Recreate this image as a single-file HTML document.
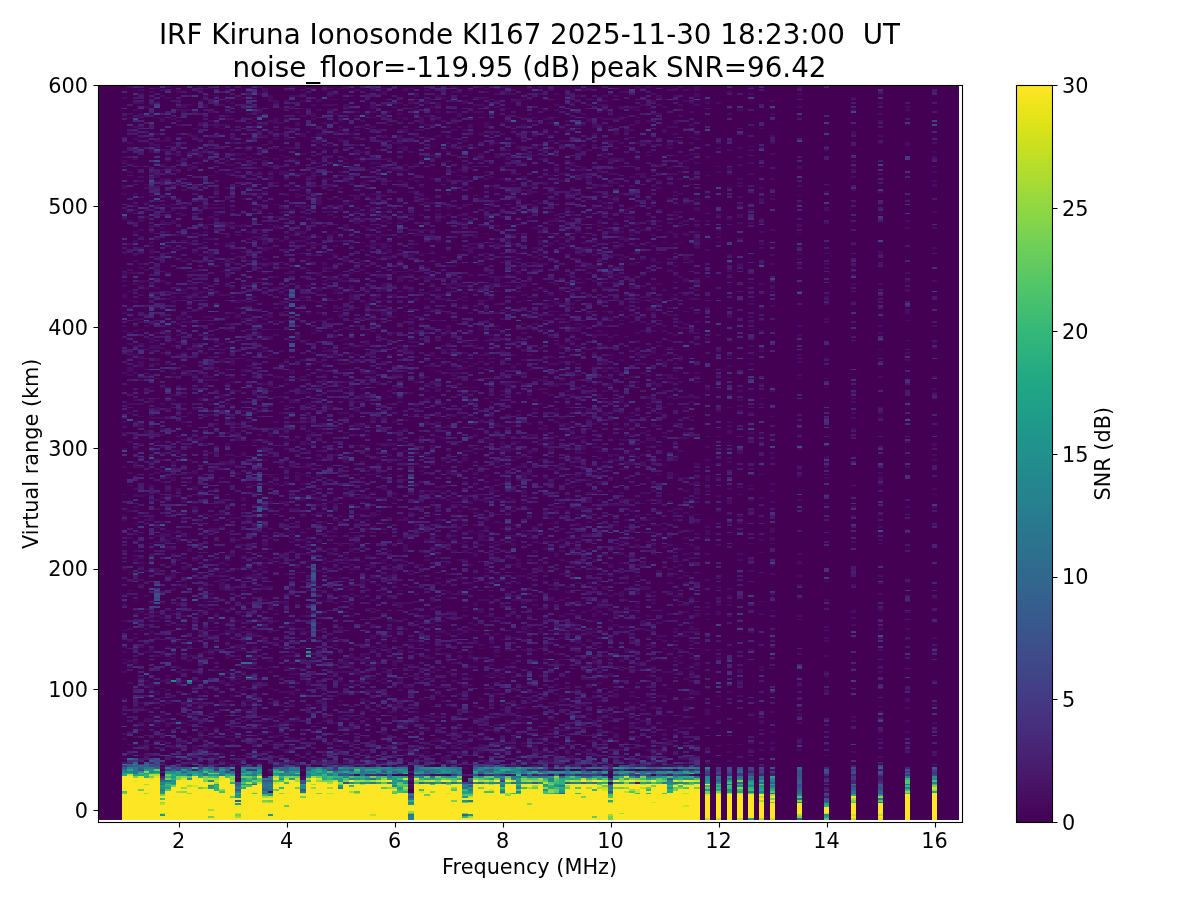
<!DOCTYPE html>
<html lang="en"><head><meta charset="utf-8"><title>IRF Kiruna Ionosonde KI167</title>
<style>html,body{margin:0;padding:0;background:#fff}body{width:1200px;height:900px;overflow:hidden}svg{display:block}text{font-family:"DejaVu Sans","Liberation Sans",sans-serif;fill:#000}.t{font-size:20.83px}.T{font-size:27.78px}</style></head><body>
<svg width="1200" height="900" viewBox="0 0 1200 900">
<defs><clipPath id="c"><rect x="98" y="85" width="864" height="737.5"/></clipPath><linearGradient id="g" x1="0" y1="0" x2="0" y2="1"><stop offset="0.0000" stop-color="#fde725"/><stop offset="0.0208" stop-color="#f1e51d"/><stop offset="0.0417" stop-color="#e5e419"/><stop offset="0.0625" stop-color="#d8e219"/><stop offset="0.0833" stop-color="#c8e020"/><stop offset="0.1042" stop-color="#bade28"/><stop offset="0.1250" stop-color="#addc30"/><stop offset="0.1458" stop-color="#9dd93b"/><stop offset="0.1667" stop-color="#90d743"/><stop offset="0.1875" stop-color="#84d44b"/><stop offset="0.2083" stop-color="#75d054"/><stop offset="0.2292" stop-color="#69cd5b"/><stop offset="0.2500" stop-color="#5ec962"/><stop offset="0.2708" stop-color="#52c569"/><stop offset="0.2917" stop-color="#48c16e"/><stop offset="0.3125" stop-color="#3fbc73"/><stop offset="0.3333" stop-color="#35b779"/><stop offset="0.3542" stop-color="#2eb37c"/><stop offset="0.3750" stop-color="#28ae80"/><stop offset="0.3958" stop-color="#23a983"/><stop offset="0.4167" stop-color="#20a486"/><stop offset="0.4375" stop-color="#1fa088"/><stop offset="0.4583" stop-color="#1f9a8a"/><stop offset="0.4792" stop-color="#1f958b"/><stop offset="0.5000" stop-color="#21918c"/><stop offset="0.5208" stop-color="#228b8d"/><stop offset="0.5417" stop-color="#24868e"/><stop offset="0.5625" stop-color="#26828e"/><stop offset="0.5833" stop-color="#287c8e"/><stop offset="0.6042" stop-color="#2a778e"/><stop offset="0.6250" stop-color="#2c728e"/><stop offset="0.6458" stop-color="#2e6d8e"/><stop offset="0.6667" stop-color="#31688e"/><stop offset="0.6875" stop-color="#33638d"/><stop offset="0.7083" stop-color="#365d8d"/><stop offset="0.7292" stop-color="#38588c"/><stop offset="0.7500" stop-color="#3b528b"/><stop offset="0.7708" stop-color="#3e4c8a"/><stop offset="0.7917" stop-color="#404688"/><stop offset="0.8125" stop-color="#424086"/><stop offset="0.8333" stop-color="#443983"/><stop offset="0.8542" stop-color="#46337f"/><stop offset="0.8750" stop-color="#472d7b"/><stop offset="0.8958" stop-color="#482576"/><stop offset="0.9167" stop-color="#481f70"/><stop offset="0.9375" stop-color="#48186a"/><stop offset="0.9583" stop-color="#471063"/><stop offset="0.9792" stop-color="#46085c"/><stop offset="1.0000" stop-color="#440154"/></linearGradient></defs>
<rect width="1200" height="900" fill="#fff"/>
<g clip-path="url(#c)" shape-rendering="crispEdges">
<rect x="98" y="85" width="860.83" height="734.8" fill="#440154"/>
<g transform="translate(97.65 819.8) scale(5.3993 -1.8123)" fill="none" stroke-width="1">
<path stroke="#470d60" d="M5 33v1m0 10v1m0 2v1m0 13v1m0 4v1m0 14v1m0 4v1m0 1v1m0 3v1m0 2v1m0 8v1m0 4v1m0 8v1m0 1v1m0 17v1m0 8v1m0 17v1m0 1v1m0 11v1m0 14v1m0 9v1m0 8v1m0 3v1m0 1v1m0 26v1m0 12v1m0 9v1m0 2v1m0 6v1m0 8v2m0 4v1m0 2v1m0 2v2m0 10v2m0 17v1m0 13v1m0 2v2m0 12v2m0 1v1m0 22v1m0 9v1m1-363v1m0 4v1m0 6v1m0 26v1m0 8v1m0 2v1m0 10v1m0 6v1m0 20v1m0 4v1m0 4v1m0 18v1m0 14v1m0 13v1m0 6v1m0 16v1m0 15v1m0 4v1m0 15v1m0 1v3m0 4v1m0 1v2m0 4v1m0 5v1m0 13v1m0 3v1m0 4v1m0 9v1m0 1v1m0 13v1m0 10v1m0 1v1m0 4v1m0 21v1m0 15v1m0 5v1m0 7v1m0 1v1m0 14v1m1-364v1m0 3v1m0 15v2m0 9v1m0 13v2m0 12v1m0 1v1m0 10v1m0 1v1m0 4v1m0 11v1m0 10v1m0 1v1m0 2v1m0 8v1m0 5v1m0 8v1m0 5v2m0 2v1m0 6v1m0 4v1m0 1v2m0 6v1m0 6v1m0 7v1m0 9v1m0 1v1m0 14v1m0 9v1m0 4v1m0 2v1m0 4v1m0 2v1m0 2v2m0 8v1m0 9v1m0 5v1m0 6v1m0 2v1m0 7v1m0 4v1m0 11v1m0 1v1m0 6v1m0 18v1m0 10v1m0 3v1m0 2v1m0 8v1m0 3v1m1-361v1m0 4v1m0 8v1m0 3v1m0 7v1m0 2v1m0 30v1m0 8v1m0 3v1m0 5v1m0 14v1m0 2v1m0 6v1m0 1v1m0 2v1m0 22v1m0 10v1m0 15v1m0 12v1m0 9v2m0 3v1m0 6v1m0 12v1m0 7v3m0 1v2m0 6v1m0 7v1m0 3v1m0 1v1m0 12v1m0 4v1m0 1v2m0 6v1m0 1v1m0 5v1m0 2v1m0 5v1m0 3v1m0 4v2m0 11v1m0 8v1m0 1v1m0 5v1m0 9v1m0 5v1m0 5v1m0 5v2m0 5v1m0 4v1m0 1v1m1-368v1m0 2v1m0 2v2m0 11v2m0 4v1m0 13v1m0 1v1m0 15v1m0 12v1m0 1v1m0 5v1m0 2v1m0 6v1m0 7v1m0 5v1m0 27v1m0 13v1m0 33v2m0 17v1m0 3v1m0 9v1m0 7v1m0 17v1m0 20v1m0 3v1m0 5v1m0 28v1m0 3v1m0 3v1m0 7v1m0 1v1m0 42v1m1-353v1m0 12v2m0 1v1m0 9v1m0 3v1m0 1v3m0 16v3m0 8v1m0 7v1m0 1v1m0 1v1m0 3v1m0 23v1m0 2v1m0 5v1m0 12v2m0 9v1m0 6v2m0 12v1m0 2v1m0 2v1m0 1v1m0 10v2m0 3v1m0 1v1m0 6v2m0 6v1m0 6v1m0 5v1m0 6v1m0 1v2m0 1v1m0 1v1m0 7v1m0 21v1m0 16v3m0 1v1m0 7v1m0 1v2m0 28v1m0 11v2m0 2v2m0 15v1m0 4v1m0 6v1m1-359v1m0 2v1m0 4v1m0 1v1m0 3v1m0 11v2m0 3v1m0 15v1m0 8v2m0 8v1m0 2v1m0 1v1m0 21v3m0 14v1m0 2v1m0 4v1m0 9v1m0 4v1m0 3v1m0 10v1m0 1v1m0 14v1m0 4v1m0 7v1m0 4v2m0 15v1m0 7v1m0 1v2m0 5v2m0 6v1m0 5v1m0 7v1m0 10v1m0 2v1m0 7v1m0 5v1m0 9v1m0 17v1m0 2v1m0 7v1m0 2v1m0 1v2m0 6v1m0 7v3m0 1v1m0 3v1m0 8v1m0 15v1m1-376v1m0 2v1m0 7v1m0 3v1m0 2v1m0 8v1m0 1v1m0 5v1m0 3v1m0 4v1m0 3v1m0 14v1m0 19v1m0 7v1m0 33v1m0 2v2m0 6v1m0 12v1m0 8v1m0 5v1m0 5v1m0 3v1m0 2v1m0 6v1m0 2v1m0 5v1m0 7v1m0 8v1m0 18v1m0 2v1m0 8v1m0 7v1m0 19v1m0 9v1m0 15v1m0 2v1m0 2v2m0 2v1m0 18v2m0 4v1m0 2v1m0 7v1m0 4v1m0 10v2m0 12v1m0 2v1m1-352v3m0 1v1m0 8v2m0 2v1m0 2v1m0 4v2m0 1v1m0 8v1m0 6v1m0 3v1m0 4v1m0 2v1m0 7v1m0 18v1m0 14v2m0 2v2m0 1v2m0 1v1m0 10v1m0 7v1m0 2v1m0 2v1m0 3v2m0 32v1m0 3v1m0 6v1m0 4v1m0 12v1m0 4v1m0 1v1m0 4v1m0 3v2m0 3v1m0 14v1m0 2v1m0 4v1m0 5v1m0 22v1m0 4v1m0 5v1m0 2v1m0 4v1m0 9v1m0 2v1m0 2v2m0 2v1m0 1v1m0 3v1m0 4v3m0 21v1m0 5v1m1-375v1m0 8v2m0 46v1m0 1v1m0 2v1m0 4v1m0 15v1m0 1v1m0 10v2m0 5v4m0 3v1m0 5v1m0 2v1m0 5v1m0 2v1m0 19v1m0 8v2m0 5v1m0 1v2m0 2v1m0 30v1m0 2v1m0 9v1m0 1v1m0 14v1m0 2v2m0 5v1m0 13v2m0 1v1m0 21v1m0 4v1m0 13v2m0 5v1m0 21v2m0 7v1m0 3v1m0 1v1m0 12v1m1-352v1m0 3v1m0 2v1m0 11v1m0 3v1m0 15v1m0 6v1m0 1v2m0 10v1m0 2v1m0 8v1m0 6v1m0 3v2m0 23v1m0 10v2m0 3v1m0 9v1m0 11v2m0 19v2m0 19v1m0 1v1m0 10v1m0 2v1m0 3v1m0 12v1m0 6v1m0 3v1m0 2v1m0 2v1m0 2v2m0 8v1m0 3v1m0 2v1m0 20v1m0 7v1m0 19v1m0 8v1m0 1v1m0 3v1m0 5v1m0 3v1m0 2v1m0 7v1m0 4v1m0 1v1m0 5v1m0 1v1m0 1v1m0 5v2m1-374v2m0 5v1m0 5v1m0 6v1m0 1v1m0 1v1m0 9v1m0 12v1m0 11v1m0 1v1m0 3v1m0 10v1m0 1v1m0 4v1m0 4v1m0 4v1m0 5v2m0 8v2m0 4v1m0 11v1m0 8v1m0 3v1m0 5v2m0 13v1m0 4v1m0 3v1m0 9v1m0 9v1m0 9v1m0 3v1m0 11v1m0 1v1m0 2v1m0 3v1m0 2v1m0 7v1m0 4v1m0 3v1m0 1v1m0 1v1m0 1v1m0 7v1m0 1v1m0 1v1m0 15v1m0 10v1m0 2v1m0 10v1m0 4v1m0 8v1m0 12v1m0 2v1m0 12v1m0 13v2m0 1v2m0 10v1m1-376v1m0 1v1m0 1v1m0 10v1m0 6v1m0 1v1m0 9v1m0 2v1m0 1v1m0 12v1m0 4v2m0 1v1m0 4v1m0 2v1m0 27v1m0 12v1m0 8v2m0 4v1m0 31v1m0 4v1m0 6v1m0 6v1m0 11v1m0 6v1m0 20v2m0 13v1m0 13v1m0 5v1m0 6v1m0 1v1m0 5v1m0 3v1m0 2v1m0 6v1m0 7v2m0 39v2m0 1v1m0 6v1m0 8v2m0 12v1m0 2v1m0 10v1m1-374v1m0 5v3m0 13v1m0 6v1m0 9v1m0 1v1m0 2v1m0 5v1m0 7v1m0 3v1m0 3v1m0 1v1m0 7v1m0 1v1m0 22v1m0 3v1m0 5v1m0 25v1m0 1v2m0 1v1m0 7v2m0 7v2m0 16v1m0 16v1m0 15v2m0 1v1m0 13v2m0 1v1m0 2v1m0 14v1m0 7v1m0 1v1m0 1v1m0 2v1m0 6v2m0 9v1m0 19v1m0 13v1m0 11v1m0 8v1m0 7v2m0 3v1m0 8v1m1-347v2m0 2v1m0 6v1m0 1v1m0 5v3m0 10v1m0 3v1m0 8v1m0 12v2m0 8v1m0 1v1m0 13v1m0 6v1m0 8v1m0 5v1m0 12v1m0 14v1m0 2v1m0 7v1m0 4v1m0 14v2m0 15v1m0 4v2m0 10v1m0 7v1m0 5v1m0 2v1m0 14v1m0 5v1m0 1v1m0 4v1m0 1v2m0 7v1m0 11v1m0 5v1m0 11v1m0 4v2m0 2v1m0 2v1m0 7v1m0 12v1m0 2v1m0 1v2m0 6v1m0 8v1m0 11v1m0 5v1m0 1v1m1-367v2m0 2v1m0 6v2m0 12v1m0 6v1m0 2v1m0 15v1m0 2v1m0 7v1m0 4v1m0 9v1m0 1v2m0 1v1m0 6v1m0 14v1m0 13v1m0 39v1m0 2v1m0 2v1m0 4v1m0 2v1m0 12v1m0 10v1m0 4v2m0 1v1m0 1v2m0 11v1m0 9v1m0 7v1m0 1v1m0 13v1m0 3v1m0 3v1m0 12v1m0 3v1m0 3v1m0 3v1m0 2v2m0 9v1m0 10v1m0 14v1m0 4v1m0 23v2m0 4v1m0 3v1m1-370v1m0 2v1m0 1v3m0 3v1m0 12v1m0 32v1m0 1v1m0 5v1m0 1v1m0 7v1m0 6v1m0 5v1m0 1v1m0 1v1m0 2v1m0 4v1m0 3v1m0 4v1m0 16v1m0 6v1m0 19v1m0 5v1m0 8v1m0 20v1m0 5v1m0 1v1m0 10v1m0 1v1m0 3v1m0 1v1m0 4v1m0 4v1m0 3v1m0 2v1m0 5v1m0 3v1m0 27v1m0 4v4m0 6v1m0 11v1m0 4v1m0 1v1m0 15v1m0 11v1m0 2v1m0 2v1m0 2v1m0 6v1m0 1v1m0 4v1m1-362v1m0 4v2m0 14v1m0 6v1m0 15v1m0 8v1m0 13v1m0 2v1m0 6v1m0 3v1m0 2v1m0 7v1m0 12v1m0 2v1m0 21v2m0 2v1m0 8v1m0 6v1m0 2v1m0 10v1m0 1v1m0 6v1m0 8v1m0 6v1m0 3v1m0 1v1m0 1v1m0 15v1m0 6v1m0 9v1m0 3v1m0 26v1m0 35v1m0 3v1m0 2v1m0 3v1m0 5v1m0 3v2m0 1v1m0 6v1m0 4v1m0 5v1m0 7v1m0 5v3m0 2v1m0 11v1m0 5v1m1-374v1m0 3v1m0 2v2m0 23v2m0 1v1m0 7v2m0 2v1m0 2v1m0 19v1m0 13v1m0 10v4m0 1v1m0 3v1m0 1v1m0 2v1m0 19v1m0 6v2m0 4v1m0 1v1m0 11v1m0 8v1m0 35v2m0 17v2m0 3v1m0 4v1m0 12v1m0 13v1m0 12v1m0 4v1m0 18v1m0 7v1m0 2v1m0 1v1m0 41v1m0 1v1m0 10v1m1-366v1m0 1v1m0 12v1m0 1v1m0 2v1m0 4v1m0 7v2m0 8v1m0 2v1m0 5v1m0 7v2m0 5v1m0 6v2m0 3v1m0 1v1m0 3v1m0 11v1m0 7v1m0 5v1m0 2v1m0 14v1m0 6v1m0 7v1m0 22v2m0 3v1m0 5v1m0 5v1m0 5v2m0 8v1m0 10v1m0 2v1m0 16v1m0 2v1m0 6v1m0 2v1m0 3v1m0 11v1m0 4v1m0 4v1m0 1v2m0 6v1m0 7v1m0 3v2m0 4v3m0 12v1m0 5v1m0 7v1m0 4v1m0 1v1m0 19v1m0 2v1m0 1v1m0 1v1m0 5v1m0 5v1m1-366v1m0 3v1m0 1v2m0 1v1m0 1v1m0 1v1m0 1v1m0 5v1m0 6v1m0 2v1m0 5v1m0 1v1m0 17v1m0 8v1m0 2v1m0 1v1m0 8v1m0 8v3m0 8v1m0 7v2m0 6v1m0 1v1m0 10v1m0 1v1m0 7v1m0 13v1m0 4v2m0 1v1m0 2v1m0 12v2m0 1v1m0 1v1m0 2v1m0 3v1m0 14v1m0 2v1m0 6v4m0 14v1m0 2v1m0 6v1m0 5v1m0 2v1m0 4v1m0 9v1m0 13v1m0 9v1m0 8v1m0 7v1m0 11v1m0 1v1m0 2v1m0 7v1m0 3v1m0 1v1m0 1v1m0 2v1m0 5v1m0 6v1m0 1v1m1-373v1m0 1v1m0 4v3m0 13v1m0 23v1m0 4v1m0 1v1m0 1v1m0 10v1m0 2v1m0 1v2m0 8v1m0 3v1m0 3v1m0 6v1m0 17v1m0 12v1m0 2v1m0 11v1m0 21v1m0 1v2m0 3v1m0 4v1m0 8v2m0 2v1m0 4v1m0 17v1m0 22v1m0 17v2m0 3v1m0 2v2m0 16v1m0 6v1m0 11v1m0 4v1m0 21v1m0 4v1m0 4v1m0 4v1m0 1v2m0 29v1m1-354v1m0 1v1m0 7v1m0 5v1m0 1v1m0 2v1m0 5v1m0 4v1m0 4v1m0 3v1m0 7v1m0 1v2m0 1v1m0 2v1m0 1v1m0 6v1m0 3v1m0 3v1m0 11v1m0 2v1m0 5v1m0 2v1m0 2v1m0 3v1m0 1v1m0 19v1m0 4v2m0 8v1m0 14v2m0 3v1m0 4v1m0 13v1m0 17v1m0 3v2m0 5v1m0 9v1m0 11v1m0 3v1m0 13v2m0 13v1m0 3v1m0 13v2m0 5v1m0 7v1m0 21v1m0 2v1m0 2v1m0 2v1m0 13v1m0 4v1m0 5v1m0 6v1m1-351v1m0 2v1m0 1v1m0 2v1m0 1v2m0 17v2m0 2v2m0 13v1m0 1v1m0 2v1m0 7v1m0 2v1m0 8v1m0 5v1m0 3v1m0 5v1m0 5v1m0 1v1m0 10v1m0 1v2m0 18v1m0 6v1m0 4v1m0 17v2m0 2v1m0 5v1m0 14v1m0 7v1m0 1v1m0 2v1m0 24v1m0 4v1m0 1v1m0 2v1m0 7v1m0 11v1m0 3v1m0 7v1m0 3v1m0 25v1m0 11v1m0 2v1m0 3v1m0 1v1m0 3v1m0 2v1m0 2v1m0 2v1m0 4v1m0 4v1m0 4v1m0 1v1m1-373v1m0 1v1m0 1v1m0 7v2m0 19v1m0 4v1m0 3v1m0 3v1m0 9v1m0 3v2m0 3v2m0 5v2m0 2v1m0 7v1m0 2v1m0 8v1m0 3v1m0 3v3m0 15v1m0 6v2m0 1v1m0 11v1m0 6v1m0 15v1m0 3v1m0 7v2m0 14v1m0 2v1m0 6v1m0 3v1m0 6v1m0 4v1m0 1v1m0 10v1m0 1v1m0 3v1m0 4v3m0 11v1m0 7v1m0 24v1m0 1v1m0 13v1m0 3v1m0 14v1m0 7v1m0 2v1m0 3v1m0 13v1m0 1v1m0 2v1m0 7v1m1-368v1m0 15v1m0 2v1m0 16v1m0 5v1m0 3v1m0 5v2m0 31v1m0 16v2m0 3v1m0 8v1m0 45v1m0 10v1m0 7v1m0 15v1m0 2v1m0 2v1m0 11v1m0 12v1m0 2v1m0 2v1m0 1v2m0 4v1m0 6v1m0 17v1m0 3v1m0 3v2m0 2v1m0 1v1m0 7v2m0 1v1m0 1v1m0 10v1m0 1v1m0 3v1m0 2v1m0 11v1m0 1v1m0 4v1m0 3v2m0 7v1m0 5v1m0 4v1m0 1v1m0 9v1m0 3v2m1-383v1m0 10v1m0 2v1m0 9v1m0 6v1m0 2v1m0 17v1m0 7v1m0 13v1m0 1v1m0 6v1m0 2v1m0 11v1m0 5v2m0 3v1m0 4v1m0 1v1m0 1v1m0 2v1m0 2v1m0 3v3m0 4v1m0 2v1m0 5v1m0 17v1m0 12v1m0 6v1m0 3v1m0 30v1m0 4v1m0 12v1m0 7v1m0 6v1m0 2v1m0 1v1m0 22v1m0 3v1m0 3v1m0 4v2m0 1v3m0 1v1m0 17v1m0 6v1m0 16v1m0 1v1m0 6v1m0 4v1m0 5v1m0 5v1m0 11v3m1-389v1m0 9v2m0 14v1m0 6v1m0 7v1m0 7v1m0 7v1m0 8v1m0 2v1m0 2v1m0 6v1m0 8v2m0 3v1m0 8v2m0 1v1m0 7v1m0 14v1m0 5v1m0 5v1m0 4v1m0 10v1m0 3v1m0 1v1m0 6v1m0 4v2m0 9v1m0 2v1m0 4v1m0 2v3m0 14v1m0 7v1m0 2v1m0 14v1m0 1v1m0 8v2m0 3v1m0 6v2m0 27v2m0 7v1m0 2v1m0 9v1m0 24v2m0 2v1m0 15v2m0 3v1m0 6v1m0 10v4m1-368v1m0 9v1m0 2v2m0 5v1m0 3v1m0 14v1m0 25v1m0 11v1m0 3v1m0 1v1m0 3v1m0 27v1m0 9v1m0 27v1m0 2v1m0 1v1m0 24v2m0 2v1m0 13v1m0 10v1m0 9v1m0 12v1m0 2v1m0 4v1m0 6v1m0 10v1m0 5v1m0 5v1m0 1v1m0 12v1m0 5v2m0 4v1m0 6v1m0 11v1m0 9v1m0 2v1m0 5v1m0 4v1m0 4v1m0 3v3m0 8v2m1-363v1m0 3v1m0 3v1m0 3v1m0 4v1m0 1v1m0 1v1m0 7v1m0 6v1m0 18v1m0 5v1m0 2v1m0 20v2m0 18v1m0 1v1m0 2v1m0 1v1m0 24v1m0 3v1m0 20v1m0 15v1m0 11v1m0 5v1m0 2v1m0 10v1m0 3v1m0 2v1m0 6v1m0 20v1m0 4v2m0 4v1m0 5v1m0 7v1m0 14v1m0 12v1m0 2v1m0 1v1m0 18v2m0 8v1m0 2v1m0 8v1m0 5v1m0 7v1m1-355v1m0 14v2m0 15v1m0 4v1m0 2v1m0 5v1m0 5v1m0 4v1m0 10v2m0 7v1m0 2v2m0 4v1m0 10v1m0 6v1m0 2v1m0 1v1m0 10v1m0 2v1m0 12v2m0 9v2m0 2v1m0 3v1m0 10v1m0 3v1m0 4v1m0 1v1m0 2v1m0 3v1m0 5v1m0 6v1m0 4v1m0 1v2m0 6v1m0 2v1m0 21v1m0 7v1m0 5v1m0 2v1m0 8v1m0 2v1m0 9v1m0 5v1m0 2v1m0 20v2m0 4v1m0 2v1m0 2v2m0 2v1m0 4v1m0 4v1m0 4v2m0 5v1m0 3v1m0 9v1m0 5v1m1-364v2m0 3v1m0 7v1m0 1v1m0 8v1m0 5v2m0 7v1m0 1v1m0 1v1m0 3v1m0 3v1m0 1v1m0 1v1m0 11v1m0 20v2m0 19v1m0 4v1m0 1v1m0 1v1m0 1v1m0 11v1m0 6v1m0 1v1m0 13v1m0 1v1m0 12v1m0 9v1m0 10v2m0 14v2m0 32v1m0 20v1m0 15v1m0 1v1m0 2v1m0 9v1m0 3v1m0 13v1m0 9v1m0 3v1m0 5v1m0 9v1m0 12v1m0 5v1m0 2v1m0 1v1m1-372v1m0 2v1m0 17v1m0 1v1m0 23v1m0 17v1m0 1v1m0 4v1m0 14v1m0 15v1m0 2v1m0 22v1m0 8v1m0 6v1m0 8v3m0 1v1m0 18v1m0 8v1m0 10v1m0 12v1m0 15v1m0 5v3m0 19v1m0 8v1m0 15v1m0 6v1m0 4v1m0 2v1m0 15v1m0 1v1m0 1v1m0 6v1m0 1v1m0 4v1m0 1v1m0 7v1m0 11v2m0 5v1m0 8v1m0 5v1m1-384v2m0 3v1m0 12v1m0 28v1m0 8v1m0 4v1m0 11v1m0 7v1m0 1v1m0 6v1m0 33v1m0 7v1m0 12v1m0 8v1m0 2v1m0 5v1m0 4v1m0 3v1m0 4v1m0 7v2m0 7v2m0 2v1m0 14v2m0 1v1m0 5v1m0 8v1m0 9v1m0 16v1m0 5v1m0 1v1m0 30v1m0 1v1m0 1v2m0 7v1m0 4v2m0 9v1m0 7v1m0 10v1m0 9v2m0 9v1m0 3v1m0 3v1m0 3v1m0 1v1m1-370v1m0 3v1m0 36v3m0 6v1m0 15v2m0 2v1m0 2v1m0 7v1m0 18v1m0 8v1m0 3v1m0 13v1m0 13v1m0 14v1m0 4v1m0 1v1m0 6v1m0 3v1m0 3v2m0 1v1m0 4v1m0 1v1m0 1v1m0 2v1m0 2v1m0 5v1m0 6v1m0 2v1m0 4v1m0 13v1m0 14v1m0 7v1m0 6v1m0 8v1m0 3v1m0 1v1m0 7v2m0 1v2m0 16v1m0 6v1m0 6v1m0 1v1m0 24v1m0 12v1m0 4v1m1-368v1m0 10v1m0 17v1m0 26v1m0 27v1m0 13v1m0 36v1m0 15v1m0 6v1m0 18v1m0 3v1m0 1v1m0 4v1m0 32v1m0 5v1m0 10v1m0 1v1m0 15v1m0 24v1m0 4v2m0 10v1m0 1v2m0 4v1m0 6v1m0 6v1m0 2v2m0 1v2m0 5v1m0 7v1m0 9v1m0 4v1m0 1v2m0 4v1m0 8v1m1-372v2m0 12v1m0 4v1m0 1v1m0 8v1m0 1v1m0 8v1m0 1v1m0 12v1m0 4v1m0 6v1m0 7v1m0 4v1m0 6v1m0 3v1m0 12v1m0 10v1m0 1v1m0 2v2m0 13v2m0 3v1m0 2v2m0 6v1m0 4v2m0 2v1m0 4v1m0 1v2m0 1v1m0 6v1m0 4v1m0 2v1m0 8v1m0 3v1m0 15v1m0 4v1m0 22v1m0 3v1m0 5v1m0 6v2m0 6v2m0 15v1m0 3v1m0 6v1m0 10v5m0 5v1m0 5v1m0 6v1m0 7v1m0 2v2m0 2v2m0 12v1m0 4v2m1-362v1m0 5v1m0 11v1m0 2v1m0 7v1m0 29v1m0 24v1m0 5v1m0 4v1m0 7v1m0 1v1m0 1v2m0 12v1m0 6v1m0 4v1m0 2v2m0 10v1m0 14v1m0 13v1m0 7v1m0 7v1m0 11v2m0 2v1m0 1v1m0 3v1m0 3v1m0 2v1m0 1v1m0 14v1m0 2v1m0 3v1m0 1v1m0 12v1m0 5v2m0 1v2m0 19v1m0 7v1m0 9v1m0 3v1m0 3v1m0 1v1m0 13v1m0 5v1m0 2v1m0 5v1m0 9v1m0 7v1m0 1v1m1-350v1m0 2v1m0 3v1m0 16v1m0 2v1m0 1v1m0 6v1m0 6v2m0 21v1m0 2v1m0 8v1m0 4v1m0 7v2m0 1v1m0 6v1m0 1v2m0 15v1m0 18v1m0 31v1m0 1v1m0 27v1m0 1v2m0 11v1m0 4v1m0 10v1m0 5v1m0 2v1m0 1v2m0 2v1m0 1v1m0 4v1m0 2v1m0 5v1m0 3v1m0 10v1m0 1v1m0 1v1m0 4v1m0 4v1m0 1v1m0 3v1m0 12v1m0 4v1m0 15v1m0 1v1m0 1v1m0 2v1m0 2v1m0 1v1m0 1v1m0 1v1m1-374v1m0 4v1m0 1v1m0 2v1m0 6v1m0 5v1m0 14v1m0 12v1m0 1v1m0 12v1m0 7v1m0 5v1m0 8v1m0 19v1m0 2v1m0 5v1m0 7v1m0 1v1m0 2v1m0 3v1m0 4v1m0 2v2m0 2v1m0 23v1m0 2v1m0 10v1m0 37v1m0 1v2m0 9v2m0 14v2m0 2v1m0 3v1m0 1v1m0 5v1m0 7v1m0 4v1m0 4v1m0 2v1m0 4v1m0 7v1m0 5v1m0 11v1m0 25v1m0 2v1m0 9v1m0 2v1m0 1v1m0 2v1m0 2v1m1-363v1m0 1v1m0 9v2m0 3v2m0 6v1m0 1v1m0 3v1m0 6v1m0 4v1m0 1v1m0 2v1m0 11v1m0 5v3m0 8v1m0 4v1m0 2v1m0 9v1m0 7v1m0 9v2m0 11v1m0 2v1m0 23v1m0 32v1m0 12v1m0 1v1m0 11v1m0 12v1m0 12v2m0 1v1m0 1v1m0 14v2m0 1v1m0 18v1m0 1v1m0 14v2m0 4v1m0 5v1m0 8v1m0 16v2m0 4v1m0 1v1m0 2v1m0 17v1m0 1v1m1-374v1m0 2v1m0 33v1m0 4v1m0 6v1m0 3v3m0 1v1m0 24v1m0 7v1m0 3v1m0 1v1m0 2v1m0 9v1m0 1v2m0 1v1m0 31v2m0 2v1m0 14v2m0 12v1m0 1v1m0 7v1m0 2v1m0 7v1m0 8v1m0 6v1m0 2v1m0 8v1m0 1v1m0 2v1m0 5v1m0 25v1m0 1v1m0 8v2m0 16v3m0 10v2m0 13v2m0 3v1m0 2v1m0 1v1m0 5v1m0 8v1m0 1v1m0 11v2m0 2v1m0 5v2m1-375v1m0 10v2m0 6v3m0 4v1m0 18v1m0 5v1m0 1v3m0 3v3m0 20v1m0 3v1m0 1v2m0 4v1m0 1v2m0 8v1m0 1v1m0 1v1m0 7v2m0 1v2m0 2v1m0 29v1m0 4v1m0 32v1m0 7v1m0 4v2m0 1v1m0 14v1m0 2v1m0 3v1m0 6v1m0 6v1m0 5v1m0 5v3m0 3v2m0 6v1m0 14v1m0 1v1m0 4v1m0 7v1m0 2v1m0 6v1m0 9v1m0 3v1m0 20v1m0 1v1m0 20v1m0 5v1m1-382v1m0 4v1m0 1v2m0 11v1m0 7v1m0 2v1m0 20v1m0 3v2m0 1v1m0 5v1m0 33v1m0 14v1m0 5v1m0 2v1m0 5v1m0 2v1m0 6v1m0 1v1m0 2v1m0 8v1m0 3v1m0 5v1m0 18v1m0 5v1m0 4v2m0 6v2m0 3v1m0 21v1m0 3v1m0 15v1m0 9v1m0 13v1m0 1v1m0 5v1m0 1v1m0 2v1m0 11v1m0 7v2m0 1v1m0 2v1m0 1v1m0 4v3m0 15v1m0 3v1m0 3v2m0 2v1m0 2v1m0 4v1m0 7v1m0 1v1m0 11v1m1-372v1m0 1v1m0 3v1m0 15v1m0 2v1m0 8v2m0 8v1m0 3v1m0 7v1m0 2v2m0 15v1m0 14v1m0 7v3m0 9v1m0 20v1m0 7v1m0 3v1m0 1v3m0 4v1m0 12v1m0 7v1m0 9v1m0 1v1m0 12v1m0 1v3m0 2v1m0 2v1m0 5v1m0 6v1m0 7v1m0 14v2m0 7v1m0 17v1m0 2v1m0 1v1m0 5v1m0 3v1m0 4v1m0 3v1m0 3v1m0 12v1m0 5v2m0 11v1m0 1v1m0 2v1m0 13v1m0 2v1m0 19v1m1-373v1m0 2v1m0 1v1m0 6v1m0 9v1m0 7v1m0 1v1m0 5v1m0 5v1m0 3v1m0 3v1m0 1v1m0 3v1m0 3v1m0 1v1m0 6v1m0 5v1m0 5v1m0 10v1m0 4v1m0 7v1m0 4v1m0 14v1m0 2v1m0 1v1m0 5v1m0 6v1m0 13v1m0 1v1m0 6v1m0 1v1m0 1v1m0 6v1m0 18v1m0 2v1m0 7v1m0 3v1m0 10v1m0 4v3m0 14v2m0 2v2m0 5v1m0 1v1m0 1v1m0 6v1m0 14v1m0 4v1m0 3v2m0 7v1m0 8v1m0 8v1m0 5v1m0 30v1m0 10v1m1-372v2m0 8v1m0 2v1m0 8v1m0 5v1m0 12v2m0 5v1m0 6v2m0 1v1m0 5v1m0 1v1m0 4v2m0 5v1m0 3v1m0 2v1m0 1v1m0 4v1m0 8v1m0 2v1m0 5v2m0 20v1m0 5v3m0 7v1m0 2v1m0 9v1m0 2v1m0 22v1m0 3v3m0 21v1m0 1v2m0 8v1m0 2v1m0 9v1m0 2v1m0 1v1m0 1v1m0 1v1m0 7v3m0 21v1m0 5v3m0 3v1m0 12v1m0 1v1m0 3v2m0 2v1m0 13v1m0 2v1m0 19v1m0 4v1m0 2v1m0 1v3m0 7v1m1-372v1m0 22v1m0 4v1m0 11v1m0 4v1m0 9v1m0 42v1m0 3v1m0 10v1m0 23v1m0 1v1m0 6v1m0 13v1m0 3v2m0 2v1m0 7v1m0 8v1m0 23v2m0 23v1m0 1v1m0 3v1m0 1v1m0 2v1m0 3v1m0 5v1m0 1v1m0 3v1m0 6v1m0 9v1m0 7v1m0 2v2m0 4v1m0 17v2m0 8v1m0 2v1m0 4v1m0 6v1m0 10v1m0 19v1m0 2v1m1-363v1m0 5v2m0 19v1m0 6v1m0 1v1m0 3v1m0 13v2m0 1v1m0 1v1m0 23v1m0 1v1m0 1v1m0 6v1m0 5v1m0 1v1m0 14v1m0 1v1m0 13v1m0 2v1m0 4v2m0 23v1m0 13v2m0 9v1m0 15v1m0 3v1m0 25v3m0 2v1m0 2v1m0 5v1m0 1v2m0 3v1m0 10v1m0 2v1m0 1v3m0 4v1m0 7v1m0 2v1m0 1v1m0 1v1m0 13v1m0 7v1m0 4v1m0 6v1m0 2v1m0 1v2m0 10v1m0 5v1m0 5v2m0 1v1m0 1v1m1-368v1m0 20v1m0 8v1m0 9v1m0 2v1m0 6v1m0 3v3m0 8v1m0 2v1m0 2v2m0 11v1m0 3v1m0 6v2m0 3v1m0 1v1m0 5v1m0 1v1m0 3v1m0 13v1m0 30v1m0 3v1m0 4v2m0 7v1m0 13v1m0 3v1m0 2v1m0 19v1m0 6v1m0 3v1m0 9v1m0 3v1m0 4v1m0 2v1m0 19v2m0 2v2m0 1v1m0 5v1m0 2v1m0 3v1m0 6v1m0 7v1m0 7v1m0 6v1m0 4v1m0 11v1m0 6v1m0 6v1m0 14v1m1-374v1m0 3v1m0 1v1m0 2v1m0 13v2m0 2v1m0 2v2m0 9v1m0 11v3m0 2v1m0 9v1m0 8v2m0 8v1m0 10v1m0 4v1m0 1v2m0 3v1m0 9v1m0 6v1m0 17v1m0 1v2m0 26v1m0 11v1m0 7v1m0 9v1m0 7v1m0 4v1m0 17v1m0 8v1m0 2v2m0 6v2m0 4v1m0 6v2m0 8v1m0 25v1m0 20v1m0 14v1m0 19v1m1-350v1m0 8v1m0 7v1m0 1v1m0 7v1m0 4v2m0 14v2m0 1v1m0 21v3m0 6v1m0 26v2m0 10v1m0 32v1m0 11v1m0 3v1m0 15v1m0 1v1m0 12v1m0 13v1m0 1v1m0 24v1m0 10v3m0 2v1m0 2v1m0 2v1m0 2v1m0 2v1m0 6v1m0 7v1m0 1v1m0 17v1m0 2v1m0 5v1m0 11v1m0 2v1m0 1v3m0 2v1m0 6v1m0 1v1m0 5v1m1-364v1m0 2v2m0 1v1m0 12v2m0 8v1m0 11v2m0 10v1m0 19v1m0 13v1m0 20v1m0 7v4m0 3v1m0 9v2m0 20v1m0 7v1m0 3v1m0 3v1m0 4v1m0 6v1m0 4v1m0 17v1m0 8v1m0 2v1m0 7v1m0 1v1m0 19v1m0 2v1m0 10v1m0 7v1m0 19v1m0 7v1m0 2v1m0 17v1m0 6v1m0 2v1m0 7v3m0 7v2m0 5v2m0 6v1m0 7v2m1-387v2m0 2v1m0 1v1m0 11v1m0 3v1m0 13v1m0 19v1m0 5v1m0 2v1m0 2v1m0 2v1m0 5v1m0 1v1m0 1v1m0 16v1m0 3v1m0 8v1m0 6v1m0 1v1m0 19v1m0 5v1m0 5v1m0 9v2m0 4v1m0 13v1m0 22v1m0 12v1m0 15v1m0 6v1m0 2v1m0 1v1m0 1v1m0 4v2m0 1v1m0 2v1m0 1v1m0 7v1m0 4v2m0 4v1m0 2v1m0 2v1m0 6v2m0 3v1m0 9v1m0 7v1m0 12v1m0 6v1m0 5v1m0 8v1m0 26v2m0 6v1m1-368v2m0 1v1m0 6v1m0 2v1m0 9v1m0 1v2m0 15v2m0 11v1m0 6v1m0 10v1m0 3v1m0 10v1m0 3v1m0 11v1m0 16v1m0 2v1m0 1v1m0 5v1m0 7v1m0 8v1m0 23v1m0 16v1m0 1v1m0 12v1m0 13v1m0 5v1m0 1v1m0 4v2m0 16v2m0 19v1m0 9v1m0 4v2m0 1v1m0 16v1m0 9v1m0 8v1m0 15v1m0 2v1m0 8v1m0 1v1m0 1v1m0 3v1m0 1v2m1-371v1m0 5v1m0 3v1m0 10v1m0 3v1m0 10v1m0 9v1m0 5v1m0 13v1m0 6v1m0 4v1m0 2v1m0 8v1m0 13v1m0 5v1m0 6v1m0 24v1m0 2v1m0 4v1m0 9v1m0 1v1m0 1v2m0 5v1m0 2v1m0 5v1m0 11v1m0 20v1m0 29v1m0 1v1m0 1v1m0 12v1m0 8v1m0 2v1m0 8v1m0 10v1m0 2v1m0 3v1m0 3v1m0 7v1m0 3v1m0 3v1m0 5v1m0 7v1m0 2v1m0 13v1m0 3v4m1-359v1m0 5v1m0 1v1m0 3v1m0 7v1m0 4v2m0 15v1m0 7v1m0 3v1m0 5v2m0 6v1m0 6v1m0 5v1m0 1v1m0 19v1m0 10v1m0 10v1m0 26v1m0 19v1m0 16v2m0 2v1m0 8v2m0 3v1m0 3v1m0 3v1m0 5v1m0 19v1m0 5v1m0 3v1m0 2v1m0 3v1m0 2v1m0 7v2m0 4v1m0 2v1m0 4v1m0 9v1m0 2v1m0 5v1m0 8v1m0 1v1m0 22v1m0 9v2m0 6v1m0 4v1m0 6v2m0 5v1m1-379v1m0 5v1m0 1v1m0 10v1m0 12v1m0 5v1m0 11v1m0 2v1m0 3v1m0 1v1m0 5v1m0 16v1m0 1v1m0 2v1m0 4v1m0 3v2m0 26v1m0 1v1m0 3v1m0 1v1m0 18v1m0 1v1m0 1v3m0 14v1m0 1v1m0 3v1m0 2v2m0 26v1m0 6v1m0 7v1m0 1v1m0 5v2m0 23v1m0 4v1m0 4v1m0 3v1m0 2v2m0 13v1m0 8v1m0 2v1m0 14v1m0 12v1m0 17v1m0 11v1m0 1v1m0 1v1m0 5v1m0 11v1m1-382v1m0 18v2m0 5v1m0 5v1m0 12v1m0 3v1m0 8v1m0 10v2m0 6v1m0 1v1m0 3v1m0 4v1m0 2v1m0 1v1m0 12v1m0 2v1m0 8v1m0 1v1m0 1v1m0 2v2m0 2v2m0 1v1m0 8v1m0 5v1m0 5v1m0 3v1m0 1v1m0 27v1m0 3v2m0 1v2m0 2v2m0 12v2m0 3v1m0 1v1m0 3v1m0 17v1m0 9v1m0 11v1m0 1v1m0 3v1m0 25v1m0 10v2m0 1v2m0 1v1m0 2v1m0 37v1m0 8v1m0 3v1m0 1v1m0 1v2m0 3v1m1-376v1m0 7v3m0 6v2m0 22v1m0 2v1m0 4v1m0 2v1m0 14v1m0 2v1m0 1v1m0 6v2m0 4v1m0 2v1m0 16v1m0 9v1m0 13v1m0 29v2m0 10v1m0 2v1m0 11v1m0 18v1m0 21v1m0 2v1m0 3v2m0 1v1m0 5v1m0 2v1m0 16v1m0 1v1m0 20v1m0 21v1m0 21v1m0 30v1m0 12v1m1-370v1m0 3v2m0 2v1m0 3v1m0 5v1m0 25v1m0 7v1m0 5v1m0 1v1m0 1v1m0 10v1m0 11v1m0 7v1m0 2v1m0 4v1m0 1v1m0 2v1m0 5v1m0 8v1m0 1v1m0 2v1m0 1v1m0 18v1m0 14v2m0 6v1m0 3v1m0 10v1m0 1v2m0 3v1m0 24v1m0 1v1m0 8v1m0 1v1m0 2v1m0 5v2m0 1v2m0 6v1m0 7v1m0 3v1m0 1v3m0 9v1m0 8v1m0 18v1m0 3v2m0 6v1m0 6v2m0 5v1m0 3v1m0 4v1m0 2v1m0 1v1m0 3v1m0 4v1m1-347v1m0 2v2m0 1v1m0 2v1m0 2v2m0 4v1m0 16v1m0 4v1m0 2v1m0 6v1m0 17v1m0 7v1m0 1v1m0 9v1m0 23v1m0 3v1m0 1v1m0 1v1m0 16v1m0 1v1m0 1v1m0 13v1m0 30v2m0 21v2m0 1v1m0 5v1m0 3v1m0 5v1m0 10v1m0 2v1m0 16v1m0 2v1m0 6v1m0 41v1m0 9v1m0 12v1m0 4v1m0 4v1m0 3v1m0 1v1m0 3v1m0 5v1m0 4v1m0 2v1m1-369v2m0 4v1m0 4v1m0 8v1m0 2v1m0 6v1m0 2v1m0 19v2m0 1v1m0 9v1m0 1v1m0 19v3m0 6v1m0 9v1m0 8v1m0 7v2m0 3v2m0 3v1m0 2v1m0 1v1m0 15v1m0 3v1m0 10v1m0 18v1m0 12v1m0 4v1m0 2v1m0 1v2m0 3v1m0 2v1m0 25v1m0 4v1m0 6v2m0 2v1m0 24v1m0 9v1m0 21v1m0 2v1m0 12v1m0 10v1m0 5v2m0 11v1m1-374v1m0 3v1m0 5v1m0 1v1m0 1v1m0 30v2m0 3v1m0 18v1m0 5v2m0 7v1m0 2v1m0 1v1m0 23v1m0 1v1m0 3v2m0 2v1m0 1v1m0 10v1m0 12v2m0 7v1m0 11v2m0 3v1m0 17v2m0 15v1m0 10v1m0 2v1m0 1v1m0 2v1m0 5v1m0 6v1m0 12v1m0 2v1m0 1v1m0 1v1m0 3v1m0 19v1m0 6v1m0 5v1m0 1v1m0 3v1m0 4v2m0 9v1m0 2v1m0 1v1m0 2v1m0 3v1m0 12v1m0 5v1m0 14v2m0 2v1m1-361v1m0 7v1m0 2v1m0 5v1m0 2v1m0 14v1m0 2v1m0 6v1m0 4v2m0 1v1m0 12v1m0 2v1m0 18v1m0 2v1m0 9v1m0 8v1m0 9v1m0 11v1m0 2v2m0 27v1m0 1v1m0 12v1m0 11v1m0 5v1m0 13v1m0 11v1m0 5v1m0 10v1m0 13v1m0 6v1m0 11v4m0 1v1m0 14v1m0 15v1m0 10v1m0 19v1m0 2v2m0 18v1m1-365v1m0 6v1m0 9v1m0 28v1m0 2v1m0 9v2m0 8v1m0 2v1m0 4v1m0 2v2m0 25v2m0 4v1m0 6v1m0 3v1m0 6v1m0 6v1m0 2v1m0 1v1m0 6v1m0 2v1m0 10v1m0 8v2m0 2v1m0 2v1m0 2v1m0 16v1m0 3v1m0 8v1m0 8v2m0 3v1m0 17v1m0 8v1m0 3v1m0 13v1m0 4v1m0 1v1m0 3v2m0 3v1m0 38v1m0 4v1m0 19v1m0 3v1m0 3v1m1-375v1m0 12v1m0 2v2m0 2v1m0 1v1m0 3v1m0 2v1m0 3v1m0 8v1m0 22v1m0 4v1m0 1v1m0 17v3m0 4v1m0 29v1m0 2v4m0 1v1m0 7v1m0 8v1m0 17v1m0 9v1m0 14v2m0 22v1m0 5v1m0 2v1m0 1v1m0 1v1m0 13v1m0 1v1m0 12v1m0 7v1m0 12v1m0 20v1m0 14v1m0 17v1m0 3v1m0 1v2m0 10v1m0 11v1m0 3v1m0 3v1m0 5v1m1-373v1m0 21v1m0 2v1m0 2v1m0 18v1m0 32v1m0 8v1m0 8v1m0 5v1m0 1v1m0 15v1m0 1v1m0 3v2m0 3v1m0 9v2m0 9v1m0 2v1m0 10v1m0 7v1m0 47v2m0 9v1m0 1v1m0 5v1m0 5v1m0 4v1m0 13v1m0 1v1m0 6v2m0 12v1m0 3v1m0 3v2m0 4v1m0 10v1m0 4v1m0 3v1m0 24v3m0 13v1m0 2v1m0 1v1m1-355v1m0 14v1m0 2v1m0 1v1m0 3v1m0 6v1m0 4v1m0 9v1m0 1v2m0 2v1m0 7v1m0 2v1m0 2v1m0 7v1m0 4v1m0 7v1m0 6v1m0 1v1m0 6v1m0 28v3m0 11v1m0 10v1m0 2v1m0 1v1m0 10v1m0 5v1m0 1v1m0 4v1m0 13v1m0 2v1m0 11v2m0 1v1m0 2v1m0 5v1m0 10v2m0 4v3m0 3v1m0 2v1m0 33v1m0 1v1m0 1v1m0 8v1m0 4v1m0 17v1m0 5v1m0 9v1m1-352v1m0 10v1m0 3v1m0 3v1m0 12v1m0 1v1m0 7v1m0 1v1m0 8v1m0 1v2m0 8v1m0 8v1m0 8v1m0 11v1m0 2v1m0 15v1m0 1v1m0 10v1m0 11v1m0 4v1m0 5v1m0 9v1m0 13v1m0 2v1m0 2v2m0 13v1m0 27v1m0 4v2m0 5v1m0 6v1m0 4v1m0 6v1m0 5v3m0 16v2m0 2v1m0 6v1m0 13v1m0 6v1m0 1v1m0 14v3m0 5v1m0 19v1m0 2v1m0 3v1m0 2v1m1-367v1m0 1v1m0 2v1m0 3v1m0 11v1m0 1v1m0 2v1m0 12v1m0 3v1m0 1v2m0 15v1m0 11v1m0 5v2m0 3v1m0 11v1m0 17v1m0 7v1m0 2v1m0 4v1m0 2v1m0 4v1m0 2v1m0 5v1m0 4v1m0 8v1m0 1v1m0 1v2m0 2v2m0 2v1m0 5v1m0 4v1m0 11v1m0 1v1m0 3v1m0 2v2m0 3v1m0 4v1m0 4v1m0 9v1m0 7v1m0 4v1m0 12v1m0 4v1m0 10v1m0 21v1m0 11v1m0 8v1m0 6v1m0 17v1m0 5v1m0 7v1m0 11v2m1-382v1m0 4v1m0 8v1m0 1v1m0 7v1m0 3v2m0 3v2m0 29v1m0 4v1m0 7v1m0 11v1m0 14v1m0 15v1m0 3v1m0 10v1m0 9v1m0 7v1m0 9v2m0 5v1m0 4v1m0 3v2m0 6v1m0 3v1m0 7v1m0 10v1m0 4v2m0 10v1m0 28v1m0 13v1m0 5v1m0 18v2m0 7v1m0 15v1m0 1v1m0 5v1m0 7v2m0 2v2m0 3v1m0 6v1m0 8v1m0 2v1m0 3v1m0 7v2m0 2v1m1-365v1m0 2v3m0 4v1m0 3v1m0 2v1m0 4v1m0 1v2m0 1v1m0 3v1m0 6v2m0 1v1m0 4v1m0 13v1m0 12v1m0 2v1m0 4v1m0 1v1m0 12v1m0 3v1m0 4v1m0 5v2m0 1v1m0 1v1m0 3v1m0 1v1m0 7v1m0 1v1m0 3v1m0 4v1m0 16v1m0 1v1m0 3v1m0 3v1m0 2v1m0 5v1m0 27v1m0 3v2m0 5v1m0 6v1m0 15v1m0 8v1m0 14v1m0 4v1m0 1v1m0 6v1m0 4v1m0 19v1m0 7v1m0 1v1m0 3v1m0 3v1m0 12v1m0 22v1m0 3v1m0 1v1m1-372v1m0 6v1m0 8v1m0 7v2m0 2v1m0 3v1m0 19v1m0 16v1m0 10v1m0 9v1m0 4v1m0 3v1m0 3v1m0 4v3m0 1v1m0 12v1m0 30v1m0 6v1m0 4v2m0 7v1m0 1v1m0 7v1m0 4v1m0 1v1m0 15v1m0 3v1m0 5v1m0 8v1m0 4v2m0 3v1m0 14v1m0 8v1m0 6v1m0 3v1m0 17v1m0 15v1m0 2v1m0 13v1m0 9v1m0 3v2m0 5v1m0 18v2m1-366v1m0 2v1m0 4v1m0 1v1m0 10v1m0 2v1m0 4v2m0 10v1m0 5v1m0 13v1m0 5v1m0 3v1m0 1v2m0 12v2m0 13v1m0 3v1m0 18v1m0 1v1m0 14v1m0 5v2m0 6v4m0 2v3m0 3v1m0 3v1m0 35v1m0 4v1m0 7v1m0 4v2m0 8v1m0 1v1m0 2v1m0 3v1m0 8v1m0 2v1m0 4v2m0 8v2m0 7v1m0 8v1m0 5v1m0 5v1m0 4v1m0 7v1m0 6v1m0 7v1m0 12v1m0 5v1m0 1v1m0 13v1m1-369v1m0 1v2m0 6v1m0 24v1m0 1v1m0 7v1m0 1v1m0 15v1m0 8v1m0 2v1m0 1v1m0 3v1m0 1v1m0 3v1m0 18v1m0 7v1m0 11v1m0 1v1m0 8v1m0 4v1m0 5v1m0 12v2m0 1v1m0 5v1m0 2v2m0 8v1m0 5v1m0 13v1m0 1v2m0 1v1m0 10v1m0 7v1m0 14v1m0 16v1m0 8v1m0 1v1m0 2v1m0 4v1m0 24v1m0 2v1m0 9v3m0 1v1m0 17v1m0 3v1m0 7v1m0 9v1m0 2v1m0 4v1m0 5v1m1-367v1m0 1v2m0 3v1m0 16v1m0 8v1m0 13v1m0 8v1m0 24v1m0 2v1m0 1v1m0 10v1m0 2v1m0 9v2m0 4v1m0 7v1m0 41v1m0 7v2m0 13v1m0 4v1m0 11v1m0 29v1m0 14v1m0 3v1m0 10v1m0 2v2m0 2v1m0 4v1m0 10v1m0 7v1m0 3v1m0 2v1m0 4v1m0 2v1m0 16v1m0 3v2m0 5v1m0 7v1m0 1v1m1-359v1m0 6v2m0 8v1m0 32v1m0 23v1m0 1v1m0 10v1m0 21v2m0 12v1m0 10v1m0 30v1m0 3v1m0 8v1m0 1v1m0 5v2m0 1v1m0 10v1m0 7v1m0 4v1m0 17v1m0 9v1m0 5v1m0 29v1m0 2v1m0 1v1m0 3v1m0 1v3m0 1v1m0 3v1m0 14v1m0 23v1m0 7v1m0 19v1m0 7v1m0 3v1m1-372v1m0 3v1m0 7v1m0 1v1m0 18v1m0 11v1m0 12v1m0 3v2m0 14v1m0 4v1m0 19v1m0 5v1m0 6v1m0 5v1m0 2v1m0 8v1m0 2v1m0 13v1m0 3v1m0 1v1m0 5v1m0 8v1m0 3v1m0 5v1m0 1v1m0 17v1m0 1v1m0 3v2m0 6v1m0 20v1m0 7v1m0 4v2m0 7v1m0 13v1m0 38v1m0 4v2m0 3v1m0 13v1m0 6v1m0 1v1m0 7v1m0 4v1m0 5v1m1-374v1m0 2v1m0 4v2m0 8v1m0 2v1m0 3v1m0 5v1m0 8v1m0 18v1m0 18v1m0 18v2m0 4v1m0 1v1m0 18v1m0 1v1m0 2v1m0 9v1m0 2v1m0 4v1m0 7v1m0 6v1m0 6v1m0 9v2m0 2v2m0 25v1m0 4v1m0 11v1m0 3v1m0 10v1m0 3v1m0 4v1m0 2v1m0 1v1m0 2v1m0 2v1m0 2v1m0 18v1m0 8v1m0 10v1m0 1v1m0 4v1m0 6v1m0 3v1m0 8v1m0 18v1m0 9v1m0 1v1m0 15v1m0 2v1m1-376v1m0 4v2m0 2v1m0 2v1m0 6v1m0 4v1m0 8v2m0 4v1m0 4v1m0 11v2m0 3v1m0 11v1m0 22v3m0 3v1m0 12v2m0 16v2m0 5v1m0 1v1m0 15v1m0 3v1m0 1v1m0 24v1m0 4v1m0 1v1m0 12v2m0 10v1m0 2v1m0 7v1m0 5v1m0 11v1m0 3v2m0 9v1m0 7v1m0 15v1m0 2v1m0 7v2m0 1v1m0 8v1m0 1v1m0 3v1m0 8v1m0 1v1m0 7v1m0 1v1m0 17v1m0 3v1m0 2v1m0 5v1m1-377v1m0 2v1m0 1v2m0 9v1m0 8v1m0 15v2m0 1v1m0 16v1m0 2v1m0 11v1m0 1v1m0 3v1m0 5v1m0 8v1m0 13v1m0 7v1m0 4v1m0 2v1m0 2v1m0 5v1m0 6v1m0 4v1m0 1v2m0 14v1m0 3v1m0 23v1m0 2v1m0 11v1m0 6v1m0 1v1m0 9v1m0 7v2m0 14v1m0 1v1m0 5v1m0 7v1m0 24v1m0 3v1m0 4v1m0 25v1m0 3v1m0 15v1m0 1v1m0 6v1m1-348v1m0 1v1m0 1v1m0 3v1m0 4v1m0 1v1m0 2v1m0 19v2m0 4v1m0 17v1m0 6v1m0 9v1m0 8v1m0 2v1m0 2v1m0 6v1m0 6v1m0 12v1m0 14v1m0 6v1m0 23v1m0 3v1m0 1v1m0 6v1m0 1v1m0 1v1m0 4v1m0 3v1m0 1v1m0 1v1m0 2v1m0 1v1m0 18v1m0 7v1m0 8v1m0 1v1m0 8v1m0 11v1m0 4v1m0 15v1m0 1v1m0 1v1m0 4v1m0 10v2m0 4v1m0 20v1m0 10v1m0 4v2m0 4v1m0 13v1m0 2v1m1-369v2m0 5v1m0 21v1m0 25v1m0 5v1m0 6v1m0 1v3m0 1v1m0 4v1m0 4v1m0 9v1m0 6v1m0 13v1m0 33v1m0 4v1m0 10v1m0 4v1m0 5v1m0 3v1m0 2v1m0 16v1m0 3v1m0 5v1m0 7v1m0 10v1m0 3v1m0 1v2m0 4v2m0 5v1m0 1v1m0 5v1m0 3v1m0 1v1m0 3v1m0 1v1m0 12v1m0 15v1m0 1v1m0 1v1m0 9v1m0 2v1m0 6v1m0 5v2m0 20v1m0 6v1m0 4v1m1-358v1m0 23v2m0 2v1m0 4v1m0 13v1m0 2v1m0 3v1m0 2v1m0 1v2m0 5v1m0 14v1m0 10v1m0 7v1m0 1v1m0 2v1m0 6v1m0 4v1m0 6v2m0 4v1m0 2v2m0 11v1m0 1v1m0 2v2m0 6v2m0 1v1m0 1v2m0 6v2m0 5v1m0 7v1m0 5v1m0 5v1m0 4v1m0 2v1m0 5v1m0 9v1m0 3v1m0 3v3m0 1v1m0 18v1m0 5v1m0 6v1m0 3v1m0 4v1m0 9v1m0 2v1m0 18v1m0 7v1m0 3v1m0 10v3m0 25v1m0 1v1m1-363v1m0 12v1m0 12v1m0 13v1m0 4v1m0 13v1m0 17v1m0 3v1m0 7v1m0 15v1m0 1v1m0 12v1m0 3v1m0 9v2m0 18v1m0 10v1m0 1v3m0 2v1m0 14v1m0 32v1m0 14v1m0 23v1m0 10v1m0 3v1m0 1v1m0 1v1m0 7v1m0 7v1m0 12v1m0 9v3m0 1v2m0 6v1m0 4v2m0 10v1m0 5v1m0 12v1m1-376v1m0 2v1m0 6v1m0 5v1m0 11v1m0 2v1m0 3v1m0 3v1m0 6v1m0 3v1m0 7v1m0 4v1m0 3v1m0 3v2m0 2v2m0 11v1m0 14v1m0 5v1m0 12v1m0 7v1m0 6v1m0 4v1m0 5v2m0 3v1m0 6v1m0 27v1m0 4v1m0 1v1m0 2v2m0 8v1m0 2v1m0 2v1m0 37v1m0 8v1m0 9v1m0 2v1m0 2v2m0 9v1m0 2v1m0 23v1m0 7v1m0 1v2m0 1v1m0 13v1m0 6v1m0 8v2m0 7v1m0 7v2m0 1v1m1-379v1m0 4v1m0 6v1m0 3v1m0 3v1m0 6v1m0 13v1m0 1v1m0 6v1m0 8v2m0 2v1m0 5v1m0 4v1m0 1v1m0 1v1m0 3v1m0 2v2m0 2v2m0 10v1m0 2v1m0 6v2m0 3v1m0 10v1m0 10v1m0 5v1m0 8v1m0 5v1m0 1v1m0 16v1m0 1v1m0 10v1m0 13v1m0 4v1m0 2v1m0 16v1m0 2v1m0 5v2m0 29v1m0 6v2m0 5v1m0 2v1m0 3v2m0 8v1m0 8v1m0 1v1m0 6v1m0 1v2m0 21v2m0 5v1m0 3v2m0 13v1m1-369v1m0 4v1m0 13v1m0 6v2m0 8v1m0 1v1m0 7v1m0 7v1m0 1v1m0 2v1m0 6v1m0 14v1m0 3v2m0 1v1m0 1v2m0 8v1m0 1v2m0 11v1m0 27v1m0 3v1m0 8v2m0 4v1m0 2v1m0 4v1m0 3v1m0 1v1m0 10v1m0 2v1m0 2v1m0 4v1m0 4v3m0 9v1m0 7v1m0 6v1m0 1v1m0 5v1m0 1v1m0 2v1m0 14v1m0 6v1m0 10v1m0 3v1m0 3v1m0 13v1m0 1v2m0 10v1m0 2v1m0 4v2m0 6v2m0 5v1m0 2v1m0 2v1m0 12v1m0 3v1m0 2v1m0 3v1m1-371v1m0 15v1m0 1v1m0 10v1m0 5v1m0 9v1m0 20v1m0 12v1m0 13v1m0 1v1m0 4v1m0 2v2m0 6v1m0 27v1m0 10v1m0 22v1m0 25v2m0 11v1m0 2v1m0 4v1m0 2v1m0 1v1m0 1v2m0 8v1m0 5v1m0 4v1m0 4v1m0 2v1m0 5v1m0 6v1m0 6v2m0 5v1m0 4v1m0 7v1m0 1v1m0 3v1m0 6v1m0 3v1m0 2v1m0 3v1m0 5v1m0 14v1m0 1v1m0 6v1m0 1v1m0 9v1m0 4v1m0 2v1m0 1v1m0 2v1m1-373v1m0 8v1m0 11v1m0 5v1m0 1v1m0 1v1m0 20v2m0 4v1m0 4v1m0 9v1m0 5v1m0 2v2m0 4v2m0 6v1m0 7v1m0 2v1m0 4v2m0 7v1m0 11v1m0 12v2m0 6v1m0 5v1m0 4v1m0 5v1m0 1v2m0 18v1m0 9v1m0 8v2m0 2v2m0 9v1m0 1v1m0 7v1m0 1v1m0 9v1m0 2v1m0 13v1m0 2v1m0 3v1m0 2v2m0 6v1m0 2v1m0 3v1m0 5v1m0 6v1m0 2v1m0 3v1m0 3v1m0 6v1m0 1v1m0 4v1m0 6v2m0 8v2m0 7v1m0 3v1m0 3v1m0 9v1m1-356v3m0 2v1m0 10v2m0 4v3m0 1v1m0 12v1m0 8v1m0 13v1m0 4v2m0 1v1m0 8v1m0 5v1m0 15v1m0 2v2m0 11v1m0 10v1m0 21v1m0 2v1m0 2v1m0 16v1m0 7v1m0 20v1m0 1v1m0 17v1m0 19v1m0 8v1m0 1v1m0 1v1m0 10v1m0 3v1m0 7v2m0 4v1m0 11v1m0 1v1m0 7v1m0 4v1m0 2v1m0 4v1m0 5v1m0 3v1m0 3v2m0 6v1m0 12v1m1-368v1m0 2v1m0 2v1m0 43v1m0 1v1m0 2v2m0 31v1m0 2v3m0 11v1m0 3v1m0 4v2m0 5v1m0 19v1m0 2v1m0 3v1m0 12v1m0 15v1m0 5v1m0 8v1m0 5v2m0 14v1m0 6v1m0 19v1m0 1v1m0 4v1m0 5v1m0 12v1m0 4v2m0 3v1m0 1v1m0 4v2m0 2v2m0 2v1m0 1v1m0 12v1m0 5v1m0 14v1m0 2v2m0 8v1m0 12v1m0 6v1m0 7v1m1-371v1m0 10v1m0 14v1m0 3v1m0 10v1m0 5v1m0 13v3m0 11v1m0 6v1m0 3v1m0 3v1m0 4v1m0 3v1m0 3v1m0 10v1m0 5v1m0 1v1m0 7v1m0 3v1m0 7v1m0 19v1m0 2v2m0 11v1m0 2v1m0 4v1m0 3v1m0 7v1m0 9v1m0 26v1m0 10v1m0 4v1m0 6v1m0 20v1m0 8v2m0 11v1m0 3v1m0 7v1m0 34v2m0 6v1m0 13v1m1-375v1m0 4v1m0 6v1m0 10v3m0 7v1m0 7v1m0 1v1m0 22v1m0 4v1m0 2v1m0 26v1m0 15v1m0 13v2m0 10v1m0 5v1m0 19v2m0 3v1m0 1v1m0 8v1m0 3v1m0 2v1m0 2v1m0 1v1m0 13v1m0 1v1m0 3v1m0 29v1m0 3v1m0 1v1m0 7v1m0 1v1m0 2v2m0 11v1m0 5v1m0 9v1m0 1v1m0 3v1m0 2v2m0 4v1m0 11v1m0 4v1m0 25v1m0 2v1m0 8v2m1-355v1m0 3v1m0 1v1m0 7v1m0 7v1m0 2v1m0 7v1m0 2v1m0 6v1m0 2v2m0 24v1m0 2v1m0 2v1m0 1v1m0 4v2m0 8v1m0 2v1m0 2v1m0 9v2m0 2v1m0 9v1m0 2v1m0 7v1m0 23v2m0 6v1m0 17v1m0 1v1m0 13v1m0 9v1m0 4v2m0 1v2m0 2v2m0 3v1m0 16v1m0 1v1m0 24v1m0 3v1m0 6v1m0 2v1m0 1v2m0 8v1m0 6v1m0 10v1m0 1v1m0 5v1m0 1v1m0 6v1m0 10v2m0 1v1m0 3v1m0 1v1m0 10v1m1-378v1m0 6v2m0 14v1m0 3v1m0 5v1m0 44v1m0 2v2m0 17v2m0 11v2m0 16v1m0 3v1m0 2v1m0 8v1m0 5v1m0 9v1m0 5v2m0 3v1m0 6v1m0 4v1m0 32v1m0 4v1m0 4v1m0 12v1m0 4v1m0 2v1m0 8v1m0 1v1m0 5v1m0 5v1m0 8v1m0 15v1m0 28v3m0 16v1m0 20v1m0 8v1m1-377v1m0 1v1m0 3v1m0 4v1m0 13v1m0 12v1m0 2v1m0 10v1m0 3v1m0 12v1m0 3v1m0 11v1m0 11v1m0 2v2m0 2v1m0 21v1m0 11v1m0 10v1m0 3v1m0 7v1m0 9v1m0 4v1m0 1v1m0 3v2m0 3v1m0 14v1m0 2v2m0 11v1m0 10v1m0 11v1m0 4v1m0 7v2m0 5v1m0 13v1m0 27v1m0 2v1m0 8v1m0 10v1m0 12v1m0 1v1m0 4v1m0 11v1m0 6v1m0 4v1m0 6v1m1-376v2m0 4v2m0 9v1m0 10v1m0 3v2m0 19v1m0 1v1m0 10v2m0 8v1m0 13v1m0 1v1m0 1v1m0 1v1m0 20v1m0 2v1m0 1v1m0 10v1m0 3v1m0 14v1m0 3v1m0 11v1m0 11v2m0 6v2m0 7v1m0 4v1m0 1v1m0 6v2m0 12v1m0 2v2m0 10v1m0 2v1m0 6v1m0 1v1m0 3v1m0 1v1m0 4v1m0 15v2m0 6v1m0 5v1m0 3v1m0 11v1m0 2v1m0 7v2m0 6v1m0 14v1m0 1v1m0 14v1m0 2v1m0 3v1m0 3v1m1-372v1m0 1v1m0 5v2m0 1v1m0 19v1m0 7v1m0 7v3m0 20v1m0 1v1m0 6v1m0 27v2m0 18v1m0 5v1m0 5v1m0 1v1m0 3v3m0 13v1m0 7v1m0 7v1m0 10v1m0 6v1m0 4v1m0 1v1m0 7v2m0 20v1m0 1v1m0 20v1m0 1v2m0 7v1m0 11v1m0 4v1m0 12v1m0 1v1m0 2v1m0 5v1m0 11v1m0 3v1m0 2v1m0 5v1m0 27v1m0 4v1m0 3v2m1-371v1m0 7v1m0 2v2m0 4v2m0 1v1m0 7v1m0 10v1m0 12v1m0 6v1m0 5v1m0 3v1m0 2v1m0 7v1m0 40v1m0 9v1m0 34v1m0 17v1m0 7v1m0 5v1m0 8v1m0 6v1m0 1v1m0 5v2m0 3v1m0 12v1m0 2v1m0 19v1m0 25v1m0 43v1m0 16v2m0 12v1m1-365v1m0 12v2m0 7v1m0 20v1m0 8v1m0 31v1m0 11v1m0 4v1m0 3v1m0 3v1m0 5v1m0 2v1m0 3v1m0 4v1m0 1v1m0 11v1m0 4v1m0 3v1m0 9v3m0 8v1m0 28v1m0 3v1m0 7v1m0 1v3m0 14v1m0 3v1m0 3v1m0 9v1m0 3v1m0 19v2m0 5v1m0 14v1m0 4v1m0 12v1m0 7v1m0 3v1m0 1v1m0 2v1m0 10v1m0 1v2m0 8v1m0 19v1m0 2v1m1-359v1m0 4v1m0 27v1m0 6v1m0 1v1m0 4v1m0 3v1m0 4v1m0 1v1m0 17v1m0 11v1m0 3v1m0 3v2m0 20v1m0 3v1m0 1v1m0 18v1m0 7v2m0 4v1m0 3v1m0 9v1m0 13v1m0 14v1m0 3v1m0 4v1m0 2v1m0 7v1m0 10v1m0 10v1m0 10v1m0 4v1m0 1v1m0 1v1m0 7v1m0 3v3m0 7v1m0 1v1m0 1v1m0 8v1m0 1v1m0 9v1m0 9v1m0 7v1m0 1v1m0 1v1m0 3v1m0 1v2m0 13v1m0 2v2m1-371v1m0 16v1m0 3v1m0 2v1m0 23v1m0 4v1m0 3v1m0 2v1m0 7v1m0 11v1m0 4v1m0 4v1m0 9v1m0 6v1m0 1v1m0 6v1m0 9v1m0 11v1m0 16v1m0 14v1m0 6v1m0 6v1m0 15v1m0 7v1m0 11v1m0 1v1m0 15v1m0 2v1m0 15v1m0 8v1m0 18v1m0 8v1m0 1v1m0 5v1m0 3v1m0 5v1m0 7v1m0 3v1m0 3v1m0 12v1m0 13v1m0 5v1m0 9v1m1-376v1m0 3v1m0 16v1m0 10v2m0 3v1m0 10v1m0 5v1m0 17v1m0 1v1m0 6v1m0 3v1m0 3v1m0 11v1m0 3v1m0 1v1m0 9v1m0 5v1m0 2v1m0 13v1m0 4v1m0 2v1m0 3v1m0 6v1m0 21v1m0 2v1m0 1v1m0 11v1m0 5v1m0 37v1m0 1v1m0 6v1m0 8v1m0 7v2m0 10v2m0 11v2m0 6v1m0 9v1m0 18v2m0 2v1m0 2v1m0 14v1m0 14v1m0 5v1m1-379v1m0 31v1m0 9v1m0 2v3m0 4v1m0 2v1m0 1v1m0 7v1m0 1v1m0 4v1m0 1v1m0 4v1m0 1v2m0 1v1m0 10v1m0 2v1m0 5v1m0 15v1m0 2v1m0 3v1m0 7v1m0 3v1m0 3v1m0 17v1m0 25v1m0 4v1m0 3v1m0 1v1m0 7v1m0 2v2m0 33v1m0 1v1m0 11v1m0 4v1m0 3v1m0 15v2m0 30v1m0 10v1m0 13v1m0 2v1m0 5v1m0 2v1m0 6v1m0 6v1m0 4v1m1-356v1m0 12v1m0 15v2m0 12v1m0 1v2m0 2v1m0 4v1m0 8v1m0 1v1m0 6v2m0 30v1m0 2v1m0 1v2m0 6v1m0 6v1m0 3v1m0 6v1m0 1v1m0 1v4m0 2v2m0 1v1m0 3v1m0 3v1m0 35v2m0 7v1m0 2v1m0 1v1m0 18v1m0 2v1m0 1v1m0 3v1m0 4v1m0 7v1m0 4v1m0 2v1m0 2v1m0 16v2m0 2v2m0 3v1m0 2v1m0 2v1m0 5v2m0 4v1m0 10v1m0 8v1m0 4v1m0 7v1m0 2v1m0 15v1m0 4v2m0 1v3m2-374v1m0 6v2m0 18v3m0 11v1m0 20v1m0 16v1m0 2v1m0 3v1m0 1v1m0 12v1m0 9v1m0 3v1m0 8v1m0 1v3m0 1v1m0 12v1m0 6v1m0 1v1m0 3v3m0 8v1m0 6v1m0 5v1m0 25v2m0 26v1m0 16v1m0 16v1m0 14v1m0 15v1m0 24v1m0 9v1m0 29v1m0 9v1m2-376v1m0 9v1m0 13v1m0 13v1m0 20v1m0 3v1m0 19v2m0 3v2m0 1v1m0 6v1m0 4v1m0 17v1m0 18v1m0 7v1m0 9v1m0 22v1m0 13v1m0 19v1m0 12v1m0 8v1m0 50v1m0 2v1m0 1v1m0 1v1m0 7v1m0 23v1m0 2v1m0 9v1m0 2v1m0 21v1m2-364v1m0 4v1m0 3v1m0 28v1m0 41v1m0 5v1m0 1v1m0 2v1m0 3v1m0 40v1m0 5v3m0 5v1m0 14v1m0 1v1m0 13v2m0 2v1m0 1v1m0 7v1m0 6v1m0 8v1m0 6v1m0 5v1m0 20v2m0 21v1m0 1v2m0 7v1m0 19v1m0 16v1m0 7v1m0 1v2m0 9v1m0 19v1m0 2v1m0 8v1m2-361v1m0 11v1m0 14v1m0 5v1m0 1v1m0 4v2m0 27v1m0 25v1m0 6v1m0 2v1m0 16v2m0 2v1m0 11v1m0 3v1m0 18v2m0 21v1m0 2v1m0 2v1m0 4v1m0 49v1m0 18v2m0 13v1m0 8v1m0 2v2m0 4v1m0 4v1m0 5v1m0 1v1m0 1v1m0 7v1m0 3v1m0 4v1m0 20v1m2-360v1m0 5v1m0 3v1m0 15v1m0 34v1m0 9v1m0 33v1m0 5v1m0 8v1m0 17v1m0 5v1m0 5v1m0 1v1m0 8v1m0 15v1m0 3v1m0 10v1m0 26v1m0 2v1m0 6v1m0 8v1m0 3v1m0 2v1m0 6v1m0 1v1m0 9v1m0 32v1m0 6v1m0 19v1m0 5v1m0 6v1m0 1v1m0 28v1m0 3v1m2-376v1m0 8v1m0 10v1m0 3v2m0 27v1m0 1v1m0 28v1m0 6v1m0 26v1m0 6v1m0 22v1m0 12v1m0 17v1m0 20v1m0 2v1m0 7v1m0 17v1m0 1v1m0 8v1m0 5v1m0 6v1m0 12v1m0 10v1m0 8v1m0 1v1m0 6v1m0 4v1m0 1v1m0 9v2m0 5v1m0 32v1m2-355v1m0 10v2m0 2v1m0 5v1m0 10v1m0 23v1m0 4v1m0 6v1m0 19v1m0 8v1m0 10v1m0 4v1m0 11v1m0 1v2m0 2v3m0 14v1m0 5v1m0 3v1m0 13v1m0 2v1m0 19v1m0 13v1m0 46v1m0 9v2m0 11v1m0 4v1m0 13v1m0 16v1m0 1v1m0 8v1m0 13v1m0 5v1m0 3v1m0 11v1m0 2v1m0 3v1m5-359v1m0 3v1m0 1v1m0 8v1m0 4v1m0 1v1m0 14v1m0 15v1m0 18v1m0 1v1m0 9v1m0 6v1m0 4v1m0 6v2m0 3v1m0 29v1m0 12v2m0 2v1m0 10v1m0 1v1m0 5v1m0 30v1m0 1v1m0 6v1m0 3v1m0 10v1m0 4v1m0 33v1m0 2v1m0 2v1m0 10v1m0 3v2m0 15v1m0 4v1m0 9v2m0 32v1m0 6v1m0 3v1m5-390v1m0 4v1m0 2v1m0 11v1m0 5v1m0 28v2m0 7v1m0 1v1m0 8v1m0 7v1m0 1v1m0 5v1m0 14v1m0 9v1m0 42v1m0 4v1m0 8v1m0 5v2m0 1v1m0 1v2m0 37v1m0 4v1m0 10v1m0 19v1m0 1v1m0 7v1m0 3v1m0 15v1m0 1v1m0 5v1m0 16v1m0 6v2m0 8v1m0 22v1m0 1v1m5-335v1m0 16v1m0 1v1m0 26v1m0 23v1m0 3v1m0 2v2m0 13v1m0 23v1m0 13v1m0 4v1m0 42v1m0 5v1m0 2v1m0 5v1m0 4v1m0 49v1m0 9v1m0 4v1m0 1v1m0 2v1m0 12v1m0 28v1m0 6v1m0 3v1m0 1v1m0 2v1m0 14v2m0 11v1m0 6v1m5-365v1m0 9v1m0 3v1m0 10v1m0 2v1m0 18v1m0 1v1m0 9v1m0 10v2m0 9v2m0 7v1m0 5v1m0 3v1m0 17v1m0 1v1m0 6v1m0 23v1m0 1v2m0 2v1m0 29v1m0 2v1m0 2v1m0 16v1m0 14v1m0 8v1m0 3v1m0 22v1m0 10v1m0 6v1m0 4v1m0 15v1m0 11v1m0 9v1m0 16v1m0 3v1m0 7v1m0 3v1m0 5v1m0 4v1m5-363v1m0 1v1m0 7v1m0 5v1m0 6v1m0 3v2m0 4v1m0 27v1m0 5v1m0 8v1m0 57v1m0 21v1m0 13v1m0 44v1m0 3v1m0 6v1m0 10v1m0 3v3m0 9v2m0 4v1m0 3v1m0 24v1m0 3v1m0 41v2m0 17v1m0 1v1m5-358v1m0 12v1m0 3v1m0 9v1m0 12v1m0 15v1m0 1v1m0 5v1m0 21v1m0 39v1m0 9v1m0 6v1m0 2v1m0 15v1m0 2v1m0 4v2m0 27v1m0 1v1m0 6v1m0 15v1m0 2v1m0 8v1m0 24v1m0 17v1m0 10v1m0 8v1m0 13v2m0 1v1m0 4v1m0 7v1m0 2v1m0 4v1"/>
<path stroke="#481a6c" d="M5 31v1m0 3v1m0 22v1m0 1v1m0 1v1m0 36v1m0 2v1m0 26v1m0 3v1m0 5v1m0 4v1m0 3v1m0 2v1m0 3v1m0 15v1m0 3v1m0 36v1m0 3v1m0 4v1m0 6v1m0 1v1m0 9v1m0 11v1m0 4v1m0 8v1m0 7v1m0 27v1m0 12v1m0 16v1m0 4v1m0 22v1m0 7v1m0 7v1m0 12v1m1-336v1m0 1v1m0 3v1m0 21v1m0 11v1m0 4v1m0 9v1m0 14v1m0 7v1m0 24v1m0 2v1m0 52v1m0 13v1m0 6v1m0 7v1m0 8v1m0 6v2m0 15v1m0 37v2m0 40v1m0 5v1m0 3v1m0 3v2m0 7v1m0 1v1m0 13v1m1-344v1m0 3v2m0 2v2m0 2v4m0 4v1m0 18v1m0 2v2m0 14v2m0 11v1m0 1v1m0 8v2m0 31v1m0 3v1m0 3v1m0 20v1m0 4v1m0 4v1m0 6v2m0 3v1m0 5v1m0 1v1m0 7v1m0 3v1m0 12v1m0 37v1m0 1v1m0 1v1m0 19v1m0 1v2m0 11v3m0 4v1m0 5v1m0 9v1m0 1v1m0 16v1m0 8v1m0 9v1m0 7v1m0 1v1m1-366v1m0 11v1m0 6v1m0 7v1m0 7v1m0 6v1m0 1v1m0 1v1m0 3v1m0 12v1m0 1v1m0 7v1m0 3v1m0 17v1m0 9v1m0 6v1m0 2v1m0 9v1m0 5v1m0 8v1m0 8v4m0 13v1m0 31v1m0 12v1m0 14v1m0 1v1m0 5v1m0 10v2m0 13v1m0 7v1m0 11v1m0 6v1m0 36v2m0 8v2m0 5v1m0 2v1m0 9v1m0 8v1m0 1v2m0 4v1m1-372v2m0 1v1m0 2v2m0 5v1m0 16v1m0 4v1m0 4v1m0 23v1m0 13v1m0 18v1m0 32v1m0 3v1m0 1v1m0 23v1m0 3v1m0 32v1m0 6v1m0 6v1m0 3v1m0 10v1m0 6v1m0 7v1m0 3v1m0 4v1m0 22v1m0 32v1m0 30v1m0 3v1m0 4v1m0 4v1m0 3v1m1-354v2m0 8v2m0 2v1m0 40v1m0 4v1m0 10v2m0 1v1m0 2v1m0 25v1m0 3v1m0 2v1m0 9v1m0 2v1m0 8v1m0 10v1m0 1v3m0 5v1m0 1v1m0 10v1m0 8v1m0 1v3m0 11v1m0 1v1m0 3v1m0 3v1m0 13v1m0 2v2m0 19v1m0 10v2m0 3v1m0 9v1m0 9v1m0 7v1m0 10v1m0 6v1m0 7v1m0 2v2m0 4v2m0 2v1m0 1v1m0 17v1m0 4v2m0 4v1m0 6v1m0 1v1m0 5v1m1-369v1m0 3v1m0 21v1m0 2v1m0 1v1m0 15v1m0 19v1m0 3v1m0 28v1m0 12v1m0 13v1m0 1v1m0 22v1m0 10v1m0 12v2m0 12v1m0 6v1m0 25v1m0 5v1m0 1v1m0 8v1m0 12v1m0 1v1m0 7v1m0 1v1m0 1v2m0 1v2m0 2v1m0 3v1m0 7v1m0 1v1m0 3v1m0 5v2m0 11v1m0 1v1m0 7v3m0 16v1m0 19v1m0 4v1m1-375v1m0 18v1m0 1v1m0 1v1m0 4v1m0 37v1m0 6v1m0 2v1m0 10v2m0 10v1m0 9v1m0 1v1m0 2v1m0 3v1m0 1v1m0 1v1m0 5v2m0 4v1m0 8v1m0 9v1m0 8v1m0 5v1m0 31v1m0 12v1m0 7v1m0 18v1m0 5v1m0 5v1m0 5v1m0 2v1m0 3v1m0 10v1m0 5v2m0 1v2m0 8v1m0 2v1m0 10v2m0 2v1m0 1v1m0 1v2m0 5v2m0 4v1m0 3v1m0 28v1m1-357v2m0 5v1m0 1v1m0 26v1m0 5v1m0 14v1m0 20v1m0 4v1m0 22v1m0 27v1m0 4v1m0 3v1m0 5v2m0 2v1m0 5v1m0 9v1m0 5v1m0 12v1m0 3v1m0 5v1m0 20v1m0 12v1m0 12v1m0 4v1m0 5v1m0 1v1m0 4v1m0 15v1m0 3v1m0 11v1m0 18v1m0 2v1m0 17v1m0 2v1m0 18v1m0 11v1m1-369v1m0 14v1m0 3v1m0 14v1m0 15v1m0 6v1m0 2v1m0 4v2m0 3v1m0 3v1m0 10v1m0 21v1m0 3v1m0 4v1m0 17v1m0 21v2m0 1v1m0 9v1m0 1v1m0 21v1m0 1v1m0 18v1m0 34v1m0 6v1m0 2v1m0 11v1m0 13v1m0 2v1m0 14v1m0 1v1m0 2v1m0 6v1m0 6v1m0 12v1m0 18v1m0 7v1m1-356v1m0 1v1m0 26v1m0 4v1m0 36v1m0 9v1m0 6v1m0 28v1m0 19v1m0 1v1m0 9v1m0 2v1m0 14v1m0 2v1m0 8v1m0 5v1m0 2v1m0 4v1m0 3v1m0 5v1m0 4v1m0 10v1m0 43v1m0 4v1m0 14v1m0 2v2m0 5v1m0 2v1m0 2v1m0 9v1m0 7v1m0 2v1m0 4v1m0 1v1m0 2v2m0 3v1m0 10v1m0 8v1m0 1v1m1-366v1m0 5v1m0 3v1m0 13v1m0 6v1m0 14v2m0 1v1m0 6v1m0 9v1m0 15v1m0 3v1m0 12v2m0 7v1m0 15v1m0 3v1m0 4v1m0 19v1m0 1v1m0 2v1m0 1v1m0 10v1m0 2v1m0 14v1m0 3v1m0 8v1m0 19v1m0 10v1m0 12v1m0 6v1m0 24v1m0 3v1m0 37v1m0 10v1m0 8v1m0 9v1m0 17v1m1-371v1m0 25v2m0 3v1m0 31v1m0 6v2m0 13v1m0 23v1m0 20v1m0 4v1m0 11v1m0 28v1m0 2v1m0 8v1m0 27v1m0 7v1m0 3v1m0 6v1m0 10v1m0 6v1m0 3v1m0 4v1m0 3v1m0 2v1m0 38v2m0 10v1m0 13v1m0 1v1m0 15v1m0 15v1m1-366v2m0 1v1m0 5v2m0 11v1m0 1v1m0 5v1m0 1v1m0 10v2m0 2v1m0 7v1m0 16v1m0 2v1m0 5v1m0 28v1m0 30v1m0 3v1m0 17v1m0 13v2m0 14v1m0 1v1m0 7v1m0 1v1m0 4v1m0 10v2m0 4v1m0 12v1m0 6v1m0 4v1m0 2v1m0 3v1m0 4v1m0 1v1m0 7v1m0 5v1m0 4v1m0 3v1m0 17v1m0 3v1m0 3v2m0 3v1m0 5v1m0 1v1m0 12v1m0 13v1m0 12v2m1-370v1m0 5v1m0 6v1m0 5v2m0 6v1m0 6v1m0 4v1m0 11v2m0 1v1m0 2v1m0 26v1m0 3v1m0 3v1m0 4v1m0 1v1m0 5v1m0 1v1m0 3v1m0 1v1m0 3v2m0 12v1m0 9v2m0 2v1m0 5v1m0 1v1m0 33v1m0 7v1m0 7v1m0 8v2m0 2v1m0 1v1m0 9v1m0 4v1m0 4v1m0 25v1m0 1v1m0 2v1m0 1v1m0 1v2m0 6v1m0 6v1m0 13v1m0 17v1m0 11v1m0 7v1m0 5v1m0 2v1m0 5v1m0 11v1m0 1v1m1-375v1m0 16v1m0 7v1m0 2v1m0 6v1m0 1v1m0 21v1m0 10v1m0 1v1m0 4v1m0 6v2m0 14v2m0 2v1m0 13v1m0 4v2m0 1v1m0 12v1m0 34v1m0 2v1m0 7v1m0 7v1m0 9v1m0 13v1m0 1v1m0 17v1m0 4v2m0 13v1m0 11v1m0 1v1m0 7v1m0 1v1m0 7v1m0 7v1m0 10v1m0 3v1m0 10v1m0 15v1m0 2v1m0 10v1m0 1v1m0 1v1m0 1v1m0 2v1m0 5v2m0 6v1m1-376v2m0 32v1m0 7v1m0 9v1m0 6v1m0 2v1m0 11v1m0 30v1m0 21v1m0 1v1m0 10v1m0 3v1m0 6v1m0 7v1m0 2v1m0 3v1m0 20v2m0 6v1m0 23v1m0 1v2m0 12v1m0 3v1m0 5v1m0 13v1m0 2v1m0 1v1m0 6v1m0 26v1m0 14v1m0 20v1m0 9v1m0 2v1m0 13v1m0 3v3m0 6v1m1-372v1m0 7v1m0 29v1m0 12v1m0 1v1m0 6v1m0 7v1m0 2v1m0 7v1m0 5v1m0 12v1m0 8v1m0 3v1m0 9v2m0 9v1m0 2v1m0 5v2m0 2v1m0 15v1m0 1v1m0 3v2m0 3v1m0 8v1m0 5v1m0 6v1m0 4v1m0 2v2m0 10v1m0 7v1m0 8v1m0 10v1m0 8v1m0 6v1m0 3v1m0 9v1m0 3v1m0 7v1m0 2v1m0 4v1m0 2v1m0 2v1m0 3v1m0 3v1m0 5v2m0 5v1m0 13v1m0 3v2m0 5v1m0 12v1m0 3v1m1-350v1m0 14v1m0 2v1m0 29v1m0 40v1m0 35v1m0 4v1m0 10v1m0 6v1m0 2v1m0 15v1m0 12v1m0 1v1m0 18v1m0 12v1m0 63v1m0 4v2m0 11v1m0 16v1m0 3v1m0 1v1m0 5v2m0 16v1m0 12v1m0 3v1m1-349v1m0 16v1m0 19v1m0 2v1m0 22v1m0 6v1m0 1v1m0 2v1m0 4v1m0 7v1m0 25v2m0 3v1m0 2v1m0 6v1m0 36v1m0 21v1m0 2v1m0 22v1m0 7v1m0 6v1m0 8v1m0 4v1m0 4v1m0 2v1m0 7v1m0 6v1m0 19v1m0 21v2m0 37v1m1-378v1m0 1v1m0 21v1m0 25v1m0 1v1m0 10v1m0 9v1m0 4v1m0 4v2m0 12v1m0 22v2m0 5v1m0 2v1m0 1v1m0 4v1m0 17v3m0 7v1m0 4v1m0 20v1m0 2v1m0 1v1m0 4v1m0 7v1m0 19v2m0 15v1m0 20v1m0 9v1m0 2v1m0 1v1m0 2v1m0 2v1m0 2v1m0 7v1m0 2v1m0 4v1m0 3v1m0 4v1m0 3v1m0 1v2m0 15v2m0 8v1m0 1v1m0 11v1m0 9v1m1-368v1m0 19v1m0 1v1m0 1v1m0 1v1m0 39v1m0 1v2m0 11v1m0 3v2m0 3v1m0 4v1m0 28v1m0 23v1m0 12v1m0 16v2m0 3v1m0 37v1m0 3v1m0 45v1m0 1v1m0 8v1m0 8v1m0 26v1m0 3v1m0 1v1m0 4v1m0 10v1m0 6v1m0 1v1m0 2v1m0 8v1m0 4v1m0 4v1m1-372v1m0 1v1m0 2v1m0 11v1m0 5v1m0 6v2m0 8v1m0 6v1m0 3v1m0 21v1m0 1v1m0 3v1m0 13v1m0 1v2m0 14v1m0 10v1m0 4v2m0 1v2m0 2v1m0 1v1m0 3v1m0 18v1m0 1v1m0 14v1m0 4v1m0 1v2m0 1v1m0 3v1m0 6v1m0 4v1m0 9v1m0 10v1m0 12v1m0 4v1m0 11v1m0 3v1m0 19v1m0 40v1m0 7v1m0 26v1m0 7v1m1-353v1m0 7v1m0 21v1m0 6v1m0 3v1m0 17v2m0 11v1m0 36v1m0 31v1m0 16v1m0 29v1m0 7v1m0 8v1m0 18v2m0 2v1m0 2v1m0 2v1m0 14v2m0 1v1m0 16v1m0 2v1m0 12v1m0 17v1m0 2v1m0 4v1m0 2v1m0 4v1m0 1v1m0 16v1m0 5v1m0 13v1m0 2v1m1-368v1m0 1v1m0 1v1m0 2v2m0 5v1m0 3v1m0 3v4m0 2v1m0 3v2m0 4v1m0 5v1m0 12v1m0 16v1m0 4v1m0 4v1m0 1v1m0 14v1m0 6v1m0 11v1m0 5v2m0 4v1m0 15v1m0 2v1m0 27v2m0 18v2m0 7v1m0 4v1m0 5v1m0 5v1m0 5v1m0 3v1m0 20v1m0 10v3m0 7v1m0 5v1m0 4v2m0 4v1m0 5v1m0 7v1m0 2v1m0 5v1m0 1v1m0 3v1m0 2v1m0 12v1m0 4v1m0 1v1m0 6v1m0 3v1m1-358v1m0 15v1m0 1v1m0 1v1m0 9v1m0 7v2m0 14v1m0 2v1m0 7v1m0 7v1m0 10v1m0 1v1m0 4v1m0 1v1m0 5v1m0 4v1m0 18v2m0 13v1m0 40v1m0 6v1m0 2v1m0 14v1m0 2v1m0 3v1m0 3v1m0 5v1m0 13v1m0 9v1m0 2v1m0 11v1m0 7v1m0 30v1m0 3v1m0 16v1m0 21v2m0 4v1m0 6v1m1-350v2m0 30v1m0 16v1m0 6v1m0 1v1m0 6v1m0 2v1m0 3v1m0 18v1m0 2v1m0 17v1m0 1v1m0 5v1m0 9v2m0 16v1m0 2v1m0 7v1m0 1v2m0 3v1m0 5v1m0 11v1m0 10v1m0 14v1m0 2v1m0 4v1m0 9v1m0 19v2m0 1v1m0 2v1m0 9v1m0 13v1m0 1v1m0 1v1m0 5v1m0 1v1m0 4v1m0 3v1m0 19v2m0 13v1m0 7v1m1-354v1m0 1v1m0 1v1m0 1v1m0 5v1m0 1v1m0 5v1m0 3v1m0 10v1m0 22v1m0 7v1m0 11v1m0 1v1m0 4v1m0 10v1m0 3v1m0 42v1m0 7v1m0 3v1m0 15v1m0 1v1m0 10v1m0 9v1m0 14v2m0 3v1m0 33v1m0 9v1m0 1v1m0 3v1m0 3v1m0 30v2m0 2v1m0 14v3m0 4v1m0 3v1m0 9v1m0 8v1m1-351v1m0 4v1m0 5v1m0 10v1m0 13v1m0 18v1m0 11v1m0 3v1m0 3v1m0 31v1m0 7v1m0 9v1m0 3v1m0 9v1m0 1v1m0 8v1m0 7v1m0 9v1m0 2v3m0 3v1m0 31v1m0 34v1m0 10v1m0 3v1m0 3v1m0 23v1m0 13v1m0 18v1m0 9v2m0 16v1m0 4v1m0 11v1m1-366v1m0 1v1m0 3v1m0 4v1m0 7v1m0 10v1m0 17v1m0 67v1m0 10v2m0 3v3m0 3v1m0 6v1m0 9v1m0 12v1m0 8v1m0 8v1m0 58v1m0 3v1m0 12v1m0 1v1m0 13v1m0 6v1m0 11v1m0 11v1m0 6v1m1-315v1m0 5v1m0 3v1m0 3v1m0 36v1m0 5v1m0 12v1m0 14v1m0 3v1m0 22v2m0 1v1m0 15v1m0 2v1m0 7v1m0 17v2m0 5v1m0 7v1m0 3v1m0 3v1m0 4v1m0 1v1m0 2v1m0 1v1m0 5v2m0 18v1m0 12v1m0 4v2m0 6v1m0 1v1m0 4v1m0 8v1m0 11v1m0 4v1m0 9v1m0 2v1m0 4v1m0 1v1m0 3v1m0 1v1m0 11v1m0 13v1m0 13v3m0 1v1m0 6v1m0 2v1m1-361v2m0 5v1m0 23v1m0 34v1m0 5v1m0 4v1m0 15v1m0 1v1m0 4v1m0 1v1m0 9v1m0 3v1m0 13v1m0 1v1m0 6v1m0 24v1m0 7v2m0 10v1m0 6v1m0 1v1m0 11v1m0 18v1m0 8v1m0 30v1m0 3v1m0 2v1m0 2v1m0 2v1m0 16v1m0 4v1m0 3v1m0 12v1m0 7v1m0 2v1m0 22v1m0 6v1m0 3v1m0 2v1m0 9v1m1-377v3m0 23v1m0 15v1m0 3v1m0 7v1m0 4v1m0 2v1m0 2v1m0 15v1m0 7v1m0 21v1m0 3v3m0 7v1m0 6v1m0 2v1m0 5v1m0 5v1m0 17v1m0 1v1m0 4v1m0 1v1m0 7v1m0 23v3m0 13v2m0 19v1m0 3v1m0 16v2m0 20v2m0 5v1m0 15v1m0 27v1m0 3v1m0 1v2m0 6v1m0 14v1m1-362v1m0 9v1m0 4v1m0 4v1m0 22v1m0 1v1m0 6v3m0 13v1m0 6v1m0 18v1m0 2v1m0 4v1m0 13v1m0 7v1m0 18v1m0 4v1m0 19v1m0 12v1m0 3v1m0 6v3m0 3v1m0 9v1m0 14v1m0 6v1m0 9v1m0 8v1m0 6v3m0 6v1m0 4v1m0 7v1m0 3v1m0 18v1m0 8v1m0 54v1m1-364v1m0 4v2m0 16v3m0 1v1m0 16v1m0 4v3m0 21v1m0 2v1m0 5v1m0 7v1m0 5v1m0 1v1m0 14v1m0 1v1m0 1v1m0 1v1m0 39v1m0 6v1m0 6v2m0 13v1m0 29v1m0 31v1m0 1v1m0 1v1m0 7v2m0 11v1m0 2v1m0 10v3m0 3v1m0 4v1m0 5v2m0 2v1m0 2v1m0 3v1m0 5v1m0 1v1m0 2v1m0 24v1m0 1v1m0 9v1m0 1v1m1-370v1m0 4v1m0 2v1m0 1v1m0 33v1m0 1v2m0 7v1m0 1v1m0 2v1m0 30v1m0 17v1m0 3v1m0 20v1m0 3v1m0 4v1m0 1v1m0 13v1m0 12v1m0 5v1m0 6v1m0 1v1m0 4v1m0 1v1m0 1v1m0 6v1m0 8v1m0 7v1m0 6v2m0 9v1m0 1v1m0 15v1m0 7v1m0 2v1m0 4v2m0 7v1m0 6v1m0 4v1m0 1v1m0 5v1m0 9v1m0 3v1m0 1v1m0 3v1m0 3v1m0 14v1m0 1v1m0 21v1m0 6v1m1-376v2m0 12v1m0 4v1m0 15v1m0 6v1m0 3v1m0 13v2m0 12v1m0 6v1m0 14v1m0 1v1m0 28v1m0 2v1m0 1v1m0 1v1m0 17v1m0 26v1m0 15v1m0 6v1m0 1v1m0 2v1m0 1v1m0 1v1m0 2v1m0 18v1m0 5v1m0 19v1m0 21v1m0 48v1m0 6v1m0 13v2m0 4v1m1-359v1m0 3v1m0 1v1m0 1v1m0 8v1m0 9v1m0 5v3m0 4v1m0 1v1m0 1v2m0 2v1m0 8v1m0 3v1m0 9v1m0 2v1m0 1v1m0 8v1m0 10v1m0 22v1m0 7v1m0 3v2m0 17v1m0 5v2m0 1v1m0 14v1m0 1v1m0 2v1m0 6v1m0 1v2m0 6v2m0 1v1m0 6v1m0 2v1m0 5v1m0 5v1m0 2v1m0 18v3m0 14v1m0 5v1m0 6v1m0 10v1m0 5v1m0 9v1m0 18v1m0 2v1m0 12v2m0 6v1m0 7v1m0 6v1m0 15v1m1-374v1m0 1v1m0 8v2m0 10v2m0 11v1m0 1v1m0 8v1m0 17v1m0 6v1m0 12v1m0 4v1m0 1v1m0 5v1m0 13v1m0 11v1m0 13v1m0 18v1m0 10v4m0 3v1m0 7v1m0 22v1m0 2v1m0 7v1m0 15v1m0 9v1m0 12v1m0 33v2m0 16v1m0 11v1m0 6v1m0 4v1m0 2v1m0 7v1m0 26v1m1-363v1m0 4v2m0 28v1m0 2v1m0 2v2m0 4v1m0 14v1m0 2v1m0 3v1m0 19v1m0 2v1m0 9v1m0 2v1m0 2v1m0 2v1m0 2v1m0 7v1m0 5v1m0 4v2m0 3v1m0 31v1m0 1v1m0 8v1m0 7v1m0 5v1m0 2v1m0 3v2m0 4v1m0 1v1m0 8v1m0 3v1m0 7v1m0 34v1m0 5v1m0 17v1m0 14v1m0 24v2m0 8v1m0 5v1m0 6v1m1-362v1m0 5v1m0 9v1m0 30v2m0 5v1m0 2v1m0 4v2m0 5v1m0 3v1m0 13v1m0 20v1m0 4v1m0 19v1m0 10v1m0 9v2m0 6v2m0 14v1m0 1v1m0 5v1m0 13v1m0 5v1m0 4v1m0 4v1m0 23v1m0 16v1m0 2v1m0 15v1m0 31v1m0 16v1m0 5v1m0 3v1m0 20v1m1-356v1m0 10v2m0 3v1m0 2v1m0 4v1m0 1v1m0 1v1m0 11v2m0 26v1m0 4v1m0 18v1m0 9v1m0 5v1m0 12v1m0 3v1m0 6v1m0 26v1m0 1v1m0 1v1m0 4v1m0 19v1m0 15v1m0 9v1m0 29v2m0 1v1m0 2v1m0 1v2m0 6v1m0 18v1m0 8v1m0 5v1m0 26v2m0 19v2m0 3v1m0 9v1m1-356v1m0 4v1m0 1v1m0 12v1m0 3v1m0 1v1m0 33v1m0 35v1m0 13v1m0 14v1m0 1v1m0 12v1m0 6v2m0 20v1m0 9v1m0 4v1m0 4v1m0 5v3m0 1v1m0 8v1m0 1v1m0 4v1m0 3v1m0 17v1m0 11v2m0 1v1m0 6v1m0 5v1m0 8v1m0 3v1m0 32v1m0 5v1m0 3v1m0 4v2m0 11v1m1-339v1m0 4v1m0 5v1m0 1v1m0 9v1m0 5v1m0 6v1m0 3v1m0 7v1m0 5v1m0 7v1m0 16v1m0 15v1m0 19v1m0 5v1m0 2v1m0 2v2m0 20v2m0 5v1m0 5v1m0 35v2m0 15v1m0 3v1m0 7v1m0 14v1m0 1v1m0 8v3m0 12v1m0 9v2m0 33v1m0 7v1m0 3v1m0 7v1m0 8v1m0 5v1m1-354v1m0 8v1m0 3v1m0 11v1m0 4v1m0 16v1m0 11v1m0 6v2m0 13v1m0 8v1m0 5v1m0 3v1m0 5v1m0 14v1m0 11v1m0 4v2m0 17v1m0 1v1m0 4v1m0 8v2m0 2v1m0 4v1m0 6v1m0 23v1m0 4v1m0 15v1m0 6v3m0 13v1m0 5v1m0 37v1m0 3v1m0 1v1m0 8v1m0 13v1m0 15v1m0 25v1m0 2v1m1-370v1m0 5v1m0 19v2m0 7v1m0 4v1m0 2v1m0 19v1m0 20v1m0 3v1m0 2v1m0 11v1m0 5v1m0 22v1m0 4v1m0 4v1m0 4v1m0 7v1m0 9v1m0 13v1m0 2v1m0 15v1m0 6v1m0 3v1m0 11v1m0 19v1m0 5v1m0 12v1m0 9v1m0 5v1m0 10v1m0 8v1m0 6v1m0 9v1m0 1v1m0 13v1m0 2v2m0 14v1m0 3v1m0 9v3m1-366v1m0 8v1m0 16v1m0 6v2m0 10v1m0 2v1m0 9v1m0 13v1m0 3v1m0 23v1m0 21v1m0 1v1m0 14v1m0 25v2m0 18v1m0 4v1m0 4v1m0 8v1m0 2v1m0 1v1m0 6v1m0 2v1m0 1v1m0 1v2m0 22v1m0 12v1m0 2v1m0 8v2m0 7v1m0 3v1m0 8v1m0 1v2m0 4v1m0 17v1m0 9v2m0 8v2m0 3v2m0 14v1m0 3v1m0 3v1m0 1v1m1-358v1m0 14v1m0 16v1m0 9v2m0 2v1m0 7v1m0 8v1m0 3v1m0 7v1m0 17v1m0 4v1m0 4v2m0 30v1m0 8v2m0 8v1m0 1v1m0 10v1m0 6v1m0 5v1m0 2v1m0 13v1m0 5v1m0 2v1m0 3v1m0 7v1m0 14v1m0 1v1m0 5v1m0 1v1m0 8v1m0 4v1m0 22v1m0 4v1m0 8v2m0 9v1m0 2v1m0 3v1m0 3v1m0 9v1m0 2v1m0 6v1m0 7v1m1-369v1m0 6v1m0 5v1m0 1v1m0 21v1m0 8v2m0 11v1m0 4v1m0 4v1m0 7v1m0 11v1m0 18v1m0 3v1m0 1v2m0 6v1m0 16v1m0 24v1m0 3v1m0 13v1m0 7v3m0 3v1m0 4v1m0 1v2m0 22v1m0 9v1m0 3v1m0 4v1m0 3v1m0 18v1m0 6v1m0 3v1m0 27v1m0 8v1m0 2v1m0 5v1m0 1v2m0 7v1m0 18v1m0 3v1m0 1v2m0 1v1m0 5v1m1-367v1m0 5v1m0 3v2m0 4v2m0 10v1m0 22v1m0 1v1m0 18v1m0 3v1m0 1v1m0 7v1m0 7v1m0 8v1m0 12v1m0 19v1m0 6v1m0 5v2m0 1v1m0 5v1m0 2v1m0 3v1m0 3v1m0 27v1m0 14v1m0 2v1m0 23v1m0 9v1m0 1v1m0 10v1m0 1v1m0 1v1m0 3v1m0 3v1m0 15v1m0 11v2m0 13v2m0 15v1m0 6v3m0 1v1m0 10v2m0 8v1m1-362v2m0 4v1m0 4v1m0 14v1m0 17v1m0 16v1m0 2v1m0 19v1m0 3v2m0 4v1m0 3v1m0 1v1m0 4v1m0 3v1m0 7v1m0 4v1m0 5v1m0 11v1m0 23v1m0 5v1m0 8v1m0 10v1m0 4v1m0 5v1m0 3v1m0 3v2m0 2v2m0 11v1m0 44v1m0 4v1m0 11v1m0 23v1m0 12v1m0 1v2m0 22v1m0 9v1m0 3v1m0 3v1m1-375v1m0 8v1m0 2v2m0 9v1m0 9v1m0 1v2m0 9v1m0 11v1m0 15v1m0 2v1m0 2v1m0 5v1m0 8v1m0 7v1m0 5v3m0 2v1m0 1v1m0 26v1m0 3v1m0 7v1m0 1v2m0 1v1m0 6v1m0 3v1m0 8v1m0 2v2m0 4v1m0 14v1m0 4v2m0 1v1m0 2v1m0 2v1m0 5v1m0 4v1m0 9v1m0 3v2m0 11v1m0 5v1m0 15v1m0 4v1m0 12v1m0 29v1m0 4v1m0 4v1m0 8v1m0 9v1m0 12v2m1-357v1m0 4v1m0 5v1m0 3v1m0 2v1m0 17v1m0 1v1m0 1v2m0 26v1m0 18v1m0 12v1m0 13v1m0 1v1m0 24v1m0 12v1m0 17v1m0 10v1m0 9v1m0 21v1m0 1v1m0 7v1m0 6v1m0 13v1m0 4v1m0 5v1m0 10v3m0 13v1m0 22v2m0 24v1m0 6v1m1-364v1m0 2v1m0 3v1m0 11v1m0 9v1m0 10v1m0 1v1m0 1v1m0 1v1m0 2v2m0 1v1m0 2v1m0 9v1m0 7v1m0 2v1m0 3v1m0 1v1m0 5v1m0 5v1m0 27v1m0 14v1m0 10v2m0 6v2m0 16v2m0 12v1m0 18v1m0 15v1m0 5v1m0 8v1m0 16v1m0 6v1m0 11v1m0 5v1m0 9v1m0 7v1m0 1v1m0 11v1m0 3v2m0 23v1m0 13v2m0 8v1m0 7v1m1-363v1m0 2v1m0 1v1m0 4v1m0 2v1m0 7v1m0 2v2m0 19v1m0 1v1m0 2v1m0 3v1m0 9v1m0 12v1m0 8v1m0 3v1m0 18v1m0 19v1m0 12v1m0 11v1m0 11v1m0 5v1m0 2v1m0 17v1m0 1v1m0 3v1m0 47v1m0 3v1m0 16v1m0 3v1m0 6v1m0 2v1m0 16v1m0 11v1m0 1v1m0 1v2m0 7v2m0 4v1m0 17v1m0 6v1m0 9v1m1-364v1m0 1v1m0 7v1m0 5v1m0 3v1m0 25v1m0 2v1m0 4v1m0 3v1m0 10v2m0 3v1m0 5v1m0 3v1m0 11v2m0 7v2m0 9v1m0 9v1m0 2v1m0 8v2m0 4v2m0 3v1m0 4v1m0 11v1m0 6v1m0 2v1m0 2v1m0 2v1m0 10v1m0 4v1m0 7v1m0 5v1m0 1v1m0 10v1m0 7v1m0 3v1m0 19v1m0 2v1m0 10v1m0 1v1m0 18v1m0 17v1m0 1v1m0 5v1m0 3v1m0 36v1m1-360v1m0 1v1m0 4v1m0 2v1m0 7v1m0 6v1m0 19v1m0 15v1m0 6v2m0 23v1m0 1v1m0 6v1m0 10v1m0 1v1m0 5v1m0 5v3m0 5v1m0 10v2m0 11v1m0 7v1m0 23v1m0 15v1m0 13v1m0 2v1m0 6v1m0 1v2m0 1v1m0 2v1m0 10v1m0 14v1m0 3v1m0 17v1m0 8v2m0 6v1m0 29v1m0 5v1m0 19v1m0 5v1m0 1v1m0 3v1m1-370v1m0 5v1m0 24v3m0 7v1m0 45v1m0 6v1m0 11v1m0 7v1m0 5v1m0 6v1m0 10v1m0 16v2m0 7v1m0 4v1m0 3v2m0 2v1m0 3v1m0 1v1m0 19v1m0 2v1m0 9v1m0 18v2m0 3v1m0 4v1m0 4v1m0 8v1m0 13v1m0 3v1m0 7v2m0 2v1m0 2v1m0 33v1m0 1v2m0 1v1m0 19v1m0 1v1m0 8v1m0 2v1m1-370v1m0 8v1m0 7v2m0 2v1m0 10v1m0 6v1m0 7v2m0 11v1m0 4v3m0 24v1m0 12v1m0 22v1m0 2v1m0 7v1m0 1v1m0 15v1m0 25v1m0 9v1m0 4v1m0 1v1m0 7v2m0 9v1m0 3v1m0 9v1m0 1v1m0 2v1m0 10v2m0 1v1m0 4v1m0 3v1m0 5v1m0 6v2m0 13v1m0 11v1m0 10v2m0 7v1m0 12v2m0 20v1m0 5v1m0 4v1m0 3v1m1-347v1m0 21v2m0 4v1m0 28v1m0 10v1m0 1v1m0 15v1m0 1v1m0 6v1m0 13v1m0 11v1m0 2v1m0 18v1m0 14v1m0 1v1m0 29v1m0 10v1m0 10v1m0 6v1m0 4v1m0 2v1m0 14v1m0 4v1m0 35v2m0 9v1m0 11v1m0 16v1m0 21v2m1-372v1m0 31v1m0 47v1m0 1v1m0 28v1m0 1v1m0 4v1m0 1v1m0 4v1m0 4v1m0 16v1m0 2v1m0 2v1m0 3v1m0 8v1m0 2v2m0 2v1m0 3v1m0 14v1m0 12v1m0 15v1m0 8v1m0 18v1m0 9v1m0 10v1m0 16v1m0 38v2m0 17v1m0 13v1m0 1v1m0 3v1m1-353v1m0 1v1m0 15v1m0 17v1m0 13v2m0 2v2m0 1v1m0 8v2m0 1v1m0 8v1m0 6v1m0 5v1m0 11v1m0 13v2m0 9v1m0 6v2m0 9v1m0 17v1m0 1v1m0 15v1m0 1v1m0 4v1m0 5v1m0 3v1m0 6v1m0 6v1m0 8v2m0 11v1m0 4v1m0 8v1m0 2v2m0 2v1m0 20v1m0 8v1m0 7v1m0 2v1m0 9v2m0 8v1m0 4v1m0 4v2m0 12v1m0 7v1m0 4v2m1-361v1m0 1v1m0 1v1m0 1v2m0 3v1m0 7v1m0 1v1m0 14v1m0 10v1m0 18v1m0 5v1m0 85v1m0 10v1m0 15v1m0 1v1m0 7v1m0 5v1m0 3v1m0 21v1m0 6v1m0 25v1m0 9v1m0 1v1m0 12v1m0 3v2m0 7v1m0 10v1m0 3v1m0 12v1m0 4v1m0 2v1m0 1v1m0 9v1m0 16v1m1-379v1m0 5v1m0 4v2m0 6v1m0 16v1m0 5v1m0 2v2m0 6v1m0 2v1m0 25v1m0 13v1m0 3v1m0 5v1m0 26v2m0 3v1m0 4v1m0 4v1m0 3v1m0 5v1m0 9v1m0 8v1m0 22v1m0 3v1m0 3v1m0 2v1m0 6v3m0 1v1m0 14v1m0 2v1m0 9v1m0 26v1m0 14v1m0 5v1m0 3v1m0 4v1m0 2v1m0 12v1m0 10v3m0 2v1m0 1v1m0 5v1m0 18v1m0 1v1m1-363v1m0 4v1m0 8v1m0 1v1m0 1v1m0 23v1m0 24v1m0 25v1m0 23v1m0 30v1m0 14v1m0 16v2m0 4v1m0 14v1m0 2v1m0 26v1m0 13v1m0 46v1m0 1v1m0 5v1m0 8v1m0 12v1m0 9v1m0 9v1m0 5v1m0 7v1m0 4v2m1-356v1m0 1v1m0 6v1m0 6v1m0 8v1m0 25v1m0 15v1m0 28v1m0 2v2m0 15v1m0 17v1m0 5v1m0 7v1m0 4v1m0 6v1m0 6v1m0 24v1m0 2v1m0 3v1m0 27v1m0 24v1m0 34v1m0 19v1m0 15v1m0 43v1m1-373v1m0 5v2m0 12v1m0 1v2m0 52v1m0 17v1m0 15v1m0 20v2m0 14v1m0 2v1m0 9v1m0 16v1m0 15v1m0 34v1m0 13v1m0 4v1m0 4v1m0 1v1m0 5v1m0 7v1m0 10v1m0 3v1m0 1v1m0 18v1m0 4v1m0 20v1m0 2v1m0 7v1m0 13v1m0 13v1m1-371v1m0 7v2m0 4v1m0 3v1m0 2v2m0 1v1m0 16v1m0 16v1m0 12v1m0 31v1m0 5v2m0 17v1m0 6v1m0 3v1m0 6v1m0 15v1m0 1v1m0 14v1m0 2v2m0 4v1m0 2v1m0 3v1m0 5v1m0 18v1m0 12v1m0 6v1m0 2v1m0 7v1m0 6v1m0 3v1m0 2v1m0 6v2m0 7v1m0 20v1m0 1v1m0 8v1m0 1v1m0 8v1m0 7v1m0 15v1m0 13v1m0 2v1m1-366v1m0 5v1m0 4v1m0 8v1m0 4v1m0 1v1m0 2v1m0 1v1m0 2v1m0 5v1m0 14v1m0 11v1m0 4v1m0 8v1m0 5v2m0 5v1m0 19v1m0 1v1m0 9v1m0 9v2m0 4v1m0 2v1m0 1v2m0 16v1m0 19v1m0 1v2m0 2v2m0 1v1m0 7v1m0 1v2m0 1v1m0 3v1m0 10v1m0 24v1m0 21v1m0 1v1m0 1v1m0 12v1m0 22v1m0 14v2m0 4v1m0 10v1m0 5v1m0 1v1m0 15v1m0 6v1m1-364v2m0 32v1m0 33v1m0 11v1m0 9v1m0 10v3m0 2v1m0 1v1m0 18v1m0 15v1m0 9v1m0 3v1m0 14v1m0 30v1m0 25v1m0 24v1m0 14v1m0 4v1m0 9v1m0 8v1m0 10v1m0 3v1m0 29v1m0 15v1m1-355v1m0 2v2m0 11v1m0 9v1m0 1v1m0 8v1m0 25v1m0 3v1m0 10v1m0 12v1m0 5v1m0 9v1m0 5v1m0 40v1m0 9v1m0 4v1m0 15v1m0 1v1m0 2v1m0 13v2m0 4v2m0 4v1m0 7v1m0 18v1m0 22v1m0 4v1m0 3v1m0 18v2m0 22v1m0 6v2m0 1v1m0 19v1m0 1v1m0 8v2m1-369v1m0 8v1m0 6v1m0 9v4m0 1v1m0 19v1m0 10v1m0 4v1m0 3v1m0 7v1m0 6v1m0 3v2m0 5v1m0 3v1m0 1v1m0 3v1m0 4v1m0 7v1m0 2v1m0 4v1m0 1v1m0 11v1m0 5v1m0 2v1m0 1v1m0 4v2m0 23v1m0 4v2m0 4v2m0 2v1m0 1v1m0 1v1m0 1v1m0 3v1m0 3v1m0 1v1m0 5v1m0 3v1m0 6v1m0 20v1m0 2v1m0 7v1m0 8v1m0 2v1m0 8v1m0 16v1m0 4v1m0 8v1m0 9v1m0 3v1m0 4v1m0 4v1m0 9v1m0 22v1m1-382v1m0 4v1m0 3v1m0 5v1m0 2v1m0 15v1m0 13v1m0 20v1m0 3v1m0 16v1m0 10v1m0 18v1m0 30v1m0 6v2m0 23v1m0 2v1m0 8v1m0 10v1m0 10v1m0 5v1m0 48v2m0 15v2m0 20v1m0 1v1m0 8v3m0 8v2m0 3v2m0 1v1m0 13v1m0 1v1m0 6v1m0 1v1m0 6v1m1-369v1m0 4v1m0 26v1m0 6v1m0 2v1m0 1v2m0 5v1m0 6v1m0 15v1m0 8v1m0 10v1m0 37v1m0 9v1m0 48v1m0 14v1m0 27v1m0 7v1m0 8v1m0 10v1m0 1v1m0 4v1m0 3v1m0 4v1m0 1v1m0 6v1m0 11v1m0 9v1m0 2v1m0 4v3m0 12v2m0 15v1m0 3v1m0 4v1m0 6v2m0 5v1m0 3v1m1-342v2m0 1v1m0 14v1m0 15v1m0 15v1m0 6v1m0 4v1m0 23v1m0 2v1m0 11v1m0 6v1m0 5v1m0 22v1m0 8v1m0 8v2m0 23v1m0 1v1m0 18v1m0 5v1m0 9v2m0 14v1m0 8v1m0 9v1m0 3v1m0 2v1m0 25v1m0 3v1m0 13v1m0 1v3m0 2v1m0 2v2m0 3v1m0 3v1m1-354v1m0 7v1m0 7v1m0 17v1m0 2v2m0 16v1m0 4v2m0 12v1m0 6v1m0 5v2m0 2v1m0 2v1m0 5v1m0 17v1m0 7v1m0 7v1m0 24v1m0 7v1m0 9v1m0 29v1m0 9v1m0 8v1m0 1v1m0 4v1m0 5v1m0 5v1m0 19v1m0 6v1m0 5v1m0 18v1m0 8v1m0 16v1m0 8v2m0 1v1m0 1v1m0 15v1m0 11v1m0 1v1m0 3v1m1-381v1m0 4v1m0 8v1m0 10v1m0 5v1m0 1v1m0 10v1m0 18v1m0 19v1m0 21v1m0 2v1m0 5v1m0 2v1m0 13v1m0 3v2m0 14v1m0 13v1m0 4v2m0 8v1m0 3v1m0 1v1m0 13v1m0 16v1m0 9v1m0 1v1m0 7v1m0 8v1m0 10v1m0 13v1m0 6v1m0 2v1m0 7v1m0 19v1m0 16v2m0 26v1m0 4v1m0 9v1m0 5v2m1-371v1m0 13v1m0 18v1m0 2v1m0 2v1m0 24v1m0 12v1m0 29v1m0 5v1m0 13v1m0 4v1m0 20v1m0 35v1m0 33v1m0 24v1m0 14v1m0 9v1m0 20v1m0 26v1m0 2v1m0 12v1m0 1v1m0 14v1m0 5v1m0 11v1m0 2v1m1-374v1m0 6v1m0 1v1m0 1v1m0 7v1m0 1v1m0 14v1m0 5v1m0 2v1m0 2v1m0 13v1m0 11v1m0 2v1m0 7v1m0 6v1m0 5v2m0 2v1m0 6v1m0 11v1m0 14v2m0 10v1m0 8v1m0 8v1m0 7v1m0 16v2m0 19v1m0 9v2m0 19v1m0 6v1m0 15v1m0 13v1m0 12v2m0 7v1m0 13v1m0 7v1m0 7v1m0 3v1m0 11v1m0 19v2m1-374v1m0 2v1m0 15v1m0 12v1m0 1v1m0 7v2m0 1v1m0 2v1m0 4v1m0 3v1m0 6v1m0 4v1m0 2v1m0 8v1m0 63v1m0 9v1m0 1v1m0 1v1m0 9v1m0 2v1m0 4v1m0 4v1m0 2v1m0 6v1m0 3v1m0 15v2m0 5v1m0 19v1m0 22v1m0 5v1m0 1v2m0 3v1m0 19v1m0 13v2m0 1v1m0 7v1m0 21v1m0 6v1m0 9v1m0 9v1m0 5v2m1-367v1m0 2v1m0 29v1m0 5v1m0 6v2m0 13v1m0 6v2m0 9v2m0 1v1m0 8v1m0 8v1m0 1v1m0 12v1m0 5v1m0 16v1m0 3v1m0 24v1m0 5v1m0 10v1m0 7v1m0 16v1m0 16v1m0 1v1m0 9v1m0 30v1m0 37v2m0 6v1m0 4v1m0 2v1m0 11v1m0 5v1m1-347v1m0 25v2m0 2v1m0 8v1m0 6v2m0 10v1m0 3v1m0 9v1m0 3v1m0 72v3m0 8v1m0 2v1m0 2v1m0 1v1m0 3v3m0 1v1m0 7v1m0 4v1m0 12v1m0 21v1m0 16v1m0 23v1m0 7v1m0 8v1m0 16v1m0 1v1m0 11v1m0 23v2m0 10v1m0 7v1m1-354v1m0 3v1m0 9v1m0 1v1m0 4v1m0 1v1m0 2v1m0 11v1m0 12v1m0 1v1m0 9v3m0 1v1m0 3v2m0 9v1m0 31v1m0 1v1m0 12v2m0 11v2m0 4v1m0 1v1m0 11v1m0 32v1m0 7v1m0 5v1m0 1v1m0 2v2m0 5v2m0 5v1m0 3v2m0 7v1m0 1v1m0 1v1m0 1v2m0 7v1m0 9v1m0 7v1m0 7v1m0 8v2m0 10v1m0 2v1m0 1v2m0 9v1m0 2v1m0 23v1m0 16v1m1-372v2m0 2v1m0 9v1m0 6v1m0 2v1m0 4v1m0 11v1m0 12v1m0 1v1m0 7v1m0 31v1m0 13v1m0 1v1m0 4v1m0 5v1m0 2v1m0 2v1m0 1v1m0 1v1m0 2v1m0 6v1m0 1v1m0 1v1m0 13v1m0 4v1m0 1v1m0 15v1m0 5v1m0 4v1m0 2v1m0 5v1m0 6v1m0 5v1m0 12v1m0 2v1m0 8v1m0 17v1m0 2v1m0 6v1m0 9v1m0 10v2m0 4v1m0 13v1m0 2v1m0 3v1m0 22v2m0 8v1m0 7v1m0 5v1m0 2v4m1-369v1m0 23v2m0 3v1m0 7v1m0 3v1m0 13v1m0 2v1m0 2v1m0 13v1m0 4v1m0 7v1m0 25v1m0 2v1m0 3v1m0 5v1m0 14v1m0 6v1m0 5v1m0 3v1m0 2v1m0 4v1m0 5v1m0 27v1m0 4v1m0 47v1m0 6v1m0 2v1m0 15v2m0 11v1m0 3v1m0 3v1m0 4v1m0 6v1m0 7v1m0 1v1m0 4v1m0 3v4m0 13v1m0 1v1m0 6v1m0 5v1m1-367v1m0 15v1m0 5v1m0 11v1m0 13v2m0 9v1m0 12v1m0 19v1m0 6v1m0 11v1m0 3v1m0 8v1m0 1v1m0 2v1m0 8v1m0 6v1m0 11v1m0 5v2m0 1v2m0 10v1m0 2v1m0 1v2m0 8v1m0 9v1m0 1v2m0 2v1m0 2v1m0 3v1m0 21v1m0 6v1m0 14v1m0 12v1m0 2v1m0 7v1m0 3v1m0 2v1m0 6v1m0 12v1m0 1v1m0 23v2m0 8v1m0 6v1m0 2v1m0 11v1m1-364v1m0 1v1m0 7v1m0 4v1m0 8v2m0 2v1m0 9v1m0 9v1m0 20v1m0 3v1m0 11v2m0 1v2m0 7v2m0 3v1m0 1v1m0 3v1m0 8v1m0 2v1m0 10v1m0 3v1m0 5v1m0 6v2m0 3v1m0 1v1m0 25v3m0 16v1m0 5v1m0 16v1m0 3v1m0 7v1m0 8v1m0 3v1m0 4v1m0 16v1m0 19v1m0 24v1m0 2v1m0 1v1m0 35v1m0 4v1m1-367v1m0 3v2m0 9v1m0 5v2m0 13v1m0 14v1m0 6v1m0 7v1m0 27v1m0 1v1m0 5v1m0 8v1m0 14v1m0 15v1m0 18v1m0 2v1m0 13v1m0 2v1m0 1v1m0 6v1m0 1v1m0 3v1m0 8v1m0 9v4m0 6v1m0 23v1m0 10v2m0 23v1m0 5v1m0 15v1m0 11v1m0 8v2m0 9v1m0 3v1m0 2v1m0 6v1m0 8v1m0 5v1m0 2v1m1-365v1m0 5v1m0 4v1m0 2v1m0 28v1m0 2v1m0 1v1m0 4v1m0 5v1m0 2v1m0 17v1m0 6v1m0 7v1m0 1v1m0 13v1m0 9v1m0 6v1m0 6v1m0 7v1m0 7v1m0 19v1m0 2v1m0 13v1m0 14v1m0 3v1m0 5v1m0 3v1m0 18v1m0 9v1m0 4v1m0 5v1m0 6v1m0 5v1m0 8v1m0 7v1m0 20v1m0 8v1m0 26v1m0 9v1m0 3v1m0 1v1m1-364v1m0 7v1m0 2v1m0 9v2m0 2v1m0 5v2m0 4v1m0 5v2m0 12v1m0 20v1m0 4v1m0 2v1m0 19v1m0 4v1m0 3v1m0 13v1m0 4v1m0 3v1m0 12v1m0 5v1m0 1v2m0 7v1m0 3v1m0 7v1m0 4v1m0 9v1m0 22v1m0 2v1m0 18v1m0 9v1m0 2v1m0 3v1m0 3v1m0 1v1m0 11v1m0 6v1m0 6v1m0 7v1m0 2v1m0 9v2m0 2v1m0 7v1m0 1v1m0 10v1m0 13v1m0 7v2m0 10v1m1-376v2m0 7v1m0 5v1m0 16v1m0 6v1m0 1v1m0 15v1m0 8v1m0 3v1m0 18v1m0 31v1m0 10v2m0 25v1m0 20v1m0 11v2m0 1v1m0 4v1m0 7v1m0 7v1m0 3v1m0 2v1m0 7v1m0 11v1m0 2v1m0 4v1m0 8v1m0 1v1m0 9v1m0 8v1m0 15v1m0 10v1m0 6v1m0 7v1m0 7v1m0 1v1m0 9v1m0 16v1m1-363v1m0 5v1m0 4v1m0 16v1m0 17v1m0 1v1m0 15v1m0 10v2m0 7v1m0 2v1m0 37v1m0 1v1m0 9v1m0 1v1m0 7v1m0 29v1m0 8v1m0 11v1m0 8v1m0 1v1m0 4v1m0 17v2m0 11v1m0 4v1m0 8v1m0 1v2m0 5v1m0 8v1m0 11v1m0 11v1m0 4v2m0 7v1m0 10v1m0 9v1m0 16v1m0 4v1m0 17v1m1-370v1m0 5v1m0 14v1m0 3v1m0 16v1m0 26v1m0 2v1m0 7v1m0 6v1m0 8v1m0 2v1m0 2v1m0 1v1m0 10v1m0 1v1m0 23v1m0 2v1m0 19v1m0 1v1m0 6v1m0 17v1m0 19v1m0 11v1m0 4v1m0 21v2m0 10v1m0 4v1m0 33v1m0 2v1m0 10v1m0 5v1m0 26v1m0 4v1m0 4v1m1-366v1m0 36v1m0 10v2m0 6v1m0 4v2m0 26v1m0 10v1m0 5v1m0 3v1m0 3v1m0 29v1m0 2v3m0 5v1m0 5v1m0 13v1m0 15v1m0 24v1m0 4v1m0 12v1m0 25v1m0 10v2m0 27v1m0 6v1m0 10v1m0 6v1m0 9v1m0 5v1m0 2v1m0 3v1m0 2v1m0 2v1m0 11v1m0 4v1m1-368v1m0 2v1m0 6v1m0 3v1m0 7v1m0 2v1m0 4v2m0 18v2m0 4v1m0 9v1m0 4v1m0 12v1m0 21v2m0 6v1m0 1v1m0 2v1m0 4v1m0 4v1m0 1v1m0 10v1m0 12v1m0 2v1m0 25v1m0 34v1m0 7v1m0 24v1m0 1v1m0 1v1m0 9v2m0 18v1m0 16v1m0 10v1m0 14v1m0 15v1m0 11v1m0 11v1m1-381v1m0 8v1m0 2v2m0 6v2m0 8v1m0 4v1m0 11v1m0 21v1m0 1v1m0 4v2m0 7v1m0 9v1m0 4v1m0 5v1m0 2v1m0 44v1m0 3v1m0 12v1m0 17v1m0 8v1m0 1v1m0 2v1m0 2v1m0 11v1m0 14v1m0 21v3m0 4v1m0 6v1m0 3v1m0 5v1m0 7v1m0 5v1m0 6v1m0 3v1m0 16v1m0 1v2m0 14v1m0 35v1m0 1v1m1-368v1m0 9v1m0 6v1m0 10v1m0 4v1m0 21v2m0 20v1m0 24v1m0 6v1m0 2v1m0 7v1m0 34v1m0 9v1m0 25v1m0 10v2m0 2v1m0 18v1m0 54v1m0 6v1m0 11v1m0 11v1m0 8v1m0 21v1m0 1v1m0 14v1m0 7v1m1-364v1m0 18v2m0 3v1m0 10v1m0 3v1m0 2v1m0 10v1m0 16v1m0 5v1m0 10v1m0 8v1m0 17v1m0 9v1m0 9v1m0 43v1m0 9v1m0 39v1m0 6v1m0 1v1m0 17v2m0 4v1m0 18v1m0 3v1m0 6v1m0 11v1m0 24v1m0 31v3m0 4v1m1-375v1m0 3v2m0 5v1m0 3v1m0 5v1m0 2v1m0 13v1m0 5v1m0 1v2m0 4v1m0 1v1m0 1v1m0 4v2m0 13v1m0 3v1m0 7v1m0 32v1m0 3v1m0 5v1m0 11v1m0 5v1m0 9v1m0 5v1m0 3v1m0 2v1m0 5v1m0 19v1m0 4v1m0 1v1m0 16v2m0 26v2m0 3v1m0 10v1m0 4v1m0 30v1m0 2v1m0 12v1m0 7v1m0 1v1m0 4v2m0 7v1m0 15v1m0 9v1m1-369v1m0 21v1m0 3v1m0 7v1m0 20v1m0 9v1m0 18v2m0 2v1m0 62v1m0 1v1m0 3v2m0 6v1m0 2v2m0 5v2m0 4v1m0 6v1m0 4v1m0 6v2m0 6v1m0 7v1m0 9v1m0 19v1m0 1v1m0 13v1m0 14v1m0 9v2m0 5v1m0 29v1m0 4v1m0 3v1m0 11v1m0 2v1m1-349v1m0 3v1m0 2v1m0 7v1m0 1v1m0 29v1m0 50v1m0 13v1m0 1v2m0 20v1m0 3v1m0 5v1m0 37v1m0 10v2m0 11v1m0 14v1m0 14v1m0 13v1m0 34v2m1-292v1m0 2v1m0 2v1m0 10v1m0 49v1m0 17v1m0 14v1m0 10v1m0 26v1m0 25v1m0 9v2m0 2v1m0 11v1m0 21v1m0 16v1m0 52v1m0 8v1m0 17v1m0 17v1m0 11v1m0 26v1m1-362v1m0 6v2m0 5v1m0 5v1m0 28v1m0 6v1m0 10v1m0 4v1m0 7v1m0 35v1m0 1v1m0 19v1m0 39v1m0 16v2m0 11v1m0 2v1m0 2v1m0 19v1m0 8v1m0 1v1m0 1v1m0 10v1m0 5v1m0 2v1m0 4v1m0 10v1m0 27v1m0 54v1m0 1v1m1-350v1m0 31v1m0 11v1m0 14v1m0 6v1m0 5v1m0 3v1m0 33v1m0 6v1m0 1v1m0 14v1m0 4v1m0 28v1m0 1v1m0 1v1m0 8v1m0 24v1m0 8v1m0 20v1m0 47v1m0 29v1m0 5v1m0 16v1m0 5v1m0 7v1m1-369v1m0 2v1m0 7v1m0 2v1m0 1v2m0 7v1m0 35v1m0 26v1m0 23v1m0 15v1m0 15v1m0 45v1m0 3v1m0 3v1m0 16v1m0 43v1m0 16v1m0 3v1m0 16v1m0 13v1m0 42v1m1-354v1m0 1v1m0 8v1m0 1v1m0 4v1m0 27v1m0 1v1m0 3v1m0 26v2m0 8v1m0 9v1m0 9v1m0 22v3m0 5v1m0 3v1m0 1v1m0 33v2m0 29v1m0 19v1m0 5v1m0 1v1m0 18v1m0 2v1m0 8v1m0 8v1m0 12v1m0 16v1m0 11v1m0 32v1m0 9v1m0 8v1m1-377v1m0 4v1m0 10v1m0 33v1m0 8v1m0 8v1m0 4v1m0 12v1m0 1v1m0 2v1m0 8v2m0 5v1m0 3v2m0 13v1m0 9v1m0 23v1m0 4v1m0 17v1m0 38v2m0 9v1m0 3v1m0 22v1m0 6v2m0 3v1m0 15v2m0 2v2m0 5v1m0 10v1m0 8v1m0 7v2m0 26v1m0 20v1m2-360v1m0 3v1m0 15v1m0 15v1m0 3v1m0 14v1m0 25v1m0 66v1m0 44v1m0 17v1m0 9v1m0 13v1m0 4v1m0 2v2m0 12v1m0 2v1m0 27v1m0 37v1m0 19v1m2-340v1m0 37v1m0 6v1m0 23v1m0 11v1m0 22v1m0 29v1m0 8v1m0 2v2m0 3v1m0 21v2m0 16v1m0 10v1m0 3v2m0 32v1m0 38v1m0 42v1m2-330v1m0 8v1m0 8v1m0 1v1m0 7v1m0 21v1m0 11v1m0 13v1m0 27v1m0 11v1m0 1v1m0 4v1m0 7v1m0 14v1m0 61v1m0 9v1m0 17v1m0 5v1m0 10v1m0 4v2m0 1v1m0 2v1m0 17v1m0 3v1m0 41v1m0 25v1m2-367v1m0 26v1m0 11v1m0 1v1m0 9v1m0 4v1m0 1v1m0 29v2m0 5v1m0 2v1m0 1v1m0 23v1m0 1v1m0 24v1m0 7v1m0 2v1m0 14v1m0 5v1m0 15v1m0 5v1m0 7v1m0 27v2m0 4v1m0 9v1m0 3v2m0 7v1m0 35v1m0 37v1m0 2v1m0 18v1m2-366v1m0 1v1m0 7v1m0 11v1m0 56v2m0 2v1m0 12v1m0 9v1m0 2v1m0 10v1m0 1v1m0 10v2m0 1v1m0 18v1m0 4v2m0 11v1m0 14v1m0 3v1m0 1v1m0 7v1m0 19v1m0 7v1m0 6v1m0 2v1m0 3v1m0 8v1m0 1v2m0 1v1m0 4v1m0 2v1m0 1v1m0 23v1m0 18v1m0 2v1m0 16v1m0 10v1m0 5v1m0 7v1m2-350v1m0 4v1m0 8v1m0 13v1m0 5v1m0 19v1m0 39v1m0 20v1m0 9v1m0 5v1m0 27v2m0 3v1m0 6v1m0 13v1m0 9v1m0 1v1m0 4v1m0 31v1m0 1v1m0 11v1m0 16v2m0 10v1m0 10v1m0 9v1m0 3v1m0 15v1m0 2v1m0 6v1m0 23v1m0 7v1m2-379v2m0 38v1m0 5v1m0 14v1m0 3v1m0 8v1m0 6v1m0 6v1m0 9v1m0 19v1m0 5v2m0 16v2m0 3v1m0 24v1m0 20v1m0 58v1m0 14v1m0 5v1m0 1v1m0 47v1m0 11v1m0 14v3m5-334v1m0 12v1m0 5v1m0 3v2m0 2v1m0 3v1m0 84v1m0 31v1m0 2v1m0 21v1m0 3v1m0 2v1m0 30v1m0 29v1m0 6v1m0 12v1m0 10v1m0 9v1m0 5v1m0 9v1m0 10v1m0 12v1m0 9v1m0 10v1m0 15v2m5-392v1m0 4v1m0 20v1m0 6v1m0 2v1m0 3v1m0 2v1m0 13v1m0 10v1m0 23v1m0 11v1m0 36v1m0 4v1m0 6v1m0 24v1m0 15v1m0 4v1m0 9v1m0 29v1m0 1v1m0 33v1m0 2v1m0 17v1m0 6v1m0 14v1m0 19v1m0 13v2m5-337v1m0 20v2m0 76v1m0 5v2m0 1v3m0 21v1m0 22v1m0 12v1m0 12v1m0 1v1m0 1v1m0 17v1m0 7v1m0 23v1m0 1v1m0 7v1m0 9v1m0 6v1m0 1v1m0 12v1m0 2v1m0 2v1m0 4v1m0 7v1m0 4v1m0 7v1m0 2v1m0 7v1m0 7v1m0 14v2m0 3v1m0 17v1m0 1v1m5-376v2m0 3v1m0 3v1m0 7v1m0 2v1m0 6v2m0 16v1m0 4v1m0 11v1m0 15v1m0 9v1m0 6v1m0 38v1m0 8v1m0 2v2m0 11v1m0 12v1m0 10v1m0 5v1m0 8v1m0 4v2m0 25v1m0 1v1m0 9v1m0 17v1m0 2v1m0 1v1m0 1v1m0 2v1m0 12v1m0 1v1m0 2v2m0 18v1m0 6v1m0 13v1m0 11v1m0 10v1m0 7v1m0 1v1m0 8v1m0 7v1m5-365v1m0 34v2m0 9v1m0 5v1m0 5v1m0 4v1m0 9v1m0 9v1m0 2v1m0 7v2m0 15v1m0 2v1m0 6v1m0 7v1m0 1v1m0 7v1m0 34v1m0 22v3m0 3v1m0 18v1m0 25v1m0 8v1m0 3v1m0 17v1m0 24v1m0 44v1m0 8v1m5-366v1m0 4v1m0 1v1m0 58v1m0 18v2m0 6v1m0 46v1m0 18v1m0 3v3m0 8v1m0 13v1m0 13v1m0 1v1m0 29v1m0 9v1m0 12v2m0 23v1m0 29v1m0 17v1m0 3v1m0 25v1m0 4v1m0 5v2"/>
<path stroke="#482475" d="M5 100v1m0 16v1m0 5v1m0 18v1m0 3v1m0 6v1m0 4v1m0 7v1m0 56v1m0 2v1m0 8v1m0 22v1m0 1v1m0 22v1m0 15v1m0 17v1m0 21v1m0 34v2m0 10v1m0 14v1m1-371v1m0 5v1m0 9v1m0 37v1m0 53v1m0 34v2m0 10v1m0 10v1m0 55v1m0 11v1m0 12v1m0 27v1m0 22v1m0 6v1m0 1v1m0 3v1m0 6v1m1-311v1m0 12v1m0 15v1m0 1v1m0 17v1m0 3v1m0 3v1m0 19v1m0 20v1m0 3v1m0 10v2m0 5v1m0 27v2m0 12v1m0 5v1m0 2v1m0 7v1m0 16v1m0 6v1m0 12v1m0 4v1m0 2v1m0 9v1m0 23v1m0 24v1m0 37v1m0 4v1m0 2v1m0 11v1m0 4v1m0 18v2m1-374v1m0 6v1m0 30v2m0 9v1m0 2v1m0 6v1m0 15v1m0 1v1m0 40v2m0 2v2m0 13v1m0 18v1m0 1v1m0 4v1m0 10v1m0 5v1m0 2v1m0 67v1m0 48v1m0 2v1m0 43v1m0 1v1m0 1v1m0 1v1m0 7v1m0 11v1m1-363v1m0 20v1m0 33v1m0 3v1m0 78v1m0 30v1m0 22v1m0 6v1m0 25v1m0 8v1m0 38v1m0 20v1m0 22v1m0 16v1m0 3v1m1-351v1m0 27v1m0 18v2m0 2v2m0 1v1m0 12v2m0 14v1m0 1v1m0 3v1m0 4v1m0 5v1m0 2v1m0 15v1m0 8v2m0 10v2m0 2v1m0 1v1m0 16v1m0 1v1m0 14v1m0 13v1m0 15v1m0 2v1m0 12v1m0 19v1m0 5v1m0 4v1m0 7v1m0 7v1m0 20v1m0 5v1m0 9v1m0 4v1m0 2v1m0 8v1m0 16v1m0 5v1m0 8v3m0 3v1m0 2v1m1-364v1m0 4v1m0 5v2m0 28v1m0 5v2m0 7v1m0 53v1m0 34v1m0 15v1m0 6v1m0 40v1m0 26v1m0 6v1m0 3v2m0 2v1m0 9v1m0 3v1m0 30v1m0 2v1m0 1v1m0 9v1m0 3v1m0 16v1m0 29v1m0 6v1m1-383v1m0 6v1m0 7v1m0 20v1m0 24v1m0 18v1m0 11v1m0 4v1m0 8v1m0 21v1m0 21v1m0 1v1m0 25v1m0 12v1m0 2v1m0 1v1m0 21v1m0 7v1m0 12v1m0 5v1m0 6v1m0 3v1m0 2v2m0 5v2m0 19v1m0 4v1m0 12v1m0 49v1m1-350v1m0 28v1m0 8v1m0 32v1m0 1v2m0 5v1m0 2v1m0 12v2m0 5v2m0 18v1m0 11v1m0 4v1m0 3v1m0 5v1m0 10v1m0 7v1m0 5v3m0 7v2m0 19v1m0 8v1m0 12v1m0 8v1m0 66v1m0 14v1m0 3v1m0 5v1m0 5v1m0 2v1m0 19v1m1-323v1m0 55v1m0 7v1m0 13v1m0 8v1m0 14v1m0 2v1m0 2v1m0 18v1m0 2v1m0 11v1m0 6v1m0 6v1m0 27v1m0 1v1m0 3v1m0 18v1m0 6v1m0 69v1m0 8v1m0 9v1m0 13v1m0 5v1m0 14v1m1-377v1m0 2v1m0 3v2m0 6v1m0 5v1m0 60v1m0 1v1m0 17v1m0 4v1m0 8v1m0 15v1m0 30v1m0 5v1m0 1v1m0 20v1m0 2v1m0 2v2m0 6v1m0 19v1m0 5v1m0 7v1m0 25v1m0 20v1m0 1v1m0 20v1m0 1v1m0 31v1m0 20v1m0 8v1m1-373v1m0 6v1m0 1v1m0 7v1m0 10v1m0 1v1m0 29v1m0 5v1m0 12v1m0 5v1m0 1v1m0 27v1m0 17v1m0 3v1m0 4v1m0 20v1m0 6v1m0 3v1m0 31v1m0 8v1m0 9v1m0 5v1m0 5v1m0 3v1m0 45v1m0 6v1m0 11v1m0 2v1m0 8v1m0 1v1m0 10v1m0 15v1m0 8v3m0 9v1m1-340v1m0 2v1m0 2v1m0 48v1m0 9v1m0 25v1m0 1v1m0 34v1m0 20v1m0 57v1m0 14v1m0 23v1m0 19v1m0 21v1m0 40v1m1-363v1m0 3v1m0 19v2m0 2v1m0 16v1m0 38v1m0 18v1m0 3v1m0 15v1m0 3v1m0 10v1m0 4v1m0 30v1m0 12v1m0 20v1m0 11v1m0 9v1m0 38v1m0 20v1m0 3v1m0 5v1m0 3v2m0 1v1m0 13v1m0 20v1m0 35v1m1-374v1m0 5v1m0 7v1m0 4v1m0 10v1m0 9v1m0 8v3m0 14v1m0 2v1m0 2v1m0 25v1m0 18v1m0 7v1m0 2v1m0 1v1m0 23v1m0 6v1m0 1v1m0 10v2m0 8v1m0 6v1m0 17v2m0 15v1m0 23v1m0 1v1m0 1v1m0 9v1m0 30v1m0 16v1m0 2v1m0 31v1m0 14v1m1-362v1m0 1v2m0 3v2m0 1v1m0 11v1m0 12v1m0 26v2m0 5v2m0 3v1m0 16v1m0 9v1m0 1v1m0 3v1m0 17v1m0 4v1m0 10v1m0 1v1m0 8v1m0 2v1m0 1v1m0 10v1m0 9v1m0 14v1m0 10v1m0 11v1m0 33v2m0 3v1m0 4v1m0 9v1m0 5v1m0 3v1m0 1v1m0 6v1m0 16v2m0 1v1m0 5v1m0 4v1m0 26v1m0 2v1m0 5v1m0 10v1m1-369v1m0 3v1m0 10v1m0 8v1m0 16v1m0 3v1m0 22v1m0 17v1m0 1v1m0 16v1m0 2v1m0 43v1m0 5v1m0 3v1m0 12v1m0 27v1m0 3v1m0 13v1m0 5v1m0 48v1m0 5v1m0 34v1m0 1v1m0 16v1m0 3v1m1-333v1m0 4v1m0 2v2m0 9v1m0 12v1m0 25v1m0 1v1m0 7v1m0 11v1m0 25v1m0 4v1m0 51v1m0 19v1m0 9v1m0 18v1m0 4v1m0 3v1m0 3v1m0 4v1m0 27v1m0 14v2m0 14v1m0 19v1m0 10v1m0 2v1m0 8v1m0 5v1m0 16v1m0 2v1m0 3v1m0 1v1m1-375v2m0 38v1m0 50v1m0 29v1m0 8v1m0 63v1m0 3v1m0 1v1m0 40v1m0 4v1m0 32v1m0 15v1m0 9v1m0 61v1m1-346v1m0 12v1m0 12v1m0 12v1m0 10v1m0 4v1m0 7v1m0 3v1m0 8v1m0 39v2m0 35v1m0 5v1m0 6v1m0 5v1m0 6v1m0 2v1m0 4v1m0 12v1m0 1v1m0 51v1m0 51v1m0 8v1m0 14v1m0 8v1m1-362v1m0 2v1m0 19v2m0 16v2m0 19v1m0 2v1m0 11v1m0 8v1m0 4v2m0 10v1m0 4v1m0 23v1m0 11v1m0 34v1m0 1v2m0 3v1m0 18v1m0 9v1m0 2v1m0 22v1m0 29v1m0 14v1m0 16v1m0 7v1m0 4v1m0 8v1m1-311v1m0 22v1m0 19v1m0 61v1m0 74v1m0 15v1m0 22v1m0 8v1m0 16v1m0 7v1m0 34v1m0 36v1m0 4v1m1-347v1m0 2v1m0 10v1m0 55v2m0 15v1m0 5v1m0 8v1m0 86v1m0 8v1m0 32v1m0 1v1m0 3v1m0 12v1m0 11v1m0 13v1m0 2v1m0 10v1m0 15v1m0 9v1m0 8v2m0 22v1m0 2v1m0 3v1m0 7v1m1-360v1m0 1v1m0 6v1m0 12v2m0 34v1m0 16v1m0 3v1m0 17v1m0 1v1m0 5v1m0 3v1m0 3v1m0 1v1m0 5v3m0 6v1m0 2v1m0 1v1m0 10v1m0 6v2m0 9v1m0 14v1m0 3v1m0 3v1m0 10v1m0 8v1m0 18v1m0 1v1m0 2v1m0 16v1m0 4v1m0 18v1m0 6v1m0 4v1m0 32v1m0 5v1m0 1v1m0 10v1m0 24v1m0 9v1m1-360v1m0 9v1m0 15v1m0 5v1m0 4v1m0 2v1m0 10v1m0 8v1m0 7v1m0 4v1m0 7v1m0 13v1m0 4v1m0 5v1m0 14v1m0 2v1m0 1v1m0 5v1m0 14v1m0 4v1m0 7v1m0 19v1m0 19v1m0 4v1m0 8v1m0 1v1m0 5v1m0 1v1m0 6v1m0 3v1m0 4v1m0 8v1m0 14v1m0 1v1m0 3v1m0 12v1m0 4v1m0 10v1m0 28v1m0 1v1m0 17v1m0 9v1m1-370v1m0 5v1m0 21v1m0 41v1m0 12v2m0 1v1m0 72v1m0 14v1m0 23v1m0 3v1m0 6v2m0 3v1m0 5v1m0 5v1m0 15v1m0 14v1m0 20v1m0 1v1m0 27v1m0 3v1m0 2v1m0 3v1m0 12v1m0 8v1m1-341v1m0 13v1m0 18v1m0 19v1m0 5v1m0 9v1m0 13v1m0 11v1m0 32v1m0 3v1m0 6v1m0 39v1m0 6v1m0 5v1m0 4v1m0 1v2m0 10v1m0 17v1m0 29v1m0 29v1m0 12v1m0 6v1m0 23v1m0 17v1m0 4v1m0 6v2m0 4v1m1-379v1m0 4v1m0 1v1m0 84v1m0 21v1m0 28v1m0 51v1m0 35v1m0 15v1m0 17v1m0 26v2m0 4v1m0 16v1m1-304v1m0 1v1m0 12v1m0 9v1m0 14v1m0 19v1m0 22v1m0 12v1m0 6v1m0 37v1m0 33v1m0 34v1m0 54v1m0 1v1m0 3v1m0 60v1m0 6v1m0 14v1m1-364v1m0 10v1m0 8v1m0 1v1m0 4v1m0 17v1m0 10v1m0 5v1m0 85v1m0 15v1m0 3v1m0 12v1m0 27v1m0 9v1m0 45v1m0 35v1m0 28v1m1-331v1m0 2v1m0 13v1m0 12v1m0 1v1m0 1v1m0 2v1m0 8v1m0 15v1m0 7v1m0 2v1m0 13v1m0 5v1m0 17v1m0 46v1m0 10v1m0 7v1m0 8v2m0 64v1m0 30v1m0 27v1m0 12v1m0 6v1m0 23v1m0 7v1m0 1v1m0 7v1m1-361v1m0 5v1m0 15v1m0 7v1m0 2v1m0 18v1m0 2v1m0 1v1m0 1v1m0 2v1m0 24v1m0 4v1m0 30v1m0 8v1m0 1v1m0 1v1m0 1v1m0 15v1m0 18v1m0 10v1m0 23v1m0 25v1m0 8v1m0 11v1m0 10v1m0 1v1m0 4v1m0 1v1m0 7v1m0 2v1m0 10v1m0 10v1m0 11v1m0 4v1m0 10v1m1-345v1m0 7v1m0 53v1m0 11v1m0 7v1m0 7v1m0 25v1m0 21v1m0 7v1m0 18v1m0 4v1m0 25v1m0 36v1m0 17v1m0 36v1m0 2v1m0 51v1m0 2v1m0 4v1m0 5v1m0 1v1m1-353v1m0 4v1m0 12v1m0 4v1m0 16v1m0 58v2m0 25v1m0 1v1m0 33v1m0 16v1m0 1v1m0 15v1m0 35v1m0 32v1m1-280v1m0 10v1m0 13v1m0 13v1m0 2v1m0 7v1m0 1v1m0 9v1m0 16v1m0 20v2m0 8v1m0 7v1m0 37v1m0 5v1m0 7v1m0 33v1m0 3v1m0 2v1m0 7v1m0 9v1m0 3v1m0 28v2m0 8v1m0 32v1m0 15v2m0 6v1m0 25v2m0 4v1m0 5v1m0 1v1m1-368v1m0 16v1m0 2v1m0 18v2m0 2v1m0 12v1m0 32v1m0 9v1m0 14v1m0 15v1m0 11v1m0 9v2m0 1v1m0 9v1m0 23v1m0 1v1m0 9v1m0 20v1m0 6v1m0 57v1m0 43v1m0 3v1m0 1v1m1-332v1m0 30v1m0 5v1m0 17v1m0 2v1m0 2v1m0 24v1m0 21v1m0 3v1m0 30v1m0 6v1m0 7v1m0 16v1m0 4v1m0 12v1m0 126v2m1-328v1m0 12v1m0 15v2m0 10v1m0 3v1m0 5v1m0 10v2m0 1v2m0 3v1m0 9v1m0 22v1m0 1v1m0 1v1m0 32v1m0 2v1m0 1v1m0 1v1m0 19v1m0 41v1m0 15v1m0 5v1m0 8v1m0 7v1m0 13v1m0 5v1m0 16v1m0 20v1m0 12v1m0 1v1m0 5v1m0 2v1m0 1v1m0 4v1m0 10v1m1-349v1m0 2v1m0 1v1m0 10v1m0 22v1m0 10v1m0 4v1m0 36v1m0 5v1m0 7v1m0 29v1m0 12v1m0 4v1m0 5v1m0 14v1m0 8v1m0 1v1m0 4v2m0 9v1m0 21v1m0 10v2m0 4v1m0 21v1m0 24v1m0 8v2m0 56v1m0 3v1m1-360v2m0 27v1m0 9v1m0 3v2m0 18v1m0 11v1m0 2v1m0 5v2m0 9v1m0 4v1m0 5v1m0 47v2m0 4v1m0 25v1m0 8v1m0 12v1m0 4v1m0 13v1m0 1v1m0 12v1m0 6v1m0 14v2m0 2v1m0 5v1m0 29v1m0 13v1m0 2v1m0 1v1m0 46v1m1-373v1m0 7v1m0 11v1m0 9v1m0 28v1m0 56v1m0 31v1m0 11v1m0 17v1m0 6v1m0 3v1m0 1v1m0 5v1m0 6v1m0 19v1m0 2v1m0 16v1m0 19v1m0 15v1m0 16v1m0 19v1m0 31v1m0 9v1m1-353v1m0 26v1m0 6v1m0 13v1m0 13v1m0 10v1m0 7v1m0 62v1m0 4v1m0 3v1m0 10v1m0 9v1m0 9v1m0 12v1m0 4v1m0 7v1m0 32v1m0 20v1m0 1v1m0 29v1m0 8v1m0 15v1m0 11v1m0 2v1m0 19v1m0 6v1m1-369v1m0 3v1m0 16v1m0 9v1m0 6v1m0 24v1m0 14v1m0 12v1m0 9v1m0 21v1m0 11v1m0 2v2m0 7v1m0 7v1m0 18v2m0 19v1m0 7v2m0 19v1m0 6v1m0 3v1m0 5v1m0 24v1m0 5v1m0 4v1m0 3v1m0 2v1m0 3v1m0 2v1m0 7v1m0 22v1m0 4v1m0 11v1m0 13v2m0 4v1m0 2v1m0 10v1m1-364v1m0 1v1m0 6v1m0 56v1m0 31v1m0 3v1m0 10v1m0 17v1m0 6v1m0 6v1m0 6v1m0 9v1m0 23v1m0 14v1m0 48v1m0 13v1m0 1v1m0 23v1m0 2v1m0 21v1m0 1v1m0 19v1m0 7v1m1-341v1m0 11v1m0 14v1m0 4v1m0 2v1m0 4v1m0 39v1m0 1v1m0 5v1m0 13v1m0 7v1m0 2v2m0 3v1m0 27v1m0 3v1m0 27v1m0 3v1m0 12v1m0 6v1m0 3v1m0 22v1m0 13v1m0 3v1m0 39v1m0 24v1m0 13v1m0 23v1m0 2v1m1-376v1m0 15v1m0 1v1m0 3v1m0 2v1m0 19v1m0 9v1m0 2v1m0 25v1m0 6v1m0 33v1m0 12v1m0 11v1m0 10v1m0 23v1m0 14v1m0 28v1m0 16v1m0 10v1m0 9v1m0 62v1m0 15v1m0 10v1m1-358v1m0 7v1m0 4v2m0 1v2m0 31v1m0 9v1m0 57v1m0 2v1m0 41v1m0 44v1m0 1v2m0 7v1m0 9v1m0 8v1m0 9v1m0 5v1m0 15v1m0 6v1m0 12v1m0 11v1m0 14v1m0 11v1m0 4v1m0 8v1m0 33v1m0 3v1m1-381v1m0 30v1m0 6v1m0 34v1m0 20v1m0 3v1m0 3v1m0 21v1m0 40v1m0 33v2m0 7v1m0 16v1m0 14v1m0 20v1m0 16v1m0 9v1m0 1v1m0 9v1m0 12v1m0 1v1m0 6v1m0 11v1m0 20v1m0 8v1m0 2v1m0 2v1m0 4v1m0 2v1m1-369v1m0 1v1m0 12v2m0 2v1m0 15v1m0 16v1m0 40v1m0 3v1m0 1v1m0 13v1m0 1v1m0 1v2m0 23v1m0 7v1m0 13v1m0 3v1m0 16v1m0 20v1m0 18v1m0 16v1m0 4v1m0 27v1m0 2v1m0 14v1m0 32v1m0 8v1m0 2v1m1-341v1m0 10v1m0 9v1m0 9v1m0 26v1m0 89v1m0 12v1m0 15v1m0 17v1m0 15v1m0 8v1m0 6v1m0 2v1m0 1v1m0 10v1m0 6v1m0 2v1m0 8v1m0 40v1m0 2v2m0 2v1m0 14v1m0 39v1m0 4v2m1-355v1m0 4v1m0 6v1m0 3v1m0 8v2m0 7v1m0 49v1m0 11v1m0 14v1m0 88v1m0 13v1m0 29v1m0 110v1m1-355v1m0 51v1m0 2v1m0 63v1m0 13v1m0 9v1m0 7v2m0 46v1m0 17v1m0 14v1m0 5v1m0 28v1m0 6v1m0 7v1m0 2v1m0 2v1m0 2v2m0 7v1m0 5v1m0 2v1m0 8v1m0 10v1m0 11v1m1-363v1m0 20v1m0 45v1m0 17v1m0 42v1m0 14v1m0 5v1m0 27v1m0 3v1m0 12v1m0 25v1m0 3v2m0 61v1m0 23v1m0 33v1m0 17v1m1-362v1m0 5v1m0 2v1m0 14v1m0 33v2m0 17v1m0 23v1m0 26v1m0 11v1m0 9v1m0 24v1m0 37v1m0 1v1m0 6v1m0 1v1m0 57v1m0 34v1m0 29v1m0 11v1m1-360v1m0 20v1m0 3v1m0 6v2m0 91v1m0 1v1m0 5v1m0 6v1m0 50v1m0 26v1m0 39v1m0 23v1m0 73v1m0 14v1m1-368v1m0 11v1m0 27v1m0 7v1m0 7v1m0 2v1m0 3v1m0 16v1m0 46v1m0 1v1m0 1v1m0 11v1m0 30v1m0 19v1m0 11v1m0 53v1m0 12v1m0 30v1m0 27v1m0 5v1m0 20v1m1-371v1m0 6v1m0 1v1m0 33v1m0 6v2m0 4v1m0 1v1m0 2v1m0 19v1m0 2v1m0 20v1m0 8v1m0 9v1m0 15v1m0 7v1m0 4v1m0 7v1m0 28v1m0 6v1m0 5v1m0 2v1m0 33v1m0 13v1m0 24v1m0 17v1m0 10v1m0 27v1m0 6v1m0 2v1m0 10v1m0 8v1m1-358v1m0 20v1m0 3v1m0 25v1m0 25v1m0 15v3m0 24v1m0 6v1m0 24v1m0 42v1m0 60v1m0 12v1m0 72v1m0 6v1m0 12v1m0 7v2m1-369v1m0 2v1m0 22v1m0 23v2m0 21v1m0 3v2m0 6v1m0 4v1m0 20v1m0 13v1m0 11v1m0 18v1m0 108v1m0 19v1m0 31v1m0 43v1m0 5v1m1-365v1m0 8v1m0 1v1m0 7v1m0 15v1m0 23v1m0 51v1m0 10v1m0 65v1m0 6v1m0 17v1m0 42v1m0 1v1m0 7v1m0 64v1m0 29v1m0 3v1m1-373v1m0 2v1m0 10v1m0 18v1m0 5v1m0 2v1m0 13v1m0 1v1m0 4v2m0 1v1m0 71v2m0 38v1m0 1v1m0 13v1m0 12v1m0 46v1m0 12v1m0 15v1m0 5v1m0 7v1m0 9v1m0 27v1m0 11v1m0 4v1m0 8v1m0 9v1m1-367v1m0 9v1m0 3v1m0 3v2m0 6v1m0 4v1m0 3v1m0 9v1m0 24v1m0 24v1m0 5v1m0 20v1m0 5v1m0 1v1m0 26v1m0 3v1m0 1v1m0 6v1m0 43v1m0 7v1m0 1v1m0 21v1m0 2v1m0 4v1m0 9v1m0 6v1m0 15v1m0 2v1m0 1v1m0 2v1m0 59v1m0 10v1m1-352v1m0 44v1m0 37v1m0 11v1m0 71v1m0 16v1m0 13v1m0 6v1m0 5v1m0 1v1m0 3v1m0 31v1m0 94v1m1-366v1m0 16v1m0 10v1m0 2v1m0 5v1m0 15v1m0 10v1m0 37v1m0 3v2m0 3v1m0 7v1m0 34v1m0 2v1m0 23v1m0 3v1m0 16v1m0 39v1m0 2v1m0 5v1m0 24v1m0 3v1m0 7v1m0 4v1m0 3v1m0 13v3m0 5v2m0 26v1m0 7v1m1-363v1m0 18v1m0 51v1m0 87v1m0 22v1m0 16v1m0 21v1m0 8v1m0 1v1m0 12v1m0 6v1m0 17v1m0 85v1m0 14v1m1-366v1m0 5v1m0 17v1m0 17v1m0 9v1m0 6v1m0 38v1m0 2v1m0 18v1m0 1v1m0 14v1m0 10v1m0 27v1m0 19v1m0 1v1m0 44v1m0 7v1m0 13v1m0 35v1m0 3v1m0 5v2m0 15v1m0 38v1m0 7v1m1-345v1m0 47v1m0 22v1m0 15v1m0 13v1m0 3v1m0 26v1m0 14v1m0 6v1m0 19v1m0 10v1m0 69v1m0 11v1m0 25v1m0 17v1m0 19v1m1-363v1m0 7v1m0 5v1m0 11v1m0 12v1m0 12v3m0 22v1m0 20v1m0 18v1m0 31v1m0 3v1m0 13v1m0 7v1m0 19v1m0 17v1m0 4v1m0 21v1m0 8v1m0 3v1m0 8v1m0 1v1m0 23v1m0 15v1m0 6v1m0 1v1m0 16v1m0 7v1m0 5v1m0 17v1m1-369v1m0 5v1m0 3v1m0 3v1m0 1v1m0 24v1m0 2v1m0 9v1m0 21v1m0 6v1m0 8v1m0 13v1m0 6v1m0 3v1m0 2v1m0 5v1m0 4v1m0 11v1m0 28v1m0 2v1m0 2v1m0 2v1m0 1v1m0 33v1m0 31v1m0 35v1m0 1v1m0 4v1m0 3v1m0 6v1m0 2v1m0 2v1m0 5v1m0 23v1m0 5v1m0 4v1m0 1v1m0 5v1m0 6v1m0 5v1m1-365v1m0 2v1m0 14v2m0 7v1m0 15v1m0 7v1m0 12v1m0 61v1m0 20v1m0 12v1m0 7v1m0 4v1m0 7v1m0 16v1m0 13v1m0 13v1m0 6v1m0 2v1m0 26v1m0 38v1m0 4v1m0 38v1m0 27v1m1-371v1m0 16v1m0 20v2m0 30v1m0 21v1m0 15v1m0 26v1m0 18v1m0 31v1m0 7v1m0 11v1m0 14v1m0 12v1m0 9v1m0 39v2m0 21v1m0 5v1m0 21v1m0 12v1m0 10v1m0 1v1m1-367v1m0 5v2m0 32v1m0 25v2m0 1v1m0 8v1m0 8v1m0 21v1m0 7v1m0 20v1m0 2v1m0 10v1m0 13v1m0 3v1m0 4v2m0 7v1m0 21v1m0 7v1m0 11v1m0 5v1m0 2v1m0 10v2m0 8v1m0 12v1m0 3v2m0 1v2m0 2v1m0 2v1m0 4v1m0 3v1m0 12v1m0 6v1m0 32v1m0 10v2m0 15v1m1-373v1m0 14v1m0 37v1m0 46v1m0 1v1m0 57v1m0 1v1m0 28v1m0 15v2m0 22v1m0 36v1m0 21v1m0 21v1m0 61v1m1-358v1m0 4v1m0 3v1m0 21v1m0 10v1m0 4v1m0 88v1m0 3v1m0 16v1m0 7v2m0 2v1m0 29v1m0 13v1m0 10v1m0 8v1m0 14v1m0 15v1m0 4v1m0 13v1m0 4v1m0 3v1m0 22v1m1-340v1m0 23v1m0 59v1m0 62v1m0 4v1m0 10v1m0 17v1m0 5v1m0 1v1m0 23v1m0 1v1m0 23v1m0 39v1m0 11v1m0 3v1m0 18v1m0 11v2m0 9v1m0 3v1m0 10v1m0 2v1m0 19v1m1-366v1m0 8v2m0 2v1m0 8v1m0 24v1m0 4v2m0 3v1m0 6v1m0 12v1m0 3v1m0 25v1m0 3v1m0 29v1m0 11v1m0 35v1m0 27v1m0 1v1m0 4v1m0 18v1m0 2v1m0 20v1m0 50v1m0 22v1m0 15v1m1-361v1m0 2v1m0 1v1m0 5v1m0 4v1m0 17v1m0 8v1m0 1v1m0 20v1m0 4v1m0 7v1m0 25v1m0 8v1m0 10v1m0 20v1m0 2v1m0 2v1m0 1v1m0 10v1m0 25v1m0 17v1m0 8v1m0 21v1m0 7v1m0 2v1m0 1v1m0 4v1m0 40v1m0 6v1m0 10v1m0 13v1m0 9v1m1-346v1m0 4v1m0 1v1m0 16v1m0 10v1m0 4v1m0 15v1m0 41v1m0 55v1m0 67v1m0 19v1m0 14v1m0 17v1m0 2v1m0 8v1m0 12v1m0 50v1m0 6v1m1-355v1m0 27v1m0 1v2m0 7v1m0 5v1m0 2v1m0 6v1m0 1v1m0 4v1m0 3v2m0 1v1m0 7v1m0 9v1m0 2v1m0 1v1m0 20v1m0 21v1m0 4v1m0 7v1m0 5v1m0 8v2m0 1v1m0 29v1m0 12v1m0 11v1m0 5v1m0 2v1m0 6v1m0 10v1m0 30v1m0 5v1m0 1v1m0 10v1m0 7v1m0 2v2m0 16v1m0 4v1m0 2v1m0 12v1m1-343v1m0 18v1m0 2v1m0 22v1m0 21v1m0 5v1m0 2v1m0 25v1m0 11v1m0 8v1m0 17v1m0 1v1m0 3v1m0 10v1m0 6v1m0 19v1m0 5v1m0 17v1m0 27v1m0 25v1m0 8v1m0 33v1m0 3v1m0 5v1m0 8v1m1-332v4m0 12v1m0 60v1m0 7v1m0 13v1m0 30v1m0 7v1m0 21v1m0 3v1m0 27v1m0 9v1m0 9v2m0 22v1m0 29v1m0 6v1m0 3v1m0 5v1m0 24v1m0 15v1m0 10v1m0 1v1m0 14v1m0 21v1m1-375v1m0 14v1m0 5v1m0 54v1m0 21v1m0 20v1m0 15v1m0 9v1m0 12v1m0 44v1m0 8v1m0 1v1m0 9v1m0 15v1m0 21v1m0 33v1m0 2v1m0 62v1m1-361v1m0 11v1m0 60v1m0 3v1m0 7v1m0 15v1m0 2v1m0 1v1m0 12v1m0 5v1m0 6v1m0 3v1m0 23v1m0 10v1m0 10v1m0 6v1m0 7v1m0 33v1m0 16v1m0 4v1m0 9v1m0 5v1m0 7v1m0 22v1m0 1v1m0 3v1m0 4v1m0 8v1m0 17v1m0 17v1m0 5v1m0 5v1m1-363v2m0 6v1m0 9v1m0 1v1m0 2v1m0 2v1m0 21v1m0 6v1m0 3v1m0 8v1m0 7v1m0 10v1m0 2v1m0 12v1m0 5v1m0 37v1m0 20v1m0 31v1m0 1v1m0 3v1m0 10v1m0 9v1m0 34v1m0 21v1m0 3v3m0 14v1m0 21v1m0 5v1m0 1v3m1-353v1m0 4v2m0 16v2m0 1v1m0 3v1m0 9v1m0 5v1m0 15v1m0 12v1m0 1v1m0 3v1m0 5v1m0 14v1m0 15v1m0 8v1m0 8v1m0 5v1m0 11v1m0 25v1m0 24v1m0 2v1m0 16v1m0 8v1m0 16v3m0 25v1m0 3v2m0 6v1m0 10v1m0 3v2m0 10v1m0 4v1m0 27v1m1-336v1m0 8v1m0 3v1m0 2v2m0 9v1m0 1v1m0 13v2m0 5v1m0 13v1m0 5v1m0 13v1m0 18v1m0 2v1m0 1v1m0 21v1m0 6v1m0 20v1m0 16v1m0 11v1m0 3v1m0 22v2m0 4v1m0 1v1m0 18v1m0 23v1m0 68v1m0 20v1m0 8v1m1-324v1m0 13v1m0 32v1m0 18v1m0 6v1m0 11v1m0 3v1m0 8v1m0 44v1m0 19v1m0 22v1m0 9v1m0 4v2m0 29v1m0 5v1m0 3v1m0 4v1m0 3v1m0 10v1m0 4v1m0 9v1m0 16v1m1-347v1m0 10v3m0 2v1m0 33v1m0 3v1m0 10v1m0 27v1m0 29v1m0 3v1m0 11v1m0 13v1m0 6v1m0 6v2m0 2v1m0 21v1m0 1v1m0 1v1m0 17v1m0 19v1m0 7v1m0 5v1m0 9v1m0 11v1m0 54v2m0 5v1m0 22v2m0 5v1m1-358v1m0 3v1m0 1v1m0 5v1m0 6v1m0 5v1m0 7v1m0 1v1m0 16v1m0 2v1m0 1v1m0 10v2m0 19v1m0 25v1m0 5v3m0 20v1m0 41v1m0 3v1m0 23v1m0 3v1m0 6v1m0 12v1m0 12v1m0 9v1m0 38v1m0 2v1m0 15v1m0 4v2m0 44v1m1-379v1m0 3v1m0 9v1m0 6v1m0 16v1m0 16v1m0 37v1m0 16v1m0 23v1m0 5v1m0 7v1m0 13v1m0 28v1m0 9v1m0 3v1m0 7v1m0 19v1m0 15v1m0 6v1m0 25v1m0 1v1m0 1v1m0 9v1m0 5v1m0 13v1m0 16v1m0 16v1m1-350v1m0 5v1m0 25v1m0 23v1m0 3v1m0 9v1m0 2v1m0 3v1m0 22v1m0 3v1m0 2v1m0 8v1m0 4v1m0 3v2m0 13v1m0 7v1m0 20v1m0 88v1m0 5v1m0 6v1m0 2v1m0 2v1m0 34v1m0 18v1m0 7v1m0 23v1m1-361v2m0 1v1m0 8v1m0 10v1m0 82v1m0 29v1m0 9v2m0 4v1m0 31v1m0 16v1m0 9v1m0 8v1m0 9v1m0 30v1m0 1v1m0 23v1m0 2v1m0 3v1m0 21v1m0 33v1m0 15v1m1-308v1m0 6v1m0 57v1m0 14v2m0 32v1m0 21v1m0 6v1m0 7v1m0 55v1m0 5v1m0 49v1m0 51v1m1-367v1m0 20v1m0 42v1m0 7v1m0 40v1m0 6v1m0 8v1m0 14v1m0 19v1m0 24v1m0 6v2m0 93v1m0 29v1m0 21v1m0 8v1m1-359v1m0 14v1m0 9v1m0 25v1m0 1v1m0 3v1m0 9v1m0 3v1m0 6v2m0 14v1m0 11v2m0 1v2m0 2v1m0 14v1m0 45v1m0 1v1m0 1v1m0 8v1m0 18v1m0 1v1m0 7v1m0 5v1m0 7v1m0 17v1m0 43v1m0 20v1m0 22v2m1-347v1m0 5v1m0 42v1m0 14v1m0 3v1m0 5v2m0 27v1m0 3v1m0 4v1m0 1v1m0 4v1m0 17v1m0 8v1m0 13v1m0 5v1m0 3v1m0 1v1m0 15v1m0 4v1m0 26v1m0 4v1m0 29v1m0 14v1m0 51v2m0 20v1m1-340v1m0 16v1m0 2v1m0 32v1m0 61v1m0 3v1m0 17v1m0 53v1m0 37v1m0 19v1m0 22v1m0 12v1m0 23v1m0 1v1m0 57v1m0 3v1m1-312v1m0 2v1m0 12v2m0 14v1m0 26v2m0 41v2m0 29v1m0 2v1m0 11v2m0 17v1m0 11v1m0 15v1m0 17v1m0 21v1m0 7v1m0 8v1m0 8v1m0 21v1m0 14v1m0 9v1m1-363v1m0 5v1m0 6v1m0 18v1m0 5v1m0 15v2m0 9v1m0 7v1m0 36v1m0 23v1m0 2v1m0 59v1m0 25v1m0 13v2m0 27v1m0 1v1m0 22v1m0 1v1m0 16v1m0 29v1m0 3v1m0 4v1m0 3v1m0 2v1m1-360v1m0 7v1m0 15v2m0 29v1m0 44v1m0 22v1m0 25v1m0 37v1m0 4v1m0 3v1m0 14v1m0 35v1m0 1v1m0 51v1m0 38v1m0 9v1m0 1v1m0 1v1m0 14v1m1-371v1m0 5v1m0 25v1m0 175v1m0 79v1m0 39v1m0 1v1m1-305v1m0 58v1m0 29v1m0 8v1m0 52v1m0 46v1m0 1v1m0 20v1m0 5v1m0 20v1m0 23v1m0 9v1m0 11v1m0 12v1m0 7v1m1-335v1m0 5v1m0 10v1m0 8v2m0 8v1m0 36v1m0 7v1m0 6v1m0 13v1m0 6v1m0 7v1m0 3v1m0 38v1m0 9v1m0 6v1m0 31v1m0 32v1m0 27v1m0 4v1m0 26v1m0 17v1m0 2v1m0 27v1m0 6v1m1-372v1m0 1v1m0 4v1m0 36v1m0 54v1m0 10v1m0 35v1m0 62v1m0 74v1m0 48v1m0 12v1m0 2v1m1-340v1m0 2v1m0 19v1m0 47v1m0 77v1m0 154v1m0 7v1m0 7v1m0 22v1m1-354v1m0 3v1m0 1v1m0 6v1m0 53v1m0 5v1m0 29v1m0 2v1m0 20v1m0 60v1m0 102v1m0 50v1m0 11v1m0 16v1m1-366v1m0 4v1m0 5v1m0 30v2m0 1v1m0 21v1m0 27v1m0 17v1m0 96v1m0 37v1m0 23v1m0 34v1m0 9v1m0 3v1m0 10v1m0 4v1m0 8v1m2-348v1m0 4v1m0 26v1m0 8v1m0 3v1m0 20v2m0 75v1m0 3v1m0 4v1m0 38v1m0 10v1m0 28v1m0 13v1m0 1v1m0 24v1m0 23v1m0 17v1m0 35v1m0 6v1m2-366v1m0 37v1m0 7v1m0 10v1m0 5v1m0 32v1m0 5v1m0 4v1m0 7v1m0 1v1m0 12v1m0 6v1m0 1v1m0 7v1m0 3v1m0 8v1m0 23v1m0 10v1m0 8v1m0 4v1m0 7v1m0 4v1m0 1v1m0 7v1m0 44v1m0 14v1m0 51v1m0 5v1m2-298v1m0 6v2m0 2v3m0 22v1m0 38v1m0 5v1m0 26v1m0 2v1m0 1v2m0 12v1m0 1v1m0 31v2m0 1v1m0 15v1m0 7v1m0 13v2m0 15v1m0 46v1m0 1v1m0 1v1m0 9v1m0 2v1m0 12v1m0 1v1m0 10v1m0 17v2m2-341v1m0 31v1m0 11v1m0 7v1m0 6v2m0 39v1m0 2v1m0 35v1m0 10v1m0 8v1m0 35v1m0 5v1m0 1v1m0 18v2m0 13v1m0 16v1m0 85v1m2-380v1m0 16v1m0 20v1m0 2v1m0 20v1m0 9v1m0 5v2m0 36v1m0 20v1m0 13v1m0 32v1m0 55v2m0 34v1m0 4v1m0 24v2m0 1v1m0 2v2m0 7v1m0 55v1m2-380v1m0 5v1m0 2v1m0 25v1m0 43v1m0 59v1m0 43v1m0 2v1m0 57v1m0 22v1m0 53v1m0 7v1m0 8v1m0 9v1m0 10v2m0 8v1m0 10v1m2-353v1m0 20v1m0 47v1m0 21v1m0 65v1m0 2v1m0 14v1m0 30v1m0 3v1m0 5v1m0 18v1m0 27v1m0 30v1m0 39v1m5-302v1m0 8v1m0 28v1m0 4v1m0 41v1m0 40v1m0 22v1m0 26v1m0 52v1m0 21v1m0 26v1m0 33v1m5-382v1m0 5v1m0 1v1m0 3v1m0 13v1m0 30v1m0 45v1m0 31v1m0 15v1m0 9v1m0 14v1m0 25v1m0 3v1m0 1v1m0 16v1m0 20v2m0 21v1m0 10v1m0 1v1m0 3v1m0 16v1m0 50v1m0 17v1m0 15v1m5-385v2m0 2v1m0 47v1m0 9v1m0 3v1m0 5v1m0 43v1m0 12v1m0 5v1m0 3v1m0 6v1m0 10v1m0 21v1m0 26v1m0 7v1m0 1v1m0 66v1m0 4v1m0 24v1m0 27v1m0 3v1m0 18v1m0 8v1m5-373v1m0 33v1m0 18v1m0 2v2m0 9v1m0 18v1m0 1v1m0 9v1m0 53v1m0 12v1m0 8v1m0 6v1m0 33v1m0 29v1m0 16v1m0 47v1m0 4v1m0 3v2m0 11v1m0 51v1m5-378v1m0 10v1m0 4v1m0 25v1m0 44v1m0 5v2m0 79v1m0 21v1m0 22v1m0 35v1m0 24v1m0 36v1m0 8v1m5-313v1m0 5v1m0 1v1m0 14v1m0 9v1m0 12v1m0 2v1m0 17v2m0 15v1m0 3v1m0 10v1m0 8v2m0 9v1m0 1v1m0 59v1m0 9v1m0 27v1m0 19v1m0 81v1m0 11v1m0 3v1m0 20v1"/>
<path stroke="#472f7d" d="M5 36v1m0 28v1m0 30v1m0 4v1m0 19v1m0 37v1m0 41v1m0 118v1m0 31v1m0 5v1m0 33v1m1-361v1m0 13v1m0 140v1m0 79v1m0 13v1m0 101v1m1-352v1m0 4v1m0 11v1m0 23v1m0 10v1m0 10v1m0 10v1m0 5v1m0 18v1m0 44v1m0 82v1m0 7v1m0 15v1m0 86v1m0 29v1m1-371v1m0 43v1m0 1v1m0 104v1m0 16v1m0 1v1m0 1v1m0 16v1m0 25v1m0 11v2m0 55v1m0 19v1m0 2v1m0 31v1m0 22v1m2-329v1m0 5v1m0 17v1m0 68v1m0 16v1m0 32v1m0 11v1m0 4v1m0 42v1m0 10v2m0 14v1m0 12v1m0 12v1m0 12v1m0 4v1m0 11v2m0 3v1m0 7v1m0 6v1m1-317v1m0 1v1m0 68v1m0 1v1m0 2v1m0 27v1m0 43v1m0 3v1m0 11v1m0 5v1m0 48v1m0 54v1m0 36v1m1-301v1m0 20v1m0 37v1m0 81v1m0 115v1m0 14v1m0 42v1m0 23v1m1-320v1m0 5v1m0 2v1m0 76v1m0 5v1m0 35v1m0 23v1m0 11v1m0 14v1m0 4v1m0 6v1m0 23v1m0 17v1m0 3v1m0 34v1m0 24v1m0 6v1m0 11v1m1-366v1m0 8v2m0 1v1m0 6v1m0 26v1m0 54v1m0 4v1m0 79v1m0 95v1m0 24v1m0 4v1m0 42v1m1-352v1m0 24v1m0 10v1m0 22v1m0 16v1m0 39v1m0 16v1m0 63v1m0 93v1m0 20v1m0 22v1m1-316v1m0 8v1m0 4v1m0 26v1m0 23v1m0 28v1m0 22v1m0 6v1m0 68v1m0 9v1m0 31v1m0 8v1m0 18v2m0 36v1m0 8v1m1-329v1m0 13v1m0 55v1m0 14v1m0 54v1m0 102v1m0 18v1m0 16v1m0 33v1m0 48v1m1-369v1m0 12v1m0 9v1m0 10v1m0 34v1m0 1v1m0 5v1m0 9v1m0 39v1m0 105v1m0 5v1m0 50v1m0 9v2m0 29v1m1-339v2m0 2v1m0 3v1m0 20v1m0 15v1m0 15v1m0 24v1m0 8v1m0 2v1m0 8v1m0 30v1m0 20v1m0 36v1m0 35v1m0 69v1m0 10v2m0 49v1m0 1v1m1-309v1m0 9v1m0 10v1m0 13v1m0 2v1m0 13v1m0 3v1m0 15v1m0 6v1m0 13v1m0 6v1m0 28v1m0 14v1m0 19v3m0 8v1m0 91v1m0 8v1m0 8v1m0 4v1m1-345v1m0 8v1m0 11v1m0 21v1m0 68v1m0 33v1m0 8v1m0 24v1m0 145v1m0 5v1m1-339v1m0 2v1m0 37v1m0 7v1m0 45v1m0 35v1m0 22v1m0 2v1m0 19v1m0 10v1m0 29v1m0 30v1m0 3v1m0 16v1m0 26v1m0 16v1m0 23v1m0 1v1m0 17v1m0 15v1m1-255v1m0 18v1m0 44v1m0 1v1m0 113v1m0 58v1m1-327v1m0 31v1m0 51v1m0 17v1m0 30v1m0 10v1m0 98v1m0 67v1m0 1v1m0 19v1m0 4v1m0 2v1m1-362v1m0 22v1m0 16v1m0 28v1m0 63v1m0 15v1m0 1v1m0 40v1m0 25v1m0 4v1m0 22v1m0 9v1m0 48v1m0 18v1m0 27v1m0 5v1m0 3v1m1-363v1m0 10v1m0 29v1m0 3v1m0 46v1m0 91v1m0 41v1m1-216v1m0 17v1m0 24v1m0 29v1m0 13v1m0 41v1m0 15v2m0 12v1m0 48v1m0 22v1m0 10v1m0 3v1m0 2v1m0 14v1m0 9v1m0 20v1m0 3v1m0 10v1m0 38v1m1-372v2m0 13v1m0 1v1m0 1v1m0 3v1m0 6v1m0 8v1m0 8v1m0 19v1m0 26v1m0 35v1m0 28v1m0 1v1m0 4v1m0 30v1m0 11v1m0 17v1m0 17v1m0 23v1m0 42v1m0 39v1m0 13v1m1-346v2m0 4v1m0 8v1m0 6v1m0 5v1m0 8v1m0 3v1m0 24v2m0 11v1m0 1v1m0 17v1m0 9v1m0 18v1m0 8v1m0 5v2m0 34v2m0 9v1m0 51v1m0 13v2m0 2v1m0 5v2m0 9v1m0 49v1m0 12v1m0 4v1m0 4v2m0 2v1m1-376v1m0 2v1m0 10v1m0 53v1m0 18v1m0 23v1m0 3v1m0 39v1m0 2v1m0 2v1m0 46v1m0 17v1m0 9v1m0 61v1m0 5v1m0 35v1m1-338v1m0 21v1m0 5v1m0 49v1m0 37v1m0 13v1m0 61v1m0 54v1m0 17v1m0 49v1m0 4v1m0 26v1m1-276v1m0 74v1m0 26v1m0 94v1m0 29v1m1-270v1m0 56v1m0 25v1m0 9v1m0 24v1m0 31v1m0 43v1m1-225v1m0 72v1m0 143v1m1-208v1m0 6v1m0 1v1m0 44v1m0 16v1m0 7v1m0 4v1m0 28v1m0 3v1m0 87v1m0 38v1m0 10v1m0 39v1m0 34v1m1-319v1m0 56v1m0 12v1m0 3v1m0 7v1m0 104v1m0 1v1m0 13v1m0 14v1m0 1v1m0 38v1m0 20v1m0 40v1m0 9v1m0 10v2m0 4v1m1-314v1m0 32v1m0 158v1m0 57v1m0 8v1m0 5v1m0 6v1m1-333v1m0 8v1m0 40v1m0 44v1m0 156v1m0 57v1m0 17v1m1-329v1m0 18v1m0 3v1m0 1v1m0 21v1m0 6v1m0 32v1m0 60v1m0 4v1m0 43v1m0 25v1m0 26v1m0 31v1m0 34v1m0 35v1m1-352v1m0 24v2m0 9v1m0 44v1m0 17v1m0 5v1m0 17v1m0 6v1m0 8v1m0 33v1m0 11v1m0 21v1m0 55v1m0 25v1m0 18v2m0 2v1m0 27v1m0 29v1m1-358v1m0 13v1m0 20v1m0 6v1m0 31v1m0 41v1m0 5v1m0 56v1m0 23v1m0 7v1m0 14v1m0 11v1m0 45v1m0 45v1m1-333v1m0 3v1m0 10v1m0 7v1m0 18v1m0 3v1m0 2v1m0 99v1m0 34v1m0 35v1m0 51v1m0 2v1m0 5v1m0 32v1m0 16v1m0 13v1m1-360v1m0 9v1m0 17v1m0 30v1m0 41v1m0 32v1m0 18v1m0 9v2m0 10v1m0 25v1m0 10v1m0 8v1m0 11v1m0 51v1m0 64v1m0 2v1m0 5v1m1-361v1m0 4v2m0 1v1m0 61v1m0 23v1m0 6v1m0 65v1m0 51v1m0 46v1m0 42v1m0 17v1m0 16v1m1-244v1m0 1v1m0 30v1m0 32v1m0 5v1m0 3v1m0 61v1m0 54v1m0 29v1m0 10v1m1-331v1m0 3v1m0 11v1m0 40v1m0 21v1m0 7v1m0 26v1m0 14v1m0 2v1m0 87v1m0 3v1m0 34v1m0 24v1m0 17v1m0 44v1m0 9v1m1-362v1m0 2v1m0 27v1m0 15v1m0 3v1m0 5v1m0 92v1m0 8v1m0 51v1m0 3v1m0 1v1m0 109v1m0 10v1m0 27v1m0 5v1m1-372v1m0 5v1m0 14v1m0 54v1m0 108v1m0 24v1m0 33v1m0 22v1m0 63v1m0 31v1m1-364v1m0 1v1m0 2v1m0 28v1m0 109v1m0 6v1m0 30v1m0 16v1m0 25v1m0 93v1m0 4v1m0 9v1m1-335v1m0 3v1m0 17v1m0 36v1m0 6v1m0 2v1m0 3v1m0 131v1m0 23v1m0 18v1m0 19v1m0 9v1m0 33v1m0 47v1m0 13v1m1-374v1m0 32v1m0 66v1m0 28v1m0 18v1m0 14v1m0 28v1m0 65v1m0 86v1m1-348v2m0 2v1m0 6v1m0 27v1m0 1v1m0 32v1m0 2v1m0 27v1m0 2v1m0 56v1m0 19v1m0 11v1m0 34v1m0 10v1m0 20v1m0 19v1m0 26v1m0 24v2m0 37v2m1-362v1m0 19v2m0 21v1m0 14v2m0 8v1m0 6v1m0 33v1m0 11v1m0 6v1m0 27v1m0 44v1m0 12v1m0 81v1m0 32v1m0 16v1m1-357v1m0 9v1m0 17v1m0 10v1m0 2v1m0 53v1m0 13v1m0 8v1m0 32v1m0 1v1m0 27v1m0 6v1m0 23v1m0 31v1m0 8v1m0 3v1m0 5v1m0 1v1m0 4v2m0 54v1m0 6v1m0 19v1m1-359v1m0 6v1m0 28v1m0 24v1m0 2v1m0 63v1m0 179v1m0 11v1m0 25v2m0 18v1m1-365v1m0 21v1m0 23v1m0 12v1m0 60v1m0 67v1m0 13v1m0 15v1m0 5v1m0 49v1m1-242v1m0 71v1m0 7v1m0 115v1m0 42v2m0 7v1m0 18v1m1-279v1m0 12v1m0 2v1m0 77v1m0 6v1m0 33v2m0 5v1m0 16v1m0 15v1m0 13v1m0 5v1m0 18v1m0 20v1m0 33v1m0 13v1m0 18v1m1-325v1m0 37v1m0 41v1m0 17v1m0 5v1m0 67v1m0 103v1m0 65v1m0 13v1m1-350v1m0 4v1m0 5v1m0 166v1m0 16v1m0 2v1m0 7v1m0 6v1m0 14v2m0 3v1m0 3v1m0 27v1m0 57v1m0 6v1m0 6v1m0 19v2m1-368v1m0 87v1m0 50v1m0 16v1m0 7v1m0 2v1m0 4v1m0 6v1m0 62v1m0 47v1m0 17v1m0 35v1m0 16v1m1-346v1m0 24v1m0 85v1m0 39v1m0 25v1m0 44v1m0 47v1m1-218v1m0 10v2m0 28v2m0 63v1m0 11v1m0 12v1m0 39v1m0 8v1m0 58v1m0 1v1m0 6v1m1-318v1m0 12v1m0 93v1m0 52v1m0 31v1m0 138v1m0 20v1m0 20v1m1-362v1m0 88v1m0 99v1m0 9v1m0 58v1m0 18v1m0 36v1m1-328v1m0 1v1m0 18v1m0 37v1m0 64v1m0 38v1m0 24v2m0 19v1m0 29v1m0 8v1m0 29v1m1-278v1m0 3v1m0 20v1m0 43v1m0 67v1m0 10v1m0 10v2m0 22v1m0 96v1m1-274v1m0 17v1m0 5v1m0 13v1m0 9v1m0 7v1m0 5v1m0 40v1m0 14v1m0 9v1m0 9v1m0 5v1m0 86v1m0 27v1m1-277v1m0 50v1m0 83v1m0 73v1m0 34v1m0 7v1m0 19v1m0 3v1m0 73v1m0 32v1m1-369v1m0 28v1m0 35v1m0 10v1m0 83v1m0 23v1m0 4v1m0 32v1m0 95v2m0 9v1m1-336v1m0 4v1m0 12v1m0 85v1m0 34v1m0 18v1m0 54v1m0 30v1m0 6v1m0 15v1m0 11v1m1-285v1m0 49v1m0 12v1m0 54v1m0 58v1m0 38v1m0 31v1m0 17v1m0 58v1m0 27v1m1-346v1m0 50v1m0 4v1m0 50v1m0 14v1m0 2v1m0 17v1m0 28v1m0 7v1m0 14v1m0 29v1m0 2v1m0 11v1m0 16v1m0 36v1m0 60v1m1-356v1m0 5v1m0 97v1m0 88v1m0 35v1m0 142v1m1-381v1m0 5v1m0 1v1m0 1v1m0 91v1m0 15v1m0 30v1m0 1v1m0 22v1m0 3v1m0 9v1m0 110v2m0 33v1m1-288v1m0 1v2m0 19v1m0 21v1m0 43v1m0 4v1m0 6v1m0 16v1m0 8v1m0 14v1m0 5v1m0 40v1m0 6v1m0 10v1m0 13v1m0 21v1m0 6v1m0 3v1m0 5v2m0 10v1m0 3v1m0 5v1m0 17v1m0 1v1m0 28v1m1-373v1m0 22v1m0 9v1m0 42v2m0 173v1m0 10v1m0 12v1m0 19v1m0 19v1m1-309v1m0 61v1m0 22v1m0 34v1m0 4v1m0 18v1m0 7v1m0 2v1m0 9v1m0 1v1m0 16v1m0 143v1m0 1v1m1-338v1m0 125v1m0 7v1m0 20v2m0 34v1m0 8v1m0 90v1m0 7v1m0 7v1m0 7v1m1-319v1m0 14v1m0 7v1m0 24v1m0 4v1m0 16v1m0 1v1m0 2v1m0 94v1m0 38v1m0 23v1m0 25v1m0 49v1m0 45v1m0 2v1m0 7v1m1-359v1m0 26v1m0 121v1m0 73v1m0 18v1m0 23v1m0 33v2m0 42v1m1-356v1m0 6v1m0 10v1m0 29v1m0 122v1m0 76v1m1-249v1m0 2v1m0 1v1m0 4v2m0 2v1m0 5v1m0 13v1m0 10v1m0 11v1m0 20v1m0 9v1m0 9v1m0 29v1m0 48v1m0 8v1m0 1v1m0 60v1m0 17v1m0 21v1m0 5v1m0 4v1m0 48v1m0 18v1m0 5v1m1-300v1m0 37v1m0 18v1m0 12v1m0 169v1m0 36v1m1-332v1m0 2v1m0 1v1m0 7v1m0 37v1m0 5v1m0 6v1m0 68v1m0 108v1m0 17v1m0 17v1m0 27v1m1-318v1m0 4v1m0 64v1m0 110v1m0 67v1m0 13v1m0 27v1m1-282v1m0 5v1m0 15v1m0 14v1m0 17v1m0 7v1m0 28v1m0 9v1m0 29v1m0 13v1m0 7v1m0 1v1m0 44v1m0 3v1m0 10v1m0 10v1m0 15v1m0 34v1m0 3v1m0 25v1m0 2v1m0 6v1m0 9v1m0 19v1m0 3v1m1-342v1m0 32v1m0 30v1m0 13v1m0 22v1m0 16v1m0 42v1m0 5v1m0 14v1m0 39v1m0 10v1m0 8v1m0 41v1m0 18v1m1-328v1m0 1v1m0 2v1m0 4v1m0 10v2m0 5v1m0 5v1m0 1v1m0 26v1m0 23v1m0 22v1m0 5v1m0 28v1m0 29v1m0 11v1m0 8v1m0 19v1m0 40v1m0 50v1m0 39v1m0 5v1m0 1v1m0 3v1m0 10v1m1-379v1m0 2v2m0 19v1m0 79v1m0 10v1m0 20v1m0 15v1m0 40v1m0 66v1m0 3v1m0 46v1m0 2v1m1-315v1m0 6v2m0 20v1m0 24v1m0 7v1m0 32v1m0 21v1m0 19v1m0 28v1m0 1v2m0 13v1m0 25v1m0 42v1m0 37v1m1-285v1m0 47v1m0 42v1m0 8v1m0 28v2m0 22v1m0 44v1m0 5v1m0 6v1m0 3v1m0 9v1m0 7v1m0 12v1m0 22v1m0 20v1m0 13v1m0 7v2m1-320v1m0 6v1m0 19v1m0 10v1m0 8v1m0 34v1m0 31v1m0 15v1m0 16v1m0 16v1m0 4v1m0 17v1m0 8v1m0 9v1m0 23v1m0 7v1m0 22v1m0 17v1m0 8v1m0 1v1m0 51v1m0 14v1m0 15v1m1-369v1m0 7v1m0 1v1m0 44v1m0 17v1m0 44v1m0 37v1m0 18v1m0 110v1m0 5v1m0 12v1m0 34v1m0 1v1m0 1v1m1-355v1m0 2v1m0 68v1m0 5v1m0 28v1m0 31v1m0 35v1m0 118v1m0 7v1m0 49v1m0 8v1m0 20v1m0 1v1m1-380v1m0 11v2m0 21v1m0 19v1m0 3v1m0 33v1m0 73v1m0 36v1m0 1v1m0 95v1m1-296v1m0 9v1m0 31v1m0 38v1m0 45v1m0 25v1m0 11v1m0 2v1m0 78v1m0 16v1m1-260v1m0 1v1m0 2v1m0 48v1m0 23v1m0 40v1m0 1v1m0 55v1m0 23v1m0 9v1m0 42v1m1-262v1m0 62v1m0 13v1m0 17v2m0 163v1m0 5v1m0 13v1m0 10v1m0 8v1m0 5v1m0 37v1m0 27v1m1-366v1m0 20v1m0 294v1m0 12v1m0 39v1m1-375v1m0 44v1m0 139v1m0 161v1m1-349v2m0 13v1m0 3v1m0 5v1m0 43v1m0 17v1m0 21v1m0 60v2m0 40v1m0 4v1m0 11v1m1-226v1m0 5v1m0 26v1m0 29v1m0 8v1m0 47v1m0 1v1m0 6v1m0 19v1m0 9v1m0 4v1m0 1v1m0 89v1m0 49v1m0 17v1m0 12v1m0 6v1m1-343v1m0 98v1m0 11v1m0 21v1m0 12v1m0 68v1m0 145v1m1-374v1m0 7v1m0 5v1m0 50v1m0 62v1m0 203v1m1 40v1m1-367v1m0 13v1m0 36v1m0 122v1m0 28v1m0 19v1m0 72v1m1-297v1m0 70v1m0 146v1m0 36v1m1-263v1m0 10v1m0 93v1m0 82v1m1-178v1m0 25v1m0 5v1m0 52v1m0 19v1m0 47v1m0 37v1m0 15v1m0 11v1m0 17v1m0 24v1m0 33v1m0 48v1m1-350v2m0 6v1m0 84v1m0 1v1m0 57v1m0 44v1m0 64v1m2-271v1m0 77v1m0 38v1m0 12v1m0 37v1m0 25v1m0 9v1m0 21v2m0 22v1m0 5v1m0 20v1m0 41v1m2-317v1m0 7v1m0 50v1m0 14v1m0 93v1m0 20v1m0 21v1m0 47v1m0 41v1m0 7v2m0 7v1m2-322v1m0 55v2m0 150v1m0 4v1m0 8v1m0 24v1m0 18v1m0 102v1m2-315v1m0 57v1m0 108v1m0 25v1m0 37v1m0 13v1m0 12v1m0 41v1m0 13v1m2-302v1m0 26v1m0 98v1m0 23v1m0 5v1m0 63v1m0 18v1m2-307v1m0 32v1m0 6v1m0 13v1m0 139v1m0 35v1m0 27v1m0 44v1m2-262v1m0 28v1m0 28v1m0 38v1m0 3v2m0 58v1m0 34v1m0 25v1m0 28v1m0 17v1m0 50v1m5-333v1m0 7v1m0 13v1m0 5v1m0 88v1m0 44v1m0 14v1m0 26v1m0 5v1m0 31v1m0 9v1m0 30v1m5-320v1m0 1v1m0 32v1m0 82v2m0 33v1m0 5v1m0 6v1m0 10v1m0 22v2m0 6v1m0 12v1m0 104v1m5-314v1m0 36v1m0 31v1m0 60v1m0 8v1m0 2v1m0 67v1m0 5v1m0 22v1m0 7v1m0 68v1m5-329v1m0 3v1m0 48v1m0 21v1m0 2v1m0 40v1m0 35v1m0 28v1m0 46v1m0 26v1m0 11v1m0 67v1m0 39v1m0 3v1m5-361v1m0 48v1m0 34v1m0 32v1m0 28v2m0 6v1m0 12v1m0 8v1m0 22v2m0 12v1m0 101v1m5-333v1m0 20v1m0 11v1m0 34v1m0 117v1m0 31v1m0 10v1m0 49v1m0 23v1"/>
<path stroke="#443983" d="M5 29v1m0 21v1m0 224v1m2-242v1m0 12v1m0 18v1m0 231v1m0 17v1m0 25v1m1-228v1m0 44v1m2-129v1m0 83v1m0 19v1m0 66v1m0 13v1m0 23v1m0 5v1m0 32v2m0 15v1m0 79v1m0 5v1m1-355v1m0 11v1m0 74v1m0 13v1m0 19v1m0 96v1m0 96v1m0 15v1m0 32v1m1-360v1m0 153v1m0 84v1m1-248v1m0 7v1m0 50v1m0 57v1m0 87v1m0 3v1m0 73v1m0 21v1m0 12v1m0 5v1m1-324v1m0 69v1m0 102v1m0 111v1m1-284v1m0 46v1m0 27v1m0 62v1m0 46v1m0 76v1m1-200v1m0 27v1m0 90v1m0 51v1m1-232v1m0 1v2m0 138v1m0 190v1m1-216v1m0 56v1m0 63v1m0 69v1m0 48v1m0 7v1m1-364v1m0 22v1m0 6v1m0 20v1m0 92v1m0 46v1m0 100v1m0 21v1m0 7v1m0 11v1m1-296v1m0 10v1m0 36v1m0 51v1m0 3v1m0 3v1m0 29v1m0 11v1m0 39v1m0 2v1m0 82v1m1-323v1m0 81v1m0 178v1m1-255v1m0 40v1m0 60v1m0 38v1m0 134v1m0 14v1m0 68v1m1-363v1m0 12v1m0 44v1m0 284v1m1-338v1m0 180v1m0 15v1m0 27v1m1-209v1m0 1v1m0 22v1m0 144v1m0 62v1m0 57v1m1-302v1m0 12v1m1-30v1m0 85v1m0 69v1m1-161v1m0 84v1m0 111v1m0 56v1m0 20v1m0 30v2m0 12v1m0 26v1m0 18v1m0 4v1m0 3v1m1-376v1m0 6v2m0 27v1m0 13v1m0 79v1m0 62v1m0 8v1m0 42v1m0 33v1m0 32v2m0 8v2m0 26v1m1-338v1m0 24v1m0 46v1m0 48v1m0 33v2m0 39v1m0 35v1m1-225v1m0 28v1m0 93v1m0 2v1m0 54v1m0 72v1m0 65v1m1-140v1m0 2v1m1-203v2m0 86v1m0 55v1m1-126v1m1 37v1m0 6v1m0 1v1m0 31v1m0 82v1m0 85v1m0 29v1m0 5v1m0 21v1m1-327v1m0 7v1m0 3v1m0 33v1m0 64v1m0 44v1m0 31v1m0 72v1m0 65v1m1-318v1m0 238v1m1-248v1m0 297v1m1-209v1m0 6v1m0 41v1m0 2v1m0 77v1m0 21v1m0 32v1m1-251v1m0 4v1m0 37v1m0 3v1m0 2v1m0 2v2m0 4v1m0 2v1m0 2v1m0 17v1m0 8v1m0 59v1m0 84v1m0 43v2m0 3v1m1-258v1m0 57v1m0 15v1m0 31v1m0 44v1m0 76v1m0 31v1m1-316v1m0 1v1m0 47v1m0 7v1m0 40v1m0 2v1m0 58v1m0 39v1m0 54v2m0 68v1m1-322v1m0 49v1m0 6v1m0 18v1m0 106v1m0 1v1m0 162v1m1-357v1m1 15v1m0 8v2m0 145v1m1-171v1m0 172v1m0 183v1m1-363v1m0 45v1m0 2v1m0 47v1m0 8v1m0 36v1m0 16v1m0 13v1m0 68v1m0 57v1m0 7v1m1-16v1m0 5v1m0 24v1m1-280v1m0 6v1m0 26v1m0 28v1m0 17v1m0 70v1m0 44v1m1-237v1m0 120v1m0 20v1m0 30v1m0 11v1m0 21v1m0 8v1m1 85v1m0 14v1m1-314v1m0 3v1m0 120v1m0 2v1m0 12v1m0 40v1m0 11v1m0 101v1m1-302v1m0 2v1m0 23v1m0 41v1m0 124v1m0 19v1m0 24v1m1-240v1m0 35v1m0 12v1m0 31v1m0 13v1m0 35v1m0 51v1m0 41v1m0 64v1m1-290v1m0 7v1m0 39v1m0 253v1m1-303v1m0 1v1m0 1v1m0 53v1m0 145v1m0 4v1m0 23v1m0 61v1m1-273v1m1-25v1m0 14v1m0 79v1m0 38v1m0 17v1m0 9v1m0 7v1m0 65v1m0 18v1m0 111v1m0 2v1m1-377v1m0 20v1m0 57v1m0 71v1m1-152v1m0 96v1m0 38v1m0 221v1m1-284v1m0 9v1m0 144v1m0 150v1m1-375v1m0 107v1m0 63v1m0 96v1m1-176v1m0 25v1m0 16v1m0 9v1m0 63v1m0 17v1m0 122v1m1-330v1m1 131v1m0 26v1m1-190v1m0 7v1m0 151v1m0 31v1m0 131v1m1-57v1m1-230v1m0 57v1m0 87v2m0 25v1m0 130v1m0 8v1m2-261v1m1-87v1m0 260v1m1-69v1m0 104v2m1-301v1m0 3v1m0 7v1m0 2v1m0 88v1m0 39v1m0 42v1m0 1v1m0 21v1m0 6v1m0 14v1m0 131v1m1-359v1m0 3v1m1-12v1m0 8v1m0 4v1m0 6v1m0 322v1m1-293v1m0 103v1m0 96v1m0 8v1m0 24v1m1-241v1m0 72v1m0 127v1m0 56v1m0 31v1m1-148v1m0 133v1m1-323v1m0 38v1m0 46v1m0 9v1m0 55v1m0 78v1m0 15v1m0 33v1m1-278v1m0 4v1m0 38v1m0 89v1m0 69v1m0 124v1m1-338v1m0 47v1m0 281v1m0 44v1m2-373v1m0 150v1m0 25v1m0 14v1m0 24v1m0 38v1m0 48v1m0 34v1m0 1v1m1-338v1m0 113v1m0 98v1m0 20v1m0 51v1m1-293v1m0 144v1m0 138v1m1-282v1m1-4v1m0 2v1m0 173v1m0 84v1m0 31v1m0 41v1m0 12v1m0 19v1m1-252v1m0 168v1m0 37v1m0 26v1m0 3v1m0 5v1m1-292v1m0 72v1m0 50v1m0 31v1m0 23v1m0 93v1m1-344v2m0 35v1m1-36v2m0 47v1m0 9v1m0 53v1m0 96v1m0 1v1m0 90v1m1-313v1m0 49v1m0 73v1m0 30v1m0 196v1m0 18v1m1-350v1m0 12v1m0 19v1m0 63v1m0 1v1m0 15v1m0 1v1m0 134v1m0 81v1m0 10v1m1-261v1m0 27v1m0 19v1m0 122v1m0 50v1m1-116v1m1-163v1m0 70v1m0 11v1m0 61v1m0 81v1m1-277v1m0 67v1m0 240v1m1-304v1m0 160v1m0 54v1m1-226v1m0 5v1m0 13v1m0 75v1m0 44v1m0 32v1m0 1v1m0 7v1m0 21v1m0 111v1m0 4v1m0 54v1m1-368v1m0 122v1m0 45v1m0 146v1m2-328v1m0 57v1m0 77v1m1-21v1m0 79v1m0 16v1m0 82v1m0 62v1m2-354v1m0 154v1m0 179v1m1-333v1m0 62v1m0 104v1m2-178v1m0 243v1m1-198v1m0 101v1m0 180v1m1-326v1m0 9v1m0 87v1m0 124v1m0 66v1m1-290v1m0 59v1m0 119v1m0 134v1m2-321v2m0 371v1m2-373v1m0 1v1m0 44v1m0 116v1m0 49v1m0 13v1m0 18v1m0 52v1m2-302v1m0 61v1m0 77v1m0 21v1m0 45v1m0 83v2m2-295v2m0 87v1m0 43v1m0 47v1m0 48v1m2-228v1m0 95v1m0 67v1m0 39v1m0 9v1m0 2v1m0 153v1m2-372v1m0 168v1m0 46v1m0 17v1m0 107v1m2-344v1m0 6v1m0 67v1m0 135v1m5-198v1m0 138v1m0 137v1m0 36v1m0 34v1m5-377v1m0 119v1m0 64v1m0 17v1m0 123v1m0 37v1m0 5v1m5-363v2m0 3v1m0 13v1m0 34v1m0 26v1m0 92v1m0 102v1m0 66v1m5-236v1m0 64v1m0 68v1m0 66v1m0 14v1m5-324v1m0 1v1m0 51v1m0 150v1m0 54v1m0 49v1m0 4v1m0 24v2m0 18v1m5-359v1m0 34v1m0 111v1"/>
<path stroke="#414487" d="M5 203v1m0 18v1m2-115v1m0 26v1m1-69v1m1 321v1m1-361v1m0 22v1m0 74v1m0 13v1m0 2v1m0 17v1m0 126v1m1-258v1m0 89v1m0 6v1m0 233v1m0 5v1m0 19v1m0 3v1m1-372v1m0 9v1m0 117v1m1-105v1m0 234v1m1-253v1m1-3v1m0 6v1m1-1v1m0 74v1m0 60v1m2-141v1m0 107v1m1-111v1m0 207v1m1-200v1m0 112v1m0 46v1m1 82v1m0 25v1m1-279v1m0 34v1m0 31v1m0 129v1m0 3v1m5 8v1m1-172v1m0 31v2m0 39v1m0 82v1m0 65v1m1-100v1m0 8v1m0 94v1m0 36v1m0 68v1m1-237v1m0 7v1m0 9v1m0 4v1m0 1v2m0 7v1m1-121v1m0 98v1m1 184v1m3-334v1m0 2v1m1 190v1m0 35v1m0 12v1m0 15v1m2-269v1m0 77v1m0 229v1m2-231v1m0 2v1m0 3v1m0 17v2m0 1v2m0 8v1m0 246v1m1-336v1m0 327v1m1-327v1m1-14v1m0 132v1m1-142v1m1 97v1m2-31v1m0 101v1m0 15v1m0 122v1m3-307v1m1 53v1m0 186v1m1-102v1m0 60v1m0 101v1m1-133v1m1-173v1m0 362v1m2-344v1m0 275v1m2-292v1m0 161v1m0 3v1m0 1v1m1-167v1m0 351v1m1-362v1m0 70v1m0 117v1m0 43v1m3-158v1m0 261v1m2-204v1m0 124v1m0 17v1m1-52v1m1-55v1m1-183v1m0 347v1m1-40v1m1-306v1m0 4v1m0 1v1m0 199v1m0 75v1m2-279v1m0 238v1m0 70v1m1-60v1m0 10v1m1-268v1m1-4v1m1 100v1m0 32v1m0 8v1m0 18v1m0 70v1m0 15v1m0 31v1m1-155v1m0 178v1m1-296v1m0 213v1m1-213v1m0 89v1m0 210v1m2-290v1m0 79v1m0 102v1m1-71v1m2 207v1m1-263v1m2-82v1m0 2v1m0 15v1m0 26v1m0 141v1m1-157v1m0 42v1m1 159v1m1-154v1m0 60v1m1-77v1m1-59v1m1 74v1m0 197v1m1-275v2m0 66v1m0 202v1m3-275v1m0 276v1m1-278v1m0 216v1m3-215v1m1 216v1m0 130v1m1-348v1m0 249v1m1-260v1m0 7v1m1 252v1m4-259v1m1 147v1m1-149v1m0 369v1m2-77v1m0 58v1m2-335v1m0 28v1m0 31v1m0 94v1m0 3v1m0 141v1m2-323v1m0 21v1m0 26v1m0 126v1m2-98v1m2-82v1m0 3v1m0 186v1m2-190v1m2 44v1m0 19v1m0 49v1m0 63v1m0 92v1m0 94v1m5-310v1m0 289v1m5-361v1m0 10v1m0 181v1m5-190v1m0 371v1m5-374v1m0 11v1m0 24v1m0 3v1m0 260v1m0 41v1m10-338v1m0 2v1m0 263v1m0 93v1"/>
<path stroke="#3d4d8a" d="M7 33v1m0 8v1m0 343v1m1-360v1m0 108v1m1 138v1m1-208v1m0 283v1m1-324v1m0 1v1m0 1v1m0 41v1m0 43v1m0 1v1m0 1v2m0 1v1m0 215v1m1-302v1m1 231v1m1-181v1m1-66v1m2 36v1m0 284v1m3-275v1m4-51v1m0 198v1m1-191v1m0 42v1m0 181v1m4-224v1m0 71v1m1-81v1m0 137v1m0 7v2m0 2v1m0 21v1m0 1v1m0 178v1m0 4v1m1 0v1m4-281v1m1-26v1m0 177v2m0 21v1m0 6v2m1-137v1m3-55v1m0 5v1m0 8v1m0 14v2m0 6v1m0 3v1m0 6v1m1-38v1m1 37v1m0 245v1m1-372v1m2-4v1m1-5v1m0 163v1m1-158v1m4 256v1m4-243v1m1 163v1m2-195v1m4 133v1m2-118v1m1 330v1m1 36v1m2-167v1m1-211v1m4 310v1m2-200v1m1-95v1m2 5v1m0 229v1m2-199v1m1 8v1m2-59v1m0 234v1m3-236v1m2-5v1m1 359v1m6-342v1m2-20v1m2 0v1m6 129v1m1 18v1m1-151v1m2 236v1m4 7v1m4-243v1m0 280v1m2-281v1m2-4v1m2 2v1m0 276v1m7-288v2m0 4v1m0 1v1m0 178v1m0 84v1m5-265v1m5-2v2m0 1v1m5-15v1m0 86v1m0 57v1m5 60v1m5 162v1"/>
<path stroke="#39568c" d="M5 28v1m0 304v1m1-305v1m0 190v1m3-190v1m0 48v1m1-49v1m0 166v1m2-38v1m0 154v1m1-125v1m3-166v1m0 169v1m1-102v1m0 35v1m1-13v1m4 161v1m1-173v1m1-84v1m2-10v1m2 70v1m2 16v1m0 54v1m0 5v1m0 1v2m0 9v1m0 1v1m0 202v1m1-366v1m1-1v1m1 6v1m2-1v1m1 237v1m0 7v1m0 4v1m0 3v1m0 5v1m1-113v1m0 189v1m1-352v1m0 4v1m0 46v1m1 108v1m1-74v1m0 2v1m0 4v1m0 3v1m0 12v1m0 4v2m0 2v1m2-111v1m4-5v1m0 335v1m1-189v1m6-147v1m0 329v1m1-333v1m2 0v1m2-12v1m0 171v1m0 1v1m0 91v1m2 46v1m4 44v1m1-26v1m3-223v1m1-108v1m0 368v1m3-284v1m1 285v1m1-362v1m0 99v1m1-65v1m5-42v1m0 28v1m1-34v1m4 62v1m0 300v1m1-371v1m0 233v1m1-229v1m1 274v1m3-270v1m1 204v1m1-207v1m1 2v1m1-14v1m1 74v1m0 255v1m4-33v1m3-287v1m3-7v1m7 4v1m2-3v1m2 2v1m8-1v1m5-12v1m0 4v2m0 1v1m0 1v1m5-18v2m0 15v1m5-11v1m5-2v1m0 1v2m0 6v1m5 0v1"/>
<path stroke="#355f8d" d="M6 30v1m1-2v1m1-2v1m1 0v1m1 0v1m1-3v1m3-2v1m1 25v1m2-27v2m0 46v1m4-48v1m2 51v1m3-71v1m0 5v1m0 3v1m2 370v1m3-376v1m3 10v1m1-1v1m2 59v1m0 217v1m2-279v1m5 333v1m1-248v1m1-90v1m3 362v1m6-363v1m3 157v1m1-157v2m1-10v1m0 179v1m1-175v1m0 337v1m1-340v1m5-2v1m2 194v1m1-192v1m1-4v2m1 0v1m1-1v1m4 357v1m7-298v1m1-65v1m0 3v1m4 104v1m1-114v1m3 5v1m7-4v1m0 2v1m1-3v1m2 1v1m3-2v1m2 13v1m3-17v1m4-3v1m4 5v1m2-6v1m4-3v1m5-21v1m0 15v1m0 3v2m10-6v1m5 8v1m0 2v1m5-4v1m5 2v1"/>
<path stroke="#31688e" d="M6 33v1m1-3v1m1-3v1m1 0v1m3-10v1m4 4v1m1-3v1m2 2v1m7-10v1m2 67v1m3-70v1m0 2v1m1-5v1m0 3v1m0 2v1m2 4v1m2 241v1m9-244v1m4-4v1m3 0v1m3 2v1m4-2v1m5-8v1m2-1v1m0 4v1m1 1v2m1-27v1m3 17v1m2 5v1m3-1v1m5 1v1m1-3v1m4-4v1m2 4v1m1-1v1m2-6v1m7 0v1m1 3v1m3-6v1m0 2v1m0 1v1m2-1v1m3-1v1m4-4v1m6-7v1m0 2v1m2-3v1m0 5v1m4-7v1m7-6v1m0 12v1m5-20v1m5 4v1m5 0v1"/>
<path stroke="#2d708e" d="M7 25v1m6-5v1m7 3v1m4 1v1m1-2v1m2 59v1m2-68v1m2-6v1m0 4v1m1-2v1m0 3v1m6-8v1m1 12v1m1-1v1m3-1v1m2-4v1m1 1v1m3-2v1m2-5v1m2 4v1m4 0v1m1-18v1m0 1v1m2 13v1m2-8v1m0 2v1m0 3v1m4 0v1m2-12v1m1 4v1m6-1v1m2-3v1m7 4v1m6-3v1m0 2v1m1 1v1m1-9v1m0 4v1m0 2v1m1-1v1m2-12v1m6 7v2m8 1v1m6-7v1m4 0v1m2-1v1m2-2v1m2-9v1m0 3v1m5-8v1m0 2v1"/>
<path stroke="#2a788e" d="M5 27v1m0 2v1m2-5v3m0 1v1m2-3v1m1-1v1m2-10v1m1 8v1m6-3v1m1-3v1m3-1v1m0 3v1m2-4v1m4-2v2m1 2v1m1-14v1m0 2v1m1-2v1m3 8v1m1 0v1m1-4v1m0 2v2m6-5v1m1 1v1m3 1v1m2-4v1m0 1v1m1 0v1m1-9v1m0 5v1m0 1v1m5-1v1m2-27v1m3 22v1m0 1v1m2-2v1m3-1v1m2-8v1m1-10v1m0 5v1m1 10v1m5-13v1m0 2v1m0 6v1m2-3v1m0 2v1m0 1v1m1-6v1m1 2v2m1-5v1m2-1v1m1-1v1m0 2v1m2-2v1m1-1v1m1-1v1m0 2v1m1-9v1m7-3v1m8 6v1m4-6v1m0 5v1m3-1v1m1 1v1m4-6v1m8-1v1m17-9v1m0 3v1m5-11v1m0 1v1m5 7v1m0 3v1"/>
<path stroke="#27808e" d="M5 26v1m7-11v1m8 11v1m2-3v1m1-1v1m1-2v1m2-11v1m0 1v1m1 8v1m1-3v1m0 3v1m3-7v1m1-4v1m2 5v1m2-2v1m0 3v1m3-5v2m2-1v1m4-9v1m1 10v1m3-9v1m0 7v1m1-3v1m4-7v1m0 2v1m0 3v1m2-2v1m2-26v1m0 7v1m1 16v1m1 1v1m1-9v1m1 5v1m1 0v1m1-3v1m0 2v1m1-4v1m0 1v2m3-11v1m3 9v1m1-3v1m1 1v1m1-2v1m3-6v1m1-6v1m0 2v1m0 6v1m1-3v1m0 2v1m5-7v1m2-5v1m1 7v1m2-7v1m0 4v1m1-1v1m1-6v1m5-1v1m0 4v2m2-2v1m0 2v1m6-4v1m1-6v1m0 7v1m1-8v1m0 6v1m1-6v1m1 2v1m7-7v1m4 1v1m2-8v1m2-1v1m2 5v1m25-5v1m5 2v1"/>
<path stroke="#23888e" d="M6 26v1m0 1v1m4-3v1m2-7v1m2 5v1m0 49v1m2-52v1m5-5v1m0 5v1m2-3v1m4 2v1m2-3v1m0 1v1m5-5v1m1-1v1m3-8v2m1 75v1m3-68v1m1-3v1m4-6v1m0 1v1m0 3v1m1 1v1m2-7v1m0 2v1m2 2v1m1-1v1m1-4v1m0 2v1m1-11v1m0 6v1m0 1v1m1-7v1m1 5v1m1-28v1m2 22v1m1 4v1m5-2v1m1-2v1m3-7v1m1 6v1m2-8v1m1-1v1m0 2v1m0 1v1m1-3v1m3-9v1m1 4v1m1 7v1m1-6v1m0 1v1m1-6v1m1 4v1m1-5v1m7 3v1m3-3v1m0 1v1m1-12v1m0 1v1m0 4v1m2-2v1m2-1v1m2 7v1m2-6v1m2 2v1m1-7v1m2-1v1m0 7v1m2-1v1m3-6v1m0 4v1m6-11v1m2-1v1m4 3v1m5-14v1m0 3v1m25 8v1"/>
<path stroke="#21918c" d="M10 27v1m2-13v1m0 1v1m1 7v2m1-7v2m3 4v1m0 49v1m4-59v1m0 7v1m1-3v1m4-12v1m4 11v1m3-1v1m2-1v1m1-1v1m3 0v1m0 65v1m2-65v1m4-3v1m0 1v1m1-6v1m2-2v1m0 2v1m2-6v1m3 4v1m2-6v1m1 6v1m1-2v1m1-19v1m2 17v1m2 1v1m2-2v1m3-8v1m0 4v1m2-24v1m0 12v1m0 1v1m0 1v1m1 5v1m1-3v1m1 4v1m2-1v1m1-10v1m0 6v1m2 0v1m1-7v1m0 3v2m2-7v1m0 5v1m2 1v1m3-11v1m1 7v1m2-1v1m8-5v1m1 3v1m0 1v1m2-6v1m0 2v1m1 1v1m2-9v1m2 2v1m0 2v1m1-2v1m1-9v1m0 1v1m3 0v1m0 1v1m1-1v1m1 3v1m2-6v2m4-7v1m0 6v1m4-3v1m2-4v1m12-17v1m20 20v1"/>
<path stroke="#1f988b" d="M8 26v1m1 0v1m2-2v1m1-25v1m0 11v1m2 10v1m1-2v1m1-1v1m0 2v1m1-6v1m0 2v1m1-1v1m1-2v1m1 2v1m1-4v1m2 2v1m2 0v1m1-17v1m1 6v1m0 2v1m0 1v1m0 2v1m1 50v1m1-57v1m1 3v2m2-26v1m0 10v1m2 8v1m2 3v1m1-1v1m1-8v1m1 70v1m1-67v1m0 1v2m2-3v2m2-5v1m0 1v1m1-4v1m7 5v1m2-6v1m0 3v1m1-5v1m2-3v1m3 4v1m3-6v1m0 4v1m0 2v1m1-3v1m1-4v1m0 2v1m1-4v1m2-14v1m4 14v1m3-10v1m0 3v1m0 7v1m1-4v1m0 2v1m2-11v1m5-3v1m0 2v1m1 3v1m0 2v1m1-1v1m1-12v1m2 9v1m4-3v1m0 2v1m1-5v1m1 3v1m14-2v1m1-1v1m4-10v1m12 0v1m20-5v1"/>
<path stroke="#1fa188" d="M6 25v1m3-1v1m3-8v1m1-2v1m0 2v1m1 2v1m1 1v2m3-1v1m1-2v1m2-9v1m1 1v1m3 4v1m1-17v1m2 10v1m0 6v1m4-13v1m1 12v1m3-6v1m3 0v1m2 0v1m3 0v1m1-8v1m0 3v1m2 2v1m3-3v1m0 3v1m1-3v1m0 1v1m1-8v1m0 5v1m3-6v1m0 1v1m1-7v1m0 5v1m1-3v1m0 1v1m8-4v1m3-9v1m0 1v2m4 4v1m1 1v1m1 3v1m3-2v1m1-4v1m0 5v1m7-15v1m0 4v1m1-4v1m3 6v1m0 2v1m4-7v1m3 7v1m2-3v1m3-7v1m1 1v1m3 0v1m1 2v1m1-2v1m1-3v1m5-4v1m2-3v1m2-4v1m0 5v1m4-22v1m0 18v1m2-3v1m0 3v1m2-3v1m10-19v1m0 6v1"/>
<path stroke="#22a884" d="M5 24v2m1 1v1m1-4v1m1-1v1m2 0v1m4-7v1m0 4v1m13-4v1m1-1v1m5 2v1m7 0v1m1 1v1m1-6v1m4 3v1m2-1v1m1-5v1m3-1v1m3-4v1m4 3v1m2-2v1m1-1v1m2 0v1m5-10v1m1 8v1m0 2v1m6 0v1m7-10v1m1-2v1m2 1v1m0 2v1m1 0v1m1-2v1m5 0v1m1-4v1m1-11v1m1 12v1m1 1v1m1-4v1m8-8v1m1 6v1m2 0v1m0 2v1m2-7v1m4-5v1m4-2v1m2 4v1m2-5v1m2 6v1m15-11v1m15 1v1"/>
<path stroke="#2ab07f" d="M9 23v1m2 1v1m2-8v1m1 3v1m4 1v1m0 3v1m1-6v1m3-7v1m2 6v1m1-5v1m1-7v1m1 2v1m0 7v1m1-1v1m1-6v1m12 5v1m1-4v1m3-1v1m3-4v1m0 2v1m1-1v1m3-1v1m4-8v1m1-2v1m0 9v1m1-16v1m1 14v1m8-4v1m6 2v1m2 1v1m1-8v1m3 2v1m1 1v1m1 0v1m3-9v1m2-2v1m0 2v2m1 0v1m2-1v1m8 0v1m5 1v1m1-4v1m1-3v1m2-5v1m0 1v1m2 3v1m2 0v1m9-5v1m4-6v1m2 1v1m10-10v1"/>
<path stroke="#35b779" d="M9 24v1m4-2v1m9-8v1m0 1v1m0 4v1m6-2v1m1 0v1m1 0v1m1-12v1m2 12v1m1-10v1m0 5v1m1-4v1m7 3v1m1-3v1m1 0v1m3-6v1m9 3v1m4-1v1m3-1v1m5-22v1m0 14v1m4 5v1m5-9v1m1-1v1m0 4v1m0 4v1m4 0v1m1-4v1m1-9v1m1 5v1m4-7v1m2 7v1m1-7v1m10-3v1m0 1v1m3 5v1m5-3v1m3-3v1m2-2v1m2-1v1m2-2v1m2 0v1m29-2v1m0 1v1m0 3v1m5-4v1"/>
<path stroke="#44bf70" d="M8 25v1m4-15v1m1 7v1m7 6v1m1-4v1m2-9v1m1 7v1m3-4v1m1-3v1m6 2v1m0 4v1m5-6v1m4 1v1m0 2v1m3-5v1m1 0v1m1 3v1m5-5v1m2-10v1m1 0v1m0 2v1m3 1v1m1-5v1m2 2v1m4 2v1m6-8v1m1-1v1m2 1v1m1 5v1m3-7v1m4-4v2m2 1v1m0 3v1m10-9v1m5 0v1m0 10v1m1-4v1m2-3v1m3 2v1m2-6v1m2 6v1m1-4v1m4-4v1m2-2v1m0 1v1m4-5v1m29-3v1m5 6v1"/>
<path stroke="#54c568" d="M5 15v1m8 0v1m4 6v1m10-6v1m2-5v1m1 6v2m3-2v1m4 3v1m11-11v1m5 1v1m0 2v1m3-1v1m1-3v1m1-16v1m7 18v1m1-7v1m2-8v1m0 3v1m1-1v1m2 8v1m1 0v1m6-8v1m2 5v1m1-1v1m2-2v1m1-2v1m1 1v1m3 0v1m1-7v1m5 4v1m1-11v1m4 2v1m6-2v1m2 4v1m2-3v1m12-4v1m2 4v1m2-11v1m0 5v1m5-4v1m5-13v1m5 8v1m5 0v1m5 9v2"/>
<path stroke="#67cc5c" d="M11 27v1m2-4v1m6-8v1m3 7v1m3-14v1m2 10v1m1-1v1m1-3v1m3-12v1m1 5v1m2-10v1m2 15v1m4-1v1m1-3v1m3-3v1m10-5v1m1 3v1m1-4v1m0 2v1m4-7v1m0 9v1m2-1v1m1-2v1m1-4v1m8 3v1m2-10v1m6 2v1m4-3v2m2 0v1m5-17v1m0 20v1m1-4v1m1-2v1m3-2v1m1 2v1m2 1v1m2-6v1m2 4v1m1-2v1m2-5v1m2 1v1m1-1v1m3-6v1m0 2v1"/>
<path stroke="#7ad151" d="M5 14v1m2 8v1m1-8v1m2 6v1m2-11v1m1 8v1m1-5v1m1 3v2m5-3v1m0 1v1m1-23v1m0 23v1m4-4v1m1-21v1m5 7v1m4 12v1m1-1v1m1-7v1m1-6v1m3 1v1m2 6v1m3-1v1m4-1v1m1 1v1m12-3v1m3-12v1m0 10v1m1 1v1m1-21v1m2 18v1m1-6v1m3 4v1m5-1v1m5-4v1m6-8v1m5-13v2m1 15v1m1 4v1m2-1v1m2 0v1m2-6v1m1 2v1m3-6v1m1 0v1m3-1v1m2-3v1m2-1v1m4 5v1m6-11v1m5-11v1m0 8v1m10-1v1m15 7v1"/>
<path stroke="#90d743" d="M9 26v1m3-18v1m4 5v1m0 1v1m0 5v1m1-10v1m3 7v1m3-7v1m2 6v1m9-10v1m6 2v1m1 3v1m12 0v1m1-6v1m1-1v1m4 3v1m1-1v1m2-7v1m4 1v1m7 3v1m3-9v1m0 8v1m3-2v1m1-14v1m1 12v1m1-1v1m1-5v1m1-3v2m1 6v1m2-3v1m8-13v1m3 7v1m21-1v1m26-6v1m5 2v1"/>
<path stroke="#a5db36" d="M9 14v1m0 4v1m6-5v1m2 2v1m3-2v1m1-13v1m1 14v1m0 1v1m3-2v1m1-21v1m5 10v1m1-4v1m5 11v1m3-3v1m0 3v1m3-7v1m0 2v1m2-1v1m2-6v1m1-2v1m0 6v1m1-3v1m0 1v1m2-1v1m6-5v1m1-14v1m11-4v1m0 7v1m2 11v1m2-3v1m3-6v1m4 2v1m0 3v1m1-4v1m1 3v1m5-5v1m2 2v1m2-5v1m2-1v1m2-16v1m2 0v1m0 17v1m2-6v1m3 4v1m6-1v1m9-8v1m6-15v1m0 9v1m2 2v1m5-12v1m10 8v1m15 4v1"/>
<path stroke="#bddf26" d="M10 24v1m1-1v1m1-22v1m0 4v1m9 10v1m0 2v1m5-20v1m2 16v1m2-1v1m1-12v1m1 2v1m1 10v1m2-2v1m2-1v1m1-9v1m1 7v1m4-9v1m1 6v1m7-20v1m10 18v1m8-10v1m8 8v1m6-2v1m5 0v1m2 0v1m1-2v1m3-5v1m0 3v1m4-7v1m3 1v1m0 1v1m0 1v1m8-8v1m4-15v1m2-1v1m0 13v1m4-15v1m0 13v1m4-3v1m12-10v1m5-4v1m5 1v1"/>
<path stroke="#d2e21b" d="M6 24v1m10-3v1m2-5v1m4 2v1m11-2v1m8 1v1m11-2v1m5 0v1m3-8v1m2 5v1m3-8v1m7 6v1m1-6v1m21-1v1m4 6v1m2-9v2m0 4v1m3-13v1m6-3v1m2 13v1m14-22v1m15 1v1m5-3v1m10 16v1"/>
<path stroke="#eae51a" d="M7 21v1m1 1v1m2-2v1m1 0v1m12-2v2m6-9v1m1 7v1m3-2v1m2-9v1m0 6v1m18-1v1m2-6v1m4-3v1m0 7v1m6-2v1m28-4v1m5 2v1m9-1v1m3-1v1m3-9v1"/>
<path stroke="#fde725" d="M5 0v14m0 2v8m1-24v24m1-24v21m0 1v1m1-23v16m0 1v6m1-23v14m0 1v4m0 1v3m1-23v22m1-22v23m1-23v2m0 2v4m0 2v1m0 1v1m1-13v16m1-16v18m1-18v15m0 1v6m1-22v15m0 1v1m0 1v4m1-22v14m0 1v3m0 1v3m1-22v18m0 1v5m1-24v17m0 1v5m1-23v17m0 1v3m1-21v1m0 1v3m0 1v11m0 3v1m1-21v16m1-16v15m0 2v5m1-22v23m1-23v12m0 1v7m1-20v1m0 3v4m0 1v1m0 1v1m1-12v17m1-17v18m1-18v14m0 2v3m1-19v20m1-20v9m0 2v1m1-12v2m0 1v6m0 2v1m1-12v16m0 1v3m1-20v14m0 1v2m0 1v3m1-21v7m0 1v6m0 1v5m1-20v22m1-22v17m0 1v3m1-21v12m0 1v1m1-14v21m1-21v17m0 1v1m0 1v3m1-23v14m0 1v6m1-21v21m1-21v14m0 1v2m0 1v2m1-20v21m1-21v17m1-17v20m1-20v15m0 1v2m0 1v1m0 1v1m1-22v14m0 2v4m1-20v19m1-19v20m1-20v2m0 1v17m1-20v20m1-20v17m0 1v2m1-20v17m0 1v2m0 1v1m1-22v14m1-14v15m1-15v15m1-10v3m1-8v14m0 1v5m1-20v15m0 2v3m1-20v13m0 1v6m1-20v15m0 1v3m1-19v20m1-20v20m0 1v1m1-22v14m0 1v4m1-19v10m0 1v5m0 2v2m1-20v20m0 1v1m1-22v1m0 3v5m0 2v1m1-12v1m0 2v6m0 2v1m1-12v20m0 1v1m1-22v17m0 1v2m1-20v15m0 1v4m1-20v15m0 2v2m1-19v20m0 1v1m1-22v14m1-14v13m0 2v5m0 1v1m1-22v14m0 1v5m1-20v14m1-14v17m0 1v2m1-20v8m0 1v8m0 1v2m1-20v17m0 2v1m1-20v20m1-20v14m1-14v14m1-14v14m1-14v14m1-14v17m0 2v1m1-20v20m1-20v14m0 1v2m0 1v2m1-20v12m0 1v7m0 1v1m1-22v17m0 1v2m1-20v1m0 1v14m0 1v3m0 1v1m1-22v17m0 4v1m1-22v16m0 3v1m1-17v6m0 2v1m1-12v17m0 1v2m0 1v1m1-22v3m0 1v13m0 1v2m1-20v15m0 1v1m0 1v2m1-20v15m0 2v3m0 1v1m1-22v14m0 3v3m1-20v17m0 1v1m1-19v14m0 1v1m0 2v2m1-20v9m0 1v8m0 1v1m0 1v1m1-22v20m1-20v14m0 1v5m1-20v15m1-15v16m0 2v1m1-19v17m0 2v1m1-20v7m0 1v6m0 1v2m0 1v1m0 2v1m1-22v19m1-19v17m0 1v2m2-19v12m0 6v1m2-19v13m2-14v14m2-13v13m2-13v13m2-13v9m0 1v1m0 1v1m2-13v8m0 1v1m0 1v1m5-10v6m5-5v3m5-6v1m0 1v6m0 3v1m5-12v1m0 1v6m5-9v14m5-14v15"/>
</g></g>
<g fill="none" stroke="#000" stroke-width="1.11" stroke-linecap="square">
<rect x="98.5" y="85.5" width="864" height="737"/>
<path stroke-linecap="butt" d="M179.5 822.5v5M287.5 822.5v5M395.5 822.5v5M503.5 822.5v5M611.5 822.5v5M719.5 822.5v5M827.5 822.5v5M935.5 822.5v5"/>
<path stroke-linecap="butt" d="M98.5 810.5h-5M98.5 689.5h-5M98.5 569.5h-5M98.5 448.5h-5M98.5 327.5h-5M98.5 206.5h-5M98.5 85.5h-5"/>
<path stroke-linecap="butt" d="M1052.5 822.5h5M1052.5 699.5h5M1052.5 577.5h5M1052.5 454.5h5M1052.5 331.5h5M1052.5 208.5h5M1052.5 85.5h5"/>
</g>
<rect x="1016.5" y="85.5" width="36" height="737" fill="url(#g)" stroke="#000" stroke-width="1.11"/>
<g class="t" text-anchor="middle">
<text x="178.64" y="847.77">2</text>
<text x="286.63" y="847.77">4</text>
<text x="394.61" y="847.77">6</text>
<text x="502.6" y="847.77">8</text>
<text x="610.58" y="847.77">10</text>
<text x="718.56" y="847.77">12</text>
<text x="826.55" y="847.77">14</text>
<text x="934.53" y="847.77">16</text>
<text x="529.59" y="874.29">Frequency (MHz)</text>
<text transform="translate(38.28 453.73) rotate(-90)">Virtual range (km)</text>
<text transform="translate(1109.99 453.73) rotate(-90)">SNR (dB)</text>
</g>
<g class="t" text-anchor="end">
<text x="87.93" y="818.06">0</text>
<text x="87.93" y="697.24">100</text>
<text x="87.93" y="576.42">200</text>
<text x="87.93" y="455.6">300</text>
<text x="87.93" y="334.78">400</text>
<text x="87.93" y="213.97">500</text>
<text x="87.93" y="93.15">600</text>
</g>
<g class="t">
<text x="1062.09" y="830.14">0</text>
<text x="1062.09" y="707.31">5</text>
<text x="1062.09" y="584.47">10</text>
<text x="1062.09" y="461.64">15</text>
<text x="1062.09" y="338.81">20</text>
<text x="1062.09" y="215.98">25</text>
<text x="1062.09" y="93.15">30</text>
</g>
<g class="T"><text x="158.91" y="43.79" xml:space="preserve" style="white-space:pre">IRF Kiruna Ionosonde KI167 2025-11-30 18:23:00  UT</text>
<text x="232.4" y="76.9">noise_floor=-119.95 (dB) peak SNR=96.42</text></g>
</svg></body></html>
